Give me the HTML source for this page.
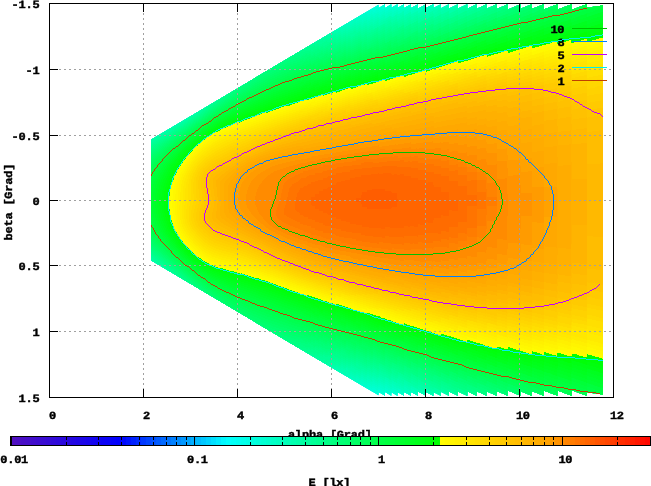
<!DOCTYPE html>
<html><head><meta charset="utf-8"><title>plot</title>
<style>html,body{margin:0;padding:0;background:#fff}svg{display:block}text{text-rendering:geometricPrecision;font-family:"Liberation Mono",monospace;font-weight:bold;font-size:12.0px;fill:#000;stroke:#000;stroke-width:0.45px}</style></head><body>
<svg width="651" height="486" viewBox="0 0 651 486">
<rect width="651" height="486" fill="#fff"/>
<defs><clipPath id="hc"><polygon points="151.3,139.6 378.5,4.7 378.5,8.1 385.0,4.3 385.0,3.5 385.0,7.9 391.3,4.3 391.3,3.5 391.3,7.8 397.5,4.3 397.5,3.5 397.5,7.9 404.0,4.3 404.0,3.5 404.0,8.1 411.0,4.3 411.0,3.5 411.0,8.0 418.0,4.3 418.0,3.5 418.0,8.5 426.0,4.3 426.0,3.5 426.0,8.0 433.3,4.3 433.3,3.5 433.3,8.1 441.0,4.3 441.0,3.5 441.0,8.2 449.0,4.3 449.0,3.5 449.0,8.6 458.0,4.3 458.0,3.5 458.0,8.6 467.2,4.3 467.2,3.5 467.2,8.7 476.8,4.3 476.8,3.5 476.8,8.7 486.6,4.3 486.6,3.5 486.6,8.8 496.8,4.3 496.8,3.5 496.8,9.0 507.7,4.3 507.7,3.5 507.7,9.7 520.6,4.3 520.6,3.5 520.6,8.8 531.8,4.3 531.8,3.5 531.8,9.1 543.8,4.3 543.8,3.5 543.8,9.6 557.6,4.3 557.6,3.5 557.6,9.6 571.7,4.3 571.7,3.5 571.7,9.8 586.9,4.3 586.9,3.5 586.9,7.7 603.0,5.5 603.0,394.5 586.9,392.3 586.9,396.5 586.9,395.7 571.7,390.2 571.7,396.5 571.7,395.7 557.6,390.4 557.6,396.5 557.6,395.7 543.8,390.4 543.8,396.5 543.8,395.7 531.8,390.9 531.8,396.5 531.8,395.7 520.6,391.2 520.6,396.5 520.6,395.7 507.7,390.3 507.7,396.5 507.7,395.7 496.8,391.0 496.8,396.5 496.8,395.7 486.6,391.2 486.6,396.5 486.6,395.7 476.8,391.3 476.8,396.5 476.8,395.7 467.2,391.3 467.2,396.5 467.2,395.7 458.0,391.4 458.0,396.5 458.0,395.7 449.0,391.4 449.0,396.5 449.0,395.7 441.0,391.8 441.0,396.5 441.0,395.7 433.3,391.9 433.3,396.5 433.3,395.7 426.0,392.0 426.0,396.5 426.0,395.7 418.0,391.5 418.0,396.5 418.0,395.7 411.0,392.0 411.0,396.5 411.0,395.7 404.0,391.9 404.0,396.5 404.0,395.7 397.5,392.1 397.5,396.5 397.5,395.7 391.3,392.2 391.3,396.5 391.3,395.7 385.0,392.1 385.0,396.5 385.0,395.7 378.5,391.9 378.5,395.3 151.3,260.4"/></clipPath>
<clipPath id="xl"><rect x="0" y="400" width="651" height="36"/></clipPath></defs>
<g clip-path="url(#hc)" shape-rendering="crispEdges">
<rect x="146" y="-2" width="462" height="404" fill="#00ffeb"/>
<path fill="#00ffe5" d="M607.8 401.8l-214.6 0-1-1-1.4-.1-1-1-1.6-.5-1-1-2-1-.4 4.1-1-1-5-3-.5 .5-.1 1.5-2-1-1-1-1.4-.5-1-1-.5 .4-.1 1.6-5-3-.4 2.1-5-3.5-.6 2-2-1.5-1.4-.5-1-1-.8 .4-.2 1.2-2-1-2.6-2-.4 0-.3 1.2-.7 .4-3.6-2.5-.1 1.1-.9 .5-3.4-2.5-.6 0-.4 3.2-4-3-.9 .4-.1 1.1-4-2.5-.6 1.7-3.4-2.5-.6 1.6-2.4-1.5-1.6-1.5 0 1-1 .5-1-1-2-1-.4 2.8-3.6-2.5-.4 3.4-3-2.5-1.6 1-2.4-2-.6 1.6-3-2.5-.4 0-.6 1.1-.4 0-2.6-2-.4 2.1-3 .1-8.5-2.1-9.5-1.4-7-2.6-7-1.3-7.8-3.7-10.2-3.2-3.6-2.7-12-6.8-2-1.6-3.3-4.7-3.1-3.2-5.9-7.2-3.7-5.9-8.2-10.1-6.5-10-13.3-15.6-17.6-16.4-4.8-3.6-3.6-3.5-5-2.8-4.4-3.6-3.6-2 0-144.3 11.6-4.8 7-4 5.4-2.1 5.6-2.6 9-6.5 5.2-2.8 9.2-9.2 7-6 16.5-18.2 6.1-7.7 10.4-10.9 18-15.8 6-4.3 5.6-2.5 5.4-4 8-2.6 7-3.2 6.6-1.9 4-.7 .4 1.5 3-2.5 .6 1.5 3.4-2.5 .1 1 .5 .4 2.4-2 .6 0 .4 1 .6 0 3-2.5 0 1.1 1 .5 3-2.5 .4 3.1 3.6-2.5 .4 1.7 3.6-2.5 .7 .2 .3 1.3 3.4-2.5 .2 1.2 .8 .4 3.6-2.5 .4 1.5 2-1 2.6-2 .1 1.2 .9 .3 3.4-2.5 .7 .2 .3 1.4 3.6-2.5 .5 .1 0 1 .9 .3 1-1 3.6-2 .1 1.1 .9 .5 1-1 1.4-.5 2-1.5 .1 1.5 .5 .4 5-3.5 .4 1.9 5-3 .6 2 1-1 1.4-.5 1-1 2-1 .6 2.1 2-1.5 1.4-.5 2.6-2 .4 4.2 2-1 1-1 1.6-.5 1-1 1.4-.2 .9-.9 4.6 0 0 1.6 .5 .1 2.7-1.7 3.2 0 .1 .7 1.2-.7 202.4 0 0 403.6z"/>
<path fill="#00ffdf" d="M607.8 401.8l-202.3 0-1.3-.8-.2 .8-2.9 0-2.9-1.9-.8 .3-.3 1.6-.9-.9-2.4-1-2-1.5-.6 .3-1-1-2.4-1-2-1.5-.6 0-.4 3.6-2-1-1-1-1.6-.5-1-1-.9 .5-.1 1.5-1-1-1.4-.5-1-1-2-1-.5 .4-.1 1.6-2-1.5-1.4-.5-1-1-.6 0-.3 1.4-.7 .2-4.4-3-.6 2-4.4-3-.9 .4-.1 1.1-3.6-2-1-1-.4 0-.3 1.3-.7 .4-3.6-2.5-.1 1.1-.9 .5-3.4-2.5-.6 0-.4 3.2-2.6-2-2-1-.4 .4 0 1-4-2.5-.6 1.7-3.4-2.5-.3 1.3-.7 .3-3.6-2.5-.4 1.5-3.6-2.5-.4 3.4-1.6-1.5-2-1-.4 2.8-3.6-2.5-1-.1-2.4-2-.6 2.6-.4 0-3-2.5-.6 1.6-2.4-2-.8 .4-.2 1.2-3 0-6-1.7-11.6-1.9-7-2.6-5.4-.9-4.6-1.6-4.4-2.4-10-3.1-3.6-2.6-14-8.2-3.4-4.6-9-10.2-4-6.2-8-9.5-6.9-10.3-13.1-15-17.6-16.3-5-3.7-3.3-3.4-4.7-2.6-4.4-3.5-4.6-2.7 0-141.8 12.6-5.3 7-4.1 10.4-4.6 9-6.4 5.6-3 9-9 7-5.9 16.6-18.1 5.8-7.3 11-11.2 4-3 13.6-12.1 6.4-4.4 5.6-2.5 5-3.7 8-2.6 7-3.1 6.4-2 3.6-.6 .4 1.9 .6 .1 2.4-2 .6 1.6 2.4-2 2-.7 1.6-1.5 1-.5 0 1 .4 .5 3.6-2.5 .4 2.6 .6 0 2.4-2 1 .4 0 1.1 3.6-2.5 .4 1.7 4-3 .6 2.1 3.4-2.5 .6 1.5 3.4-2.5 .7 .1 .3 1.5 4.6-3 0 1.1 1 .3 3.4-2.5 .7 .2 .3 1.4 3.6-2.5 .5 .1 0 1 .9 .3 1-1 3.6-2 .1 1.1 .9 .5 4.4-3 .1 1.5 .5 .4 4.4-3 .7 .2 0 1 .9 .2 1-1 1.4-.5 2-1.5 .6 2 2-1 1-1 1.4-.5 1-1 .3 1.7 .7 .3 1-1 1.6-.5 1-1 2-1 .4 2.2 2-1 1-1 1.6-.5 1-1 .5 .1 0 1.4 .5 .4 5.3-3.4 .3 0 .3 4 .5 .1 1-1 2.6-1 2-1.5 .4 .4 0 1.6 .6 0 4.5-2.6 1.7 0 0 1 .8 .4 2.3-1.4 3.8 0 .3 .4 .4-.4 7.6 0 0 .6 1.1-.6 180.5 0 0 403.6z"/>
<path fill="#00ffd9" d="M607.8 401.8l-194 0-2-1.1-.6 .1 0 1-1.8 0-4.6-2.7-.7 .1-.3 1.8-2-1.5-2.6-1-1-1-.8 .3-.2 1.6-5-3-.9 .4-.1 1.5-1-1-2.4-1-2-1.5-.9 .4-.1 1.7-1-1-1.6-.5-1-1-2-1-.9 .4 0 1-.5 0-2-1.5-1.6-.5-1-1-.9 .4 0 1-.5 .1-2-1.5-1.6-.5-1-1-.4 2.1-5-3-.6 2-5-3.5-.4 2-2-1.5-1.6-.5-1-1-.4 0-.3 1.3-.7 .3-3.6-2.5-.1 1.2-.9 .4-4-2.5-.4 3.2-3.6-2.5-2-.6-1-1-1.4-.5-1-1-.6 3.2-3.4-2.5-.6 2-4-3-.4 1.6-3.6-2.5-.4 3.4-3.6-2.5-.4 1.7-3.6-2.5-.4 1.4-2.6-2-.4 0-.6 1.1-.4 0-2.6-2-.4 0-.6 1.1-3-2-.4 2.5-1.6 .1-7-1.8-10.4-1.8-7.6-2.7-6.4-1.2-4-1.5-4-2.2-10.6-3.3-3-2.3-14-8-3.8-4.8-9.2-10-3.9-6-8.1-9.3-6.9-10.1-12.5-14.2-17.6-16.4-5.4-4-3-3.1-5-2.8-4.6-3.7-5-2.9 0-139.2 13-5.7 7-4.1 10.6-4.7 9-6.4 5.1-2.8 9.3-9.1 7-5.9 17-18 5.6-6.9 11-10.9 4-3 14-12.2 6-4.1 5.4-2.4 5.6-3.9 8-2.6 6.4-2.9 6.6-2 3-.6 .4 2.1 2.6-2 .4 0 .6 1.1 .4 0 3-2.5 .6 1.4 3-2 .4 1.4 3.6-2.5 .4 1.6 3.6-2.5 .4 1.5 3.6-2.5 .2 1.4 .8 .3 3.4-2.5 .6 1.6 .4 0 2.6-2 .5 0 0 1 .5 .4 3.4-2.5 .7 .1 .3 1.5 1-1 1.6-.5 2-1.5 0 1.1 1 .3 3.4-2.5 .6 .2 .4 1.4 3.6-2.5 .5 .1 0 1 .9 .3 1-1 1.6-.5 2-1.5 .4 2.1 5-3.5 .1 1.5 .5 .4 5-3 .4 1.9 1-1 1.6-.5 2-1.5 .7 .3 0 1 .7 .2 1-1 1.6-.5 2-1.5 .4 0 .3 1.2 .7 .3 2-1 1-1 1.6-.5 1-1 .1 1.8 .9 .4 2-1.5 2.4-1 1-1 .2 1.5 .8 .3 5-3 .2 1.7 .8 .5 1-1 2.6-1 2-1.5 0 1.6 1 .4 4.9-3 1.1 0 .3 3.6 .7 .2 6-3.5 .4 2.5 1-1 3.8-1.8 2.9 0 .3 1 1.5-1 180.1 0 0 403.6z"/>
<path fill="#00ffd3" d="M607.8 401.8l-189.2 0-.4-.4-4 .4-2.4-1.5-1-.1-4-2-2-1.5-.7 .1 0 1.4-.3 .3-6-3.5-.6 2-1.4-.5-1-1-3-1.5-.5 .2-.1 1.6-6-3.5-.3 1.9-.7 .2-1-1-1.4-.5-1-1-2-1-.5 .3-.1 1.6-2-1-1-1-1.4-.5-1-1-.5 .5 0 1.4-.5 .1-1-1-1.6-.5-2-1.5-.4 2.1-2-1.5-1.6-.5-1-1-.8 .4 0 1-.6 .1-2-1.5-1.6-.5-1-1-.4 2-2-1.5-1.6-.5-1-1-.7 .3-.3 1.3-4-2.5-.2 1.2-.8 .4-3.4-2.5-.7 .1-.3 1.5-3.6-2-1-1 0 1.5-.4 .5-4-3-.6 3.1-.4 0-2.6-2-.9 .4-.1 1.1-3.4-2.5-.9 .4-.1 1.2-3.6-2.5-.4 2.9-.6 0-2.4-2-.6 0-.4 1.1-.6 0-2.4-2-1.6 .9-2.4-2-.6 1.6-3.4-2.5-.6 1.6-2.4-2-.6 0-.4 2-1-.1-6.6-1.7-12-2.1-6-2.3-7-1.4-7.9-3.7-9.1-2.7-4.4-3-12.6-6.8-1.8-1.5-3.2-3.9-9.4-10.1-3.7-5.4-8-9-6.6-9.6-13.3-14.7-17.5-16.3-4.9-3.5-3.6-3.6-4.4-2.5-4.6-3.6-6-3.8 0-136.4 13.6-6.1 7.4-4.4 10-4.5 9-6.5 5-2.7 9.9-9.4 6.6-5.4 16.8-17.6 5.9-7 10.8-10.6 4.6-3.3 13.4-11.6 6-4.1 5.6-2.4 5.4-3.8 8-2.6 6.6-2.9 6.4-1.9 2.6-.6 .4 1.6 3-2 .6 1.6 3.4-2.5 .6 1.4 2.4-2 1.6 .9 2.4-2 .6 0 .4 1.1 .6 0 2.4-2 .8 .3 .2 1.2 3.6-2.5 .4 1.6 4-2.5 .6 1.6 3.4-2.5 .1 1.5 .5 .5 4-3 0 1.5 .4 .5 1-1 3.6-2 0 1.1 1 .4 3.4-2.5 .6 .1 .4 1.4 4-2.5 .1 1.1 .9 .3 1-1 1.6-.5 2-1.5 .4 2.1 1-1 1.6-.5 2-1.5 .6 0 0 1 .8 .4 1-1 1.6-.5 2-1.5 .4 1.9 2-1.5 1.6-.5 1-1 .7 .3 .3 1.6 1-1 1.4-.5 1-1 2-1 .6 2.1 2-1 1-1 1.4-.5 1-1 .8 .3 .2 1.8 6-3.5 .6 1.9 5-3 .7 .2 .3 1.9 6-3.5 .1 1.6 .9 .4 2-1.5 4-2 .3 4.1 .7 .2 1-1 5-2.5 .3 .3 0 1.6 .7 .1 6-3 1-1 .4 2.6 6.3-3.3 1 0 0 1.6 .7 .2 3.3-1.8 3.5 0 .2 .8 1.3-.8 165.3 0 0 403.6z"/>
<path fill="#00ffcd" d="M607.8 401.8l-180.5 0-1.1-.6 0 .6-3.2 0-3.8-1.8-1-1-.3 .2-.1 2.1-3-1.5-1-1-2-1-1.6-.1-2-1.5-4-2 0 1.6-1 .3-5-3-.6 .1-.4 1.8-2-1.5-3.4-1.5-.4 .2-.2 1.6-1-1-2.4-1-2-1.5-.9 .5-.1 1.7-1-1-2.6-1-2-1.5-.8 .2-.2 1.6-1-1-1.4-.5-1-1-2-1-.4 .5-.2 1.6-5-3-.4 2-1-1-2.6-1-1-1-.8 .4 0 1-.6 0-1-1-1.6-.5-2-1.5-.4 2.1-2-1.5-1.6-.5-1-1-.8 .3-.2 1.3-4-2.5-.4 2.1-1-1-3.6-2-.1 1.1-.9 .4-3.4-2.5-.7 .1-.3 1.4-3.6-2.5-.6 .1-.4 1.5-3.4-2.5-.1 1-.9 .5-3.6-2.5-.4 3.1-3.6-2.5-.2 1.4-.8 .5-2.4-2-.6 0-.4 1-.6 0-2.4-2-1.6 1-2.4-2-.6 1.5-3.4-2.5-.6 2.6-2-1-1-1-.4 1.9-6.6-1.7-12.4-2.3-6-2.3-6.6-1.3-8-3.6-9.4-2.9-4-2.8-12.6-6.6-2-1.6-3.2-3.9-9.3-9.4-3.9-5.7-8-8.8-6.9-9.5-12.8-14-17.9-16.5-5-3.6-3.3-3.5-4.5-2.4-4.2-3.6-7-4.5 0-133.6 14-6.5 3.6-1.7 4-2.8 10-4.5 9-6.5 5-2.7 9.6-9.2 6.7-5.4 17.1-17.6 6-6.9 10.6-10 4.4-3.3 12.6-10.7 7-4.7 5.4-2.4 5.6-3.8 8-2.6 7.4-3.2 7.6-2.1 .4 1.1 .6 0 2.4-2 .6 1.6 3.4-2.5 .1 1.1 .5 .3 3-2 .4 1.4 3.6-2.5 .4 1.5 3.6-2.5 .1 1.2 .9 .4 2.4-2 .6 0 .4 1.5 3.6-2.5 .5 .2 .4 2.4 .5 .1 1-1 3-1.1 3.6-2.5 0 1.1 1 .4 3.4-2.5 .6 .1 0 1 .4 .4 2-1 2.6-2 0 1.6 .4 .4 4-2.5 .1 1.1 .9 .3 1-1 1.6-.5 2-1.5 .1 1.7 .3 .4 2-1.5 1.6-.5 1-1 .6 0 0 1 .8 .4 1-1 2.6-1 1-1 .4 1.9 5-3 .6 1.9 2-1 1-1 1.4-.5 1-1 .4 1.9 .6 .2 2-1.5 2.6-1 1-1 .2 1.7 .8 .3 2-1.5 2.4-1 1-1 .3 1.8 .7 .1 5-3 .3 1.9 .7 .3 3-1.5 1-1 1.6-.5 .4 2 6.6-3.5 .4 4.2 6.6-3.5 .4 .5 0 1.4 .6 .1 6-3 1-1 .4 2.6 6.6-3.5 .8 .4 0 1.4 .6 .2 6.6-3.5 .3 .3 .1 2.2 6.2-3.2 1.7 0 0 1.6 .7 .1 3.1-1.7 154.9 0 0 403.6z"/>
<path fill="#00ffc7" d="M607.8 401.8l-180.1 0-1.5-1-.4 .3-1-1-6-3-.8 .1-.2 1.7-6.6-3.5-.4 .4 0 1.4-.6 .1-2-1.5-4-2-.4 .4-1-1-3.6-1.5-1-1-.6 .1 0 1.4-.4 .3-5.4-3-.6 1.9-6-3.5-.3 1.9-.7 .2-1-1-2.4-1-2-1.5-.4 .3 0 1.4-.6 .1-1-1-4-2-.6 2.1-1-1-2.4-1-1-1-.9 .4-.1 1.1-1.6-.5-1-1-2-1-.9 .4 0 1-.5 0-1-1-1.6-.5-2-1.5-.4 2.1-1-1-1.6-.5-2-1.5-.8 .3-.2 1.2-4-2.5-.4 2.1-1-1-1.6-.5-2-1.5-.2 1.2-.8 .3-3.4-2.5-.8 .2-.2 1.3-4-2.5-.6 1.6-2-1-1-1-.6 .2-.4 1.3-3.4-2.5-.7 .2-.3 1.4-3.6-2.5-.4 3.4-3.6-2.5-.4 1.4-3.6-2.5-.4 1.5-3-2-.6 1.5-3.4-2.5-.6 1.7-2.4-2-.6 0-.4 2.1-5.6-1.6-12.4-2.3-6-2.3-6.6-1.3-8-3.6-9.4-2.9-4-2.6-13-6.9-1.6-1.1-3.4-4-9.6-9.4-4-5.5-7.9-8.5-7-9.6-8.5-8.7-4.1-4.7-17.9-16.5-4.9-3.5-3.1-3.3-4.6-2.5-4-3.4-8-5.5 0-130.7 14.6-6.8 4-2.1 3.4-2.5 10.2-4.8 8.8-6.3 4.9-2.7 10.1-9.4 6.3-5 17.3-17.3 6-6.8 10.6-9.9 4.4-3.1 13-10.9 7-4.5 5.4-2.4 5-3.5 8-2.6 7.6-3.2 7-1.9 .4 1 2.6-2 .5 .1 .5 2.5 2.4-2 2-.6 2.6-2 0 1.1 1 .3 1-1 2-1 .4 1.5 3.6-2.5 .4 1.5 3.6-2.5 0 1.1 1 .5 3.4-2.5 .6 3.1 2-1 1-1 3-1.1 2-1.5 .4 3.1 2-1 1-1 3-1.1 3.6-2.5 0 1.6 .4 .4 4-2.5 .1 1.1 .9 .3 2-1.5 1.6-.5 1-1 .1 1.7 .3 .3 2-1.5 1.6-.5 1-1 .6 .1 0 1 .8 .4 2-1 1-1 1.6-.5 .2 1.1 .8 .3 1-1 2.4-1 1-1 .4 1.7 .6 .2 1-1 2.6-1 1-1 .8 .4 .2 1.6 2-1.5 2.4-1 1-1 .8 .3 .2 1.8 6-3.5 .4 .3 0 1.4 .6 .2 1-1 4-2 .4 1.8 .6 .3 1-1 3.6-1.5 1-1 .4 2.5 6-3.5 .7 .2 .3 2 6.6-3.5 0 1.5 1 .5 6-3 1-1 .4 4.6 6.6-3.5 1.4-.1 6.6-3.5 0 2 .4 .5 6.5-3.5 1.1 0 .4 4 .6 .1 8-4.1 150 0 0 403.6z"/>
<path fill="#00ffc1" d="M607.8 401.8l-165.5 0-1.1-.6 0 .6-3.7 0-3.3-1.8-.8 .2 0 1.6-.8 0-6.4-3.4-.4 .3-1-1-6-3-.7 .1 0 1.4-.3 .3-6.6-3.5-.3 .2 0 1.6-.7 .1-6-3.5-.4 .3-3-1.5-1-1-2-1-.1 1.6-.5 .3-3.4-1.5-2-1.5-.3 1.7-.7 .2-5-3-.8 .2-.2 1.8-2-1.5-4-2-.6 1.9-5-3-.8 .4-.2 1.1-1.4-.5-1-1-2-1-.9 .4 0 1-.7 .1-1-1-2.4-1-1-1-.5 .3-.1 1.6-5-3-.4 2.1-1-1-1.6-.5-2-1.5-.8 .3-.2 1.2-4-2.5-.4 2.1-1-1-1.6-.5-2-1.5-.3 1.2-.7 .2-4-2.5-.2 1.3-.8 .3-3.4-2.5-.6 1.5-3.4-2-.6 1.5-4-2.5-.4 1.7-3.6-2.5-.4 3.2-3.6-2.5-.4 .4 0 1-.6 0-1-1-2-1-.4 1.5-2.6-2-.4 0-.6 1.1-.4 0-1-1-2-1-.6 1.1-.4 0-2.6-2-.4 1.9-4.6-1.4-13-2.5-5.9-2.3-6.5-1.4-8-3.5-9-2.7-4.6-2.9-13-6.8-14.4-14.1-3.8-5-7.8-8.1-7.4-9.8-8.6-8.6-4-4.6-17.5-15.9-4.9-3.7-3.3-3.3-4.4-2.6-4.1-3.4-5.2-3.4-3.6-2.9 0-127.7 18-8.9 4.8-3.1 10.2-5 8.6-6.2 5.1-2.8 9.7-9 6.3-5 17.4-17 5.9-6.7 10.9-9.9 4.3-3 13.4-10.9 7-4.4 5-2.1 5.4-3.6 7.6-2.4 7.4-3.1 6.6-1.9 .4 1.4 .6 .1 2.4-2 .4 1.5 .6 .1 2.6-2 1.4 .9 2.6-2 .4 .4 1-.5 2.6-2 0 1.1 .4 .4 3.6-2 0 1 .4 .5 3.6-2.5 0 1 .4 .5 4-2.5 .6 3.2 3.4-2.5 .5 .3 .1 1.6 3.4-2.5 1 .5 0 1 2-1.5 1.6-.5 1-1 .4 .4 0 1.6 2-1.5 1.6-.5 1-1 .4 .4 0 1.6 1-1 5-2.1 3.6-2.5 0 1.6 .4 .3 5-3 .6 2 1-1 2.4-1 1-1 .8 .1 .2 1.3 2.6-1 2-1.5 .8 .2 0 1 .6 .2 5-3 .6 2 4-2 2-1.5 .3 1.9 .7 .1 5-3 .9 .3 .1 1.6 5-3 .8 .4 .2 1.7 6-3.5 .3 1.8 .7 .2 5-2.5 1-1 .4 2.7 4-2 2-1.5 .7 .1 0 1.6 .9 .2 7-3.5 .4 2.2 6.6-3.5 .6 0 0 1.6 .8 .3 6.6-3.5 .4 2.5 7-3.5 .7 .2 0 1.4 .9 .4 7.4-4 .7 .2 0 2 .3 .1 5.7-2.7 3.2 0 .1 1.1 2.1-1.1 138.5 0 0 403.6z"/>
<path fill="#00ffbb" d="M607.8 401.8l-165.1 0-1.5-1-.4 .3-6.6-3.5-.6 .2 0 1.4-.8 .3-14-7.3-.6 0 0 1.6-1 .3-2-1.5-4-2-.4 2.3-1-1-5-2.5-1 .4 0 1.5-6-3.5-.6 .3-3-1.5-2-1.5-.6 .1 0 1.6-.4 .2-6-3.5-.2 1.7-.8 .3-5-3-.8 .3 0 1-.6 .1-5-3-.6 2-5-3-.4 2-5-3-.5 .3-.1 1.6-5-3-.4 .4 0 1.7-1-1-1.6-.5-2-1.5-.9 .3-.1 1.1-3-1.5-1-1-.4 2.1-1-1-1.6-.5-2-1.5-.3 .3-.1 1.6-1-1-1.6-.5-2-1.5-.3 1.4-.7 .2-3.4-2.5-.6 2-3.4-2.5-.4 1.4-.6 .1-3.6-2.5-.2 1.4-.8 .3-1-1-2-1-.4 2.7-.6 0-1-1-3-1.2-2.4-2-.7 .2-.3 1.4-2.6-2-.4 0-.1 .6-.9 .4-1-1-2-1-.6 2.6-3-2-.4 1.1-4-1.3-12.6-2.4-6-2.2-6.4-1.4-8-3.6-9.6-2.9-4-2.6-13-6.6-15-14.1-3.9-5-7.5-7.8-7.6-9.5-8.3-8.3-4.1-4.6-17.6-15.8-4.8-3.6-3.2-3.2-4.4-2.7-4-3.4-9.6-6.8 0-124.7 19-9.8 4.6-3.1 10-4.9 8.7-6.4 4.7-2.6 10-9.1 6-4.7 17.9-17 5.7-6.2 11-9.9 4.4-3.1 13-10.4 7-4.3 5.1-2.1 5.5-3.6 7.7-2.4 7.3-3.1 6-1.7 .4 1.4 3-2 .6 1.6 3.4-2.5 .6 1.5 3-2 .4 1.3 3.6-2.5 .4 .4 0 1 .6 .1 2.4-2 1 .5 0 1 3.6-2.5 .4 .5 0 1 .6 0 3.4-2.5 .6 2.1 3.4-2.5 .5 .3 0 1 .5 .1 2-1.5 1.6-.5 .4 1.5 2-1.5 1.6-.5 1-1 .4 .4 0 1.6 1-1 1.6-.5 2-1.5 .4 .4 0 1.6 1-1 5-2.1 3.6-2.5 0 1.6 .4 .3 5-3 .6 2 5-3 .4 1.9 5-3 .4 .2 .2 1.6 5-3 .4 0 .4 1.4 .6 .2 5-3 .9 .4 .1 1.5 6-3.5 .5 .4 .1 1.6 1.4-.5 1-1 3-1.5 .5 .4 0 1.6 .5 0 4-2 1-1 1 .4 0 1.6 .6 0 6-3.5 .4 2.7 6-3.5 .9 .3 0 1.4 .7 .2 7-3.5 .2 1.9 .8 .2 6-3.5 .7 .3 .3 2.2 6.4-3.5 .9 .3 0 1.4 .7 .2 6.4-3.5 .8 .3 .2 2.3 8.6-4.5 .4 .2 0 2 .6 .1 8-4 .4 .4 2.5-1.5 138.1 0 0 403.6z"/>
<path fill="#00ffb5" d="M607.8 401.8l-155 0-3-1.6-.7 0 0 1.6-1.5 0-6.4-3.4-.4 .3-6.6-3.5-.5 0 0 1.6-.5 .2-7-3.5-.3 .3 0 1.4-.7 .1-6.4-3.5-1.6-.1-3-1.5-1-1-2-1-.1 2-.3 .3-6-3.5-.9 .2 0 1.6-.7 .1-1-1-4-2-1.4-.2-5-3-.1 1.5-.9 .4-2-1-1-1-2.6-1-.4 1.9-6-3.5-.6 1.9-4-2-1-1-.8 .3-.2 1.8-5-3-.4 1.9-5-3-.5 .3-.1 1.6-2-1.5-1.4-.5-1-1-.6 0-.4 .4 0 1-.6 .1-4-2.5-.9 .4-.1 1.1-3-1.5-1-1-.3 .4-.1 1.7-2-1.5-1.6-.5-1-1-.4 .3 0 1.6-1-1-1.6-.5-2-1.5-.4 .4 0 1.1-1.6-.5-2-1.5-.9 .5-.1 1-3.4-2.5-.5 .5-.1 1.5-3.4-2.5-.9 .4-.1 1.3-3.6-2.5-.2 1.2-.8 .4-2.4-2-.8 .2-.2 1.2-3.6-2.5-.4 1.5-3-2-.6 1.5-3.4-2.5-.6 1.6-3-2-.4 1.7-16-3.5-6-2.2-6-1.3-8-3.5-9.6-2.9-4-2.6-13.4-6.8-14.6-13.3-6.9-8-4.8-4.4-7.7-9.6-8-7.7-4.2-4.7-17.8-16-4.6-3.3-3.2-3.3-4.2-2.5-4.1-3.5-10.5-7.4 0-121.8 3.4-2.2 16.6-8.6 4-2.8 10-5 8.6-6.2 5.1-3 9.9-8.8 6-4.7 18-16.9 5.7-6 6.7-5.6 4-3.9 4.6-3 13-10.2 7-4.3 5.4-2.3 5-3.3 8-2.6 7-2.9 5.6-1.5 .4 .9 .6 0 2.4-2 .6 1.5 3.4-2.5 .6 1.5 .4 0 2.6-2 .2 1.2 .8 .1 2.4-2 .9 .3 .1 1.2 3.6-2.5 .4 1.5 3.6-2 .4 .4 0 1 4-2.5 .6 1.7 3.4-2 .4 1.2 .6 .2 3.6-2.5 .3 .3 .1 1.7 1-1 1.6-.5 2-1.5 .4 .3 0 1.6 1-1 1.6-.5 2-1.5 .4 .4 0 1.6 1-1 5-2.1 1-1 2-1 .6 .1 0 1 1 .3 1-1 1.4-.5 2-1.5 .6 2 5-3 .4 1.9 5-3 .4 .2 0 1.6 .6 0 1-1 4-2 .5 .4 .1 1.6 6-3.5 .4 .5 0 1.4 .6 .1 2-1 1-1 2.4-1 .5 .5 .1 1.5 5-3 1.4-.1 4-2 1-1 .6 0 .4 4.1 6.6-3.5 .4 .4 0 1.6 6-3 1 .4 0 1.6 .6 0 6.4-3.5 .9 .5 0 1.4 .7 .2 6.4-3.5 .5 .3 .1 2.1 7-3.5 .4 .4 0 2.1 7.6-4 .4 .5 0 2 .6 0 7.4-4 1.6-.2 1.4-1 1 0 5.6-3 .1 2.2 .9 .2 7.7-3.8 1.7 0 0 2.1 3.6-2 127-.1 0 403.6z"/>
<path fill="#00ffaf" d="M607.8 401.8l-154.6 0-11.4-5.8-.9 .2-.1 2.2-6.6-3.5-1.4-.3-3-1.5-1-1-2-1-.8 .1 0 1.6-.8 .1-13.4-6.7-.6 0 0 1.6-.4 .3-6.6-3.5-.2 1.6-.8 .2-11-5.7-.5 .1 0 1.4-.5 .4-6-3.5-.4 2-2.6-1-1-1-2-1-.7 .1-.3 1.7-5-3-.8 .3-.2 1.3-.4 0-4-2.5-.9 .2 0 1-.7 .2-3-1.5-1-1-.9 .3 0 1-.5 .1-3-1.5-1-1-1 .4 0 1.1-.6 0-4-2.5-.9 .4-.1 1.1-3-1.5-1-1-.4 .4 0 1.6-2-1.5-1.6-.5-1-1-.4 .4-4-2.5-.6 .1 0 1-.4 .4-4-2.5-.1 1.1-.5 .4-3.4-2-.1 1-.9 .5-3.6-2.5-.4 3.2-2-1-1-1-.9 .4-.1 1.1-3.6-2.5-.4 .4 0 1-.6 0-1-1-2-1-.4 .4 0 1.1-1-1-2-1-.5 .5-.1 1-3.4-2.5-.6 1.7-2.4-2-.6 0-.4 .8-15.6-3.4-5.4-2.1-6.6-1.5-8-3.4-9-2.8-4.4-2.7-13-6.5-15-13.1-6.7-7.5-4.9-4.4-8-9.6-8-7.5-4-4.5-17.5-15.6-4.7-3.4-3.5-3.6-4.1-2.4-4.2-3.6-11-7.8 0-118.8 4.2-2.8 16.4-8.7 4.4-3.1 9.6-4.8 8.7-6.4 4.7-2.7 10-8.9 5.9-4.4 18-16.6 6.1-6.2 6.6-5.2 4-3.8 4.4-3 13.6-10.4 7-4.1 5-2.1 5.4-3.4 7.6-2.3 7.4-3.1 4.6-1.2 .4 .8 2.6-2 .4 0 .6 1 .4 0 1-1 2-1 .1 1 .5 .5 1-1 2-1 0 1.1 .4 .2 3.6-2.5 .2 1.3 .8 .2 1-1 2-1 .4 1.4 3-2 .9 .4 .1 1.1 3.6-2.5 .7 .4 .3 1.2 2-1 1-1 .8 .2 .2 1.2 4-2.5 .4 1.5 1.6-.5 1-1 2-1 .4 .3 0 1 .6 .1 4-2.5 .4 .4 0 1.6 1-1 6-2.6 2-1.5 .6 .1 0 1 1 .3 1-1 3-1.5 .6 .2 0 1 .8 .3 1-1 3-1.5 .8 .2 .2 1.2 1.6-.5 1-1 2-1 .9 .3 0 1 .5 0 5-3 .5 .4 0 1.6 .5 0 5-3 1.6-.1 2-1 1-1 2-1 .5 .1 0 1.4 .5 .5 5-3 .5 .1 0 1.4 .5 .4 5.4-3 .7 .2 0 1.4 .3 .5 6.6-3.5 0 1.6 1 .4 5.4-3 .6 0 0 1.6 1 .4 6.4-3.5 .6 .1 .4 4 .6 0 6.4-3.5 .6 .4 6.4-3.5 .6 0 0 2 .4 .4 7.6-4 .1 2.2 .9 .4 7.4-4 .7 0 0 2 .3 .3 8-4 .9 .3 .1 2 8-4 1 0 .6-.5 .4 .3 4.4-2.4 5 0 .2 .6 1-.6 120 0 0 403.6z"/>
<path fill="#00ffa9" d="M607.8 401.8l-143.9 0-5.7-2.7-.2 2.1-.8 .2-15.4-7.8-.7 .2 0 1.4-.9 .3-13.4-6.8-.6 .1 0 1.4-1 .3-7-3.5-.3 .2 0 1.6-.7 0-5.4-3-1.6-.1-2-1-1-1-3-1.5-.1 2-.3 .3-6-3.5-.5 .2 0 1.6-.5 0-4.6-2.5-1.4-.1-2-1-1-1-2-1-.6 0 0 1.6-.4 .3-4-2-2-1.5-.3 1.6-.7 .3-5-3-.3 1.7-.7 .3-1-1-3-1.5-.9 .2 0 1-.7 .2-4-2.5-.9 .3 0 1-.5 .1-4-2.5-.6 0-.4 .4 0 1-.6 .1-2-1.5-6-2.6-1-1 0 1.6-.4 .4-4-2.5-.6 .1 0 1-.4 .3-4.6-2.5-.4 1.5-3-1.5-1-1-.2 1.6-.4 .4-3.4-2.5-.2 1.1-.8 .4-3-2-.7 .2-.3 2.4-.6 .1-2-1.5-3-1.1-2-1.5 0 1-.4 .4-3.6-2-.4 1.5-2.6-2-.4 0-.6 1.5-3.4-2.5-.5 2.7-.5 0-2.6-2-.4 .4-15-3.3-5-1.8-6.6-1.6-8-3.4-9.2-2.9-4.2-2.5-13.6-6.6-15-12.8-6.4-7.1-5-4.4-8-9.3-8-7.4-4-4.4-17.6-15.4-4.4-3.4-3.6-3.5-4-2.4-12.3-9.8-3.7-2.2 0-115.8 5-3.5 16.6-8.9 4-2.9 9.8-5.1 8.6-6.4 4.6-2.5 10-8.8 6-4.6 18-16.1 7-6.9 5.4-4.2 4.6-4.1 4.4-2.9 13-9.8 7-4 5-2.1 5.6-3.4 7.4-2.3 7.2-2.9 4.4-1.2 .4 1.2 .6 0 2.4-2 .5 .4 0 1 .5 .1 2.6-2 .9 .5 .1 1 1-1 3-1.2 1-1 2-1 .4 1.4 2-1.5 1.6-.5 .4 1.5 3.6-2.5 .2 1.2 .8 .2 3-2 .7 .4 .3 1.2 3.4-2.5 .6 2 1-1 3-1.5 .4 1.4 4.6-2.5 .3 1.3 .7 .2 4-2.5 .4 .3 0 1.6 1-1 6-2.6 2-1.5 .6 .1 0 1 1 .3 4-2.5 .6 .2 0 1 .8 .3 4-2.5 .8 .2 0 1 .8 .1 3-1.5 1-1 .9 .4 .1 1.5 5-3 .9 .5 .1 1.5 2-1.5 4-2 .4 .4 6-3.5 .1 1.5 .5 .5 5-2.5 .5 0 0 1.6 .5 .3 6-3.5 .4 2.5 6-3.5 .7 .2 0 1.4 .9 .4 6-3 .1 1.6 .9 .4 6.4-3.5 .7 .1 0 1.6 .9 .3 6.4-3.5 .2 2.2 .4 .2 6.4-3.5 .8 .3 .2 2.2 6.6-3.5 1 0 .2 1.7 .8 .3 8-4 .4 .3 0 2 .6 0 8-4 .4 .4 .6-.5 1 0 6.4-3.5 1.7-.4 0 2 .9 .1 8-4 1 .2 1.3-.9 119.7 0 0 403.6z"/>
<path fill="#00ffa3" d="M607.8 401.8l-138.2 0-10.8-5.1-.7 .1 0 2-.3 .2-16.6-8.3 0 2.1-.4 .3-7-3.5-.4 .2-.2 2-14.4-7.2-.8 .2 0 1.4-.8 .2-12.4-6.2-.6 0 0 1.6-.4 .3-5.6-3-.8 .1-.2 1.6-5.4-3-.5 .4 0 1.6-.5 0-2-1-1-1-2-1-1.6-.2-5.4-3-.6 1.9-5.4-3-.6 2-5-3-.3 .3-.1 1.5-4.6-2.5-.9 .4 0 1-.5 .1-2-1.5-2-1-1.6-.1-1-1-3-1.5-.5 0 0 1-.5 .5-4-2 0 1.1-.4 .4-3-1.5-1-1-.6 .1 0 1-1 .2-1-1-3-1.5-.4 1.6-3.6-2-.7 .1-.3 1.3-3-2-.7 .3-.3 1.2-4-2.5-.4 1.7-2-1-1-1-.7 0 0 1-.3 .4-3-2-.8 .2-.2 1.2-3.6-2.5-.4 1.4-2-1-1-1-.4 1.3-.6 .3-2.6-2-.4 0-.6 1.5-2.4-2-.6 0-.4 .7-14-3-5.6-2-6-1.4-8-3.4-9.4-3-4-2.4-13.6-6.5-15-12.3-7-7.2-4.4-3.9-8.6-9.5-15.8-14.9-13.6-11.9-4.6-3.4-3.1-3.1-4-2.6-12.3-9.9-4.6-2.9 0-112.7 6.5-4.5 15.5-8.5 4.1-2.9 9.9-5.3 8.4-6.3 4.6-2.6 10-8.7 6-4.5 26.6-23.7 4.1-2.9 4.9-4.4 4-2.4 13-9.6 7.2-4.2 5.2-2.1 5-3 7.6-2.4 7.2-2.9 3.8-1 .4 1.1 2.6-2 .8 .3 .2 1.2 3.4-2.5 .6 1.5 2-1 1-1 .4 .4 0 1 .6 0 1-1 4-1.7 2-1.5 .4 1.5 3.6-2 .4 1.4 4-2.5 .3 1.2 .7 .4 3-2 .6 1.4 2.4-1 1-1 .8 .2 .2 1.2 3-1.5 1-1 .9 .3 0 1 .7 .2 1-1 3-1.5 .4 .3 0 1 .6 .1 3.4-2 1-.1 3-1.5 1-1 .6 .1 0 1 1 .3 4-2.5 .6 .2 0 1 .8 .3 4.6-2.5 .4 1.8 5-3 .5 .4 .1 1.5 5.4-3 .5 .5 .1 1.5 5.4-3 1.6-.2 2-1 1-1 2-1 .6 .1 0 1.6 .4 .3 5.4-3 .2 1.7 .8 .2 5.6-3 .2 1.8 .8 .2 5.4-3 .8 .2 0 1.6 .8 .2 5.4-3 .8 .2 .2 1.8 7-3.5 .8 .3 0 1.4 .8 .3 6.4-3.5 .6 2.4 7-3.5 .3 .3 .1 2.1 7-3.5 .9 .4 .1 2.2 8-4 1.6-.3 1.4-1 1 0 5.6-3 .1 2.1 .3 .3 1 0 8-4 1 .3 0 2 .6 0 4.4-2.5 1 0 2.6-1.5 3-.8 4.4-2.5 1.3-.3 2.7 0 0 1.6 1.6-1 2-.6 107 0 0 403.6z"/>
<path fill="#00ff9d" d="M607.8 401.8l-126.5 0-4.1-2.1 0 2.1-1.7 0-7.7-3.8-1 .2 0 2.1-5.6-3-1 0-1.4-1-1.6-.2-7.4-4-.9 .1-.1 2.1-7.6-4-1 .4-6.4-3.5-.2 2-.4 .2-6.4-3.5-1.6-.2-7-3.5-.1 1.6-.3 .2-6-3-1 .2 0 1.6-.6 0-12.4-6.2-.3 1.6-.7 .2-5-2.5-.5 .3-.1 1.6-2-1-1-1-3-1.5-.4 .3-5.6-3-.6 .2 0 1-.8 .2-5-2.5-.3 1.3-.7 .2-4.6-2.5-.3 .3-.1 1.5-5-3-.5 .5-.1 1.5-10-5.1-.5 0 0 1-.5 .5-3.4-2-.7 .1-.3 1.3-3-1.5-1-1-.7 .2 0 1-.9 .2-4-2.5-.2 1.3-.8 .2-2-1-1-1-.8 .2-.2 1.2-3.4-2-.6 1.5-3-1.5-1-1-.4 1.6-1.6-.5-2-1.5-.3 1.2-.7 .2-1-1-2-1-.4 .4 0 1-2-1-1-1-1.6-.1-2-1.5-.5 0-.5 2.6-3.4-2.5-.5 .5 0 1-.5 0-2.6-2-.4 .5-13.6-3-5-1.9-6.4-1.6-8-3.3-9-2.9-4-2.3-14-6.6-15-12-7-6.9-4.3-3.6-8.3-9-8-7-3.7-4-17.7-15.4-4.6-3.5-3.6-3.5-3.8-2.4-12-9.8-5.6-3.9 0-109.5 7.3-5 15.7-8.9 4-2.9 9.6-5.2 8.4-6.3 4.6-2.5 10-8.6 6-4.5 26.4-23.1 4.6-3.2 4.4-3.9 4-2.5 13.1-9.4 17.9-9.3 7-2.2 7.6-3 3-.7 .4 .6 3-2 .6 1.4 2-1 1-1 1.4 1 2.6-1.5 .4 1.4 2-1.5 4-1.7 1-1 .6 .1 0 1 .4 .3 3-2 .7 .1 0 1 .3 .4 1-1 3-1.5 .6 1.5 3.4-2 .6 1.5 3.4-2 .8 .1 .2 1.3 4-2.5 .9 .2 0 1 .7 .2 1-1 3-1.5 .4 .3 0 1 .6 .1 3.4-2 1-.1 3-1.5 1-1 .6 .1 0 1 1 .3 4.4-2.5 .6 1.9 5-3 .4 1.9 4.6-2.5 .9 .3 0 1 .5 .1 11-5.6 .6 .1 0 1.4 .4 .4 6-3.5 .6 2 5-2.5 .7 .2 .3 1.6 6-3 .3 1.8 .7 .3 5.4-3 .9 .3 .1 1.6 6.6-3.5 .4 2.5 7-3.5 .9 .3 0 1.6 .7 .1 6.4-3.5 .5 .4 0 2 .5 0 6.6-3.5 .4 .4 .6-.5 1 0 5.4-3 .6 0 0 2 .4 .5 8-4 .6 .1 0 2 .4 .2 8-4 .9 .2 0 2 .7 .1 3.4-2 1 0 4.6-2.5 1 .3 8-4 .8 .1 0 2 .6 .1 7-3.5 1 0 1.6-1 .4 .3 3.9-1.9 106.7 0 0 403.6z"/>
<path fill="#00ff97" d="M607.8 401.8l-119.9 0-1.1-.7-.4 .7-4.7 0-4.5-2.5-.4 .3-.6-.5-1 0-8-4-.2 2.1-.8 .2-4.4-2.5-1 0-2.6-1.5-.4 .3-8-4-.7 .1 0 1.4-1.3 .2-6.6-3.5-.4 .3 0 2-.6 .1-6.4-3.5-.6 .2-6.4-3.5-1.6-.3-2.4-1.5-1 0-3.6-2 0 2.1-.4 .3-6.6-3.5-.3 .2 0 1.4-.7 .2-12.4-6.2-.2 2-.4 .3-4-2-1-1-.8 .3 0 1.4-.6 .2-1-1-4-2-1.6-.2-5.4-3-.2 1.6-.4 .3-1.4-.5-1-1-3-1.5-.6 1.9-1.4-.5-1-1-2-1-1 .3 0 1.5-2-1.5-3-1.5-.6 .4-5-3 0 1.5-.4 .5-4.6-2.5-.5 0 0 1-.5 .4-3.4-2-.7 .2-.3 1.2-4.6-2.5-.2 1.3-.8 .1-4-2.5-.4 2-1-1-3-1.5-.5 .3 0 1-.5 .1-3-2-.5 .5 0 1-.5 0-2-1.5-1.6-.5-.4 1.6-2-1.5-5.6-2.7 0 1-.4 .4-2-1-1-1-.7 .2-.3 1.3-1-1-2-1-.6 1.5-3-2-1.4 .9-2-1.5-.6 0-.4 .8-13-3-5-1.8-6-1.5-8-3.3-9-2.8-4.6-2.5-13.4-6.3-15.5-11.8-6.8-6.6-4.3-3.4-8.4-8.8-8-7-3.6-3.8-17.9-15.4-4.5-3.5-3.1-3.1-3.9-2.5-18.6-14.8 0-106.1 8.6-5.9 15-8.7 4-2.9 9.4-5.3 8.6-6.3 4.4-2.6 28.6-23.3 14-12.2 4.4-3 4.6-3.9 17.4-11.9 17.6-8.9 14.4-5.2 3.6-.5 2-1.5 1.4 .9 3-2 .6 1.5 2-1 1-1 .1 1.1 .9 .3 1-1 2-1 .4 .3 0 1 3.6-2 2-.6 2-1.5 0 1.1 1 .4 3-2 .5 0 0 1 .5 .4 2-1.5 1.4-.5 .6 1.5 3-1.5 1-1 .4 1.9 4-2.5 .9 .2 .1 1.2 4.6-2.5 .4 .3 0 1 .6 .1 3.4-2 .5 .5 0 1 .5 0 4.6-2.5 .4 .3 1-1 4-2 .6 1.9 5-3 .2 1.7 .8 .2 2-1 1-1 2.4-.7 4.6-2.5 .5 0 0 1 .9 .5 5.6-3 0 1.5 1 .3 4-2 1-1 .6 .3 0 1.4 .8 .3 1-1 4-2 .4 .3 .2 2 6-3 .4 2.1 6.6-3.5 .4 .4 0 2 6.6-3.5 .4 .5 0 2 7-3.5 1.6-.1 6.4-3.5 .1 2.1 .9 .4 6.6-3.5 .1 2.1 .9 .3 7-3.5 .1 2.2 .9 .3 8-4 .3 .1 0 2 .7 .1 7-3.5 2-.1 3.4-2 1 0 4.6-2.5 .1 2.6 .3 .1 2.6-1.5 1 0 3.4-2 1 0 3.6-1.8 1 0 7-3.5 .1 2.7 .3 .2 5-2.5 1 0 3.6-2 1 .2 .4-.5 99.6 0 0 403.6z"/>
<path fill="#00ff91" d="M607.8 401.8l-113.5 0-1.1-.1-6-3-.6 .1 0 2-.8 .1-5.6-3-1 0-1.4-1-1.6-.2-1.4-1-1 0-5.6-3-1 .1 0 2-.4 .2-5.6-3-1 0-2-1-.4 .2 0 2.1-5.6-3-1 0-1.4-1-1.6-.3-7-3.5-.3 .3-.1 2.1-4.6-2.5-1 0-1.4-1-.6 .2-6.4-3.5-.9 .1 0 1.6-.7 0-7-3.5-.4 .4-6.6-3.5-.4 2.2-12.6-6.2-.5 0 0 1.6-.5 .2-5.4-3-.3 1.8-.7 .1-11.6-5.7-.5 0 0 1.6-.5 .3-5.4-3-.6 1.9-4.4-2.5-1 .3 0 1-.6 0-4.4-2.5-.6 .4-1-1-4-2 0 1.5-.4 .4-4-2-1-1-.6 2-3.4-2-.8 .2 0 1-.8 .1-1-1-3-1.5-.3 .4 0 1-.7 0-3-1.5-1-1-.4 .5 0 1.5-4-2.5-.6 .4-1-.5-2-1.5-.5 0-.5 1.5-3-1.5-1-1 0 1-1 .5-2-1-1-1 0 1.1-1 .2-2-1-1-1-.4 1.5-1.6-.5-2-1.5-.4 1.4-2.6-1.5-.4 0-.6 1-.4 0-3-2-.5 .4-.1 1-2-1-1-1-.4 .5-12-2.7-5.1-1.8-5.9-1.6-8-3.2-9.6-3.1-4-2.2-14-6.5-15-11-7-6.5-4.4-3.5-8.4-8.4-8.2-7-4-4-21.5-18-3.5-3.5-4-2.6-11.8-9.9-4.3-3-2.9-2.8 0-102.5 9.6-6.7 15-9 3.4-2.6 9.6-5.4 8.4-6.4 4.6-2.5 31.7-25.7 11.3-9.5 4-2.6 5-4.1 17-11.3 17.4-8.8 15-5.3 1.6-.3 .4 1.1 2-1 1-1 .6 .3 1-.5 2-1.5 1.4 1 2.6-1.5 0 1 .4 .4 3-2 .8 .2 .2 1.1 1-1 2-1 1 .3 0 1.1 1-1 6-2.6 1-1 .1 1.1 .9 .4 3-1.5 .6 1.5 4-2.5 .1 1.5 .3 .3 1-1 3-1.5 .8 .2 .2 1.2 3-1.5 1-1 1 .3 0 1 .6 .1 3.4-2 .5 .5 .1 1.5 1-1 4-2 .4 .3 5-3 .6 1.9 4.4-2.5 .9 .2 0 1 .7 .2 4.4-2.5 .6 .3 3-1.5 2-1.5 .5 0 0 1.6 .5 .3 5.4-3 .7 .1 0 1.6 .3 .2 5.6-3 .7 .2 .3 1.8 5.4-3 .5 .2 0 1.6 .5 0 5.6-3 .4 .4 0 2.1 6.6-3.5 .4 .4 6.6-3.5 0 2.1 .4 .4 7-3.5 .6 .1 0 1.4 1 .4 5.4-3 1.2 .2 0 1.4 .8 .3 6-3 .8 .3 0 1.4 .8 .2 6-3 1.3 .4 0 1.4 .7 .2 6-3 1 0 4.4-2.2 1 0 3.6-2 1.1 0 0 2 .3 .3 3.6-2 1 0 5-2.5 .4 .2 0 2 1 .1 3.6-2 1 0 3.4-2 1 .2 2.6-1.5 1 0 6-3 .4 .2 0 2.6 5-2.5 1 0 2.6-1.5 1 0 .4-.5 .6 .2 2.4-1.5 1 0 2.6-1.5 1.2-.3 5.6 0 .2 .7 1.1-.7 85.9 0 0 403.6z"/>
<path fill="#00ff8b" d="M607.8 401.8l-106.9 0-1.1-.7-1 0-1.6-1-.3 .1 0 1.6-2.2 0-5.9-3-1 0-4.6-2.2-1 0-4.4-2.5-.9 .1 0 2-.7 .2-8-4-2-.3-4.4-2.5-1 0-2.6-1.5-.2 2.1-.8 .2-8-4-.4 .2-2.6-1.5-1 0-3.4-2-.7 .1-.3 2.3-6.6-3.5-2-.3-5.4-3-.7 .1 0 1.4-.9 .2-7-3.5-.4 .3-6.6-3.5 0 2.1-.4 .2-6.6-3.5-.4 .3 0 2-11.6-5.7-.7 .1-.3 1.8-12.4-6.3-.1 1.5-.5 .4-5-2.5-.6 .1-.4 1.8-1-1-4-2-.4 .2 0 1.6-.6 0-2-1-1-1-2.4-.6-4.6-2.5 0 1.5-.4 .4-4-2-1-1-.6 1.9-3.4-2-.9 .3 0 1-.7 .1-1-1-3-1.5-.4 .4 0 1.5-1-1-3-1.5-1.6-.1-1-1-2-1-.5 .1 0 1-.5 .3-3.4-2-.2 1.1-.8 .4-3-2-.7 .2-.3 1.3-2-1-1-1-.8 .1-.2 1.2-2-1-1-1-1 .4 0 1-2-1-1-1-1.6-.1-2-1.5-.5 0 0 1-.5 .5-3.4-2.5-.1 1-.9 .3-2-1.5-.8 .2-.2 .7-11.6-2.8-11-3.3-8-3.3-9-2.8-18.4-8.8-14-9.9-8-7-4-3-9-8.7-8-6.5-3.6-3.7-21.9-18.3-3.5-3.5-3.6-2.3-12-10.1-4-2.9-4-4 0-98.7 10.4-7.5 14.6-9 3.6-2.7 9.4-5.5 8.6-6.4 4.4-2.6 10.2-8.4 4.9-3.4 17-13.6 9.5-8 6-3.9 4.4-3.7 17-11 7.4-3.8 4.9-2 5.7-3.1 14-4.9 1.6-.4 1 .6 2.4-1.5 .6 1.4 3.4-2.5 .5 .4 0 1 .5 0 2-1.5 1.6-.1 1-1 2-1 0 1 1 .3 1-1 2-1 .3 1.3 .7 .1 1-1 2-1 .4 .3 0 1 .6 .1 2-1.5 2.4-.6 3-2 .1 1 .5 .5 4-2 0 1.1 1 .2 3-1.5 1-1 .4 2 3-1.5 1-1 1 .2 0 1 .6 .1 3.4-2 .5 .5 .1 1.5 1-1 4-2 .4 .3 4-2 1-1 .6 1.9 1.4-.5 1-1 2-1 .9 .2 .1 1.7 4-2 1-1 .6 .3 5.4-3 .1 1.6 .9 .3 5.6-3 .1 1.7 .9 .2 5.4-3 .3 1.8 .7 .1 11.6-5.7 0 2 .4 .5 6.6-3.5 0 2 .4 .4 6.6-3.5 .4 2.5 7-3.5 .7 .1 0 1.6 .9 .2 6-3 .8 .2 0 1.6 .6 .1 1.6-1 1 0 4-2 .4 .3 0 2.1 3.6-2 1 0 2.4-1.5 3-.6 6-3 .6 0 0 2 .4 .3 2.6-1.5 1 0 5-2.5 .3 .3 0 2 .7 0 6-3 1 0 1.4-1 2-.2 3.6-2 1 0 3.4-2 .4 .2 .2 2.5 4-2 1 0 3.4-2 1 0 .6-.5 .4 .3 5-2.5 1 0 2.6-1.5 1.7-.3 .3 2.6 5-2.5 1 0 1.4-1 1 0 4-2 .6 .3 1.4-1 85.6 0 0 403.6z"/>
<path fill="#00ff85" d="M607.8 401.8l-99.7 0-.3-.4-1 .3-3.6-2-1 0-5-2.5-.1 2.6-.3 .1-7-3.5-1 0-1.6-1-3-.7-3.4-2-1 0-2.6-1.5-.1 2.6-.3 .2-9-4.5-1 .3 0 2-.6 0-4.4-2.5-1 0-2.6-1.5-.4 .2-2.6-1.5-1 0-4.4-2.5-2-.3-6-3-.6 .1 0 1.4-.4 .4-2-1-1 0-3.6-2-.9 .2 0 1.4-1.1 .1-5.4-3-1.6-.3-1.4-1-1 0-4.6-2.5-.4 .3 0 2-6.6-3.5-.4 .3-.6-.5-1 0-4.4-2.5-.9 .2-.1 1.5-6-3-.6 .3-5.4-3-.2 1.6-.8 .3-5.6-3-.4 .2-6-3-.1 1.5-.5 .4-5.4-3-.6 1.9-5-2.5-.4 .2 0 1.6-4.6-2.5-1.4-.1-4.6-2.5 0 1.5-.4 .4-5-3-.6 1.9-3.4-2-1 .3 0 1-.6 0-2-1.5-2-1-.4 .4-4.6-2.5 0 1-.4 .4-4-2-.3 1.2-.7 .2-3-2-.6 2-1-1-3-1.5-.3 1.3-.7 .1-3-2-.4 .3-1-.5-2-1.5-.6 0 0 1-.4 .4-2-1.5-1.6-.5-.4 1.4-3-2-.3 1.2-.7 .3-1-1-2-1-.5 .3-.1 1-2-1-1-1-.4 .6-11-2.7-10.6-3.2-8-3.2-9-2.9-18.4-8.6-14.6-9.8-12-9.6-20.4-18.4-11.5-9.2-13.6-12-3.9-2.8-15.6-12.9-5-5 0-94.7 11.6-8.9 14.4-9.1 3.5-2.6 9.3-5.6 8.2-6.2 4.7-2.8 41.9-32.9 5.4-3.5 5-3.9 17-10.7 7-3.6 5-2 6-3.1 14-4.8 .6-.1 .4 .6 1-1 2-1 .6 1.3 3.4-2 .6 1.4 3-2 .4 .3 0 1 .6 .1 2-1.5 1-.5 .4 .3 3-2 .8 .2 .2 1.2 2-1.5 1.6-.5 .4 1.4 3-1.5 1-1 .6 .3 3.4-2 .1 1 .5 .5 2.4-1 1-1 .6 .1 0 1 1 .3 4-2.5 .4 1.9 4-2.5 .9 .2 0 1 .7 .1 3.4-2 .5 .5 .1 1.5 2-1.5 3-1.5 .4 .3 4.6-2.5 .6 .1 0 1 .8 .3 4.6-2.5 .3 .2 .1 1.6 10.6-5.1 .5 .1 0 1.4 .5 .4 5.4-3 .8 .2 .2 1.6 5.6-3 .8 .4 .2 1.6 5.4-3 .6 .3 6-3 0 1.5 1 .4 6-3 .1 1.6 .9 .3 6-3 .4 2.5 7-3.5 .9 .3 0 1.4 .7 .2 2.4-1.5 1 0 3-1.5 .5 .4 0 1.4 1.1 .1 4.4-2.5 1 0 .6-.5 .4 .3 7-3.5 .7 .1 0 2 .3 .4 2.6-1.5 1 0 5-2.5 .3 .2 0 2 .7 0 2.4-1.5 1 0 2.6-1.5 1 0 3.4-1.6 1 0 6-3 .7 0 0 2 .9 .2 2.4-1.5 1 0 5-2.5 2-.3 2.6-1.5 1 0 5-2.5 .4 2.9 5-2.5 1 0 2.6-1.5 1 0 .4-.5 .6 .2 1.4-1 1 0 2.6-1.5 1 0 1.4-1 1 0 4-2 .1 2.6 .9 .2 2.6-1.5 1 0 2.4-1.5 1 0 1.3-.8 2.6 0 .1 2.1 1.6-1 1 0 1.4-1 1.1-.1 70.5 0 0 403.6z"/>
<path fill="#00ff80" d="M607.8 401.8l-86 0-1-.6-.2 .6-5.6 0-1.2-.3-2.6-1.5-1 0-2.4-1.5-.5 .3 0 2.4-.5 .1-3.6-2-1 0-2.4-1.5-1 0-1.6-1-.4 .3-1.6-1-1 0-7-3.5-.8 .2 0 2-.6 0-5-2.5-1 0-2.6-1.5-.4 .3-.6-.5-1 0-8-4-.2 2.2-1.2 .1-3.6-2-1 0-2.4-1.5-3-.8-6-3-.9 .2 0 1.4-1.1 .1-4.6-2.5-3-.6-6-3-.7 0 0 1.6-.7 .1-6-3-1.6-.3-1.4-1-1 0-4.6-2.5-.4 2.3-3.6-2-1 0-1.4-1-1.6-.3-5.4-3-.8 .1 0 1.6-.8 .1-5.4-3-1 .3-4.6-2.5-.6 .1 0 1.4-.4 .3-5.4-3-1 .3 0 1.5-6-3-.6 .4-5.4-3-.2 1.5-.4 .3-4.4-2.5-1 .2 0 1.6-4.6-2.5-1.4-.1-4.6-2.5 0 1.5-.4 .3-5-3-.6 1.9-8.4-4.2-.6 0 0 1-.4 .4-4.6-2.5-.1 1.1-.9 .3-3.4-2-.4 1.3-.6 .1-3-1.5-.6 1.5-3-1.5-1-1-.4 .3-3.6-2 0 1.1-1 .3-1-1-2-1-.2 1.1-.8 .2-3-2-.3 1.4-.7 .1-2.4-1.5-.5 .4-.1 1-2-1.5-2.4-.7-2-1.5-.8 .1-.2 .8-10-2.6-11-3.3-7.6-3-9-2.9-19-8.7-14-9.1-12-9.2-9.3-8.4-22.7-18.7-14-12.3-3.6-2.6-15.3-13-6.1-6.1 0-90.4 2.6-2.6 10.1-7.9 13.9-8.9 3.4-2.7 9.6-5.7 8-6.1 5-3 9.8-8 22.2-16.5 9.5-7.5 5.6-3.6 4.9-3.7 17-10.4 7.4-3.8 4.6-1.8 5.4-2.8 14-4.8 .6-.1 .4 1 .6 0 2-1.5 2.4-.7 2-1.5 .6 1.4 2.4-1.5 .9 .2 .1 1.2 2-1.5 2.6-.7 3-2 0 1 1 .3 2-1 1-1 .4 1.9 1-1 3-1.5 .5 .3 0 1 .5 .1 3-1.5 .5 .4 .1 1.1 9-4.7 .4 1.9 1-1 3-1.5 .9 .2 0 1 .7 .2 3.4-2 .5 .4 .1 1.5 2-1 1-1 2-1 .4 .3 4.6-2.5 .6 .1 0 1 .8 .3 4.6-2.5 .3 .2 0 1.6 .7 0 10.4-5.1 .2 1.5 .4 .3 6-3 .3 1.7 .7 .2 5.4-3 .5 .4 0 1.4 .5 .1 4.6-2.5 1 .3 5.4-3 .7 .1 0 1.6 .9 .2 5.4-3 .8 .2 0 1.6 .8 .1 6-3 .4 2.5 4.6-2.5 1 0 1.4-1 1.6-.2 6-3 .5 .1 0 1.4 1.5 .4 6-3 .1 2.2 .3 .2 7.6-3.5 .3 2.3 .7 .1 7-3.5 2-.2 2.4-1.5 1 0 4-2 .6 .1 0 2 .4 .2 5-2.5 1 0 2.6-1.5 1.4 .2 0 2.1 4-2 1 0 2.6-1.5 1 0 2.4-1.3 1 0 2.6-1.5 1 0 4-2 .4 .2 0 2.6 5-2.5 3.6-1 1.4-1 .6 .2 3-1.5 1 0 2.4-1.5 1 0 5-2.5 .4 .2 0 2.6 .6 0 3-1.5 1 0 2.6-1.5 1 0 3-1.5 .4 .4 1.6-1 1 0 2.9-1.5 70.1 0 0 403.6z"/>
<path fill="#00ff7a" d="M607.8 401.8l-85.6 0-1.4-1-.6 .3-.4-.5-1 0-2.6-1.5-3.4-1-5-2.5-.3 2.6-1.7-.3-2.6-1.5-1 0-5-2.5-.4 .3-.6-.5-1 0-3.4-2-1 0-4-2-.2 2.5-.4 .2-8-4-2-.2-1.4-1-1 0-6-3-.6 0 0 2-.4 .3-5-2.5-1 0-2.6-1.5-.4 .2-.6-.5-1 0-7-3.5 0 2.1-1 .1-7-3.5-.4 .3-.6-.5-1 0-4.4-2.5-1.1 .1 0 1.4-.9 .2-6-3-1.6-.2-1.4-1-1 0-4.6-2.5-.1 2.1-.3 .2-6-3-1.6-.3-1.4-1-1 0-3.6-2-.1 2.1-.3 .1-5.6-3-1.4-.2-1.6-1-1 0-2.4-1.5-.1 1.6-.5 .2-6-3-.4 .2 0 1.6-.6 0-5-2.5-1.4-.1-4.6-2.5-.6 .1 0 1.4-.4 .3-4.4-2.5-1 .2 0 1-.6 .1-4.4-2.5-.6 .4-4.4-2.5-.7 .1 0 1-.9 .2-4.4-2.5-.6 1.9-8.4-4.3-.7 .1 0 1-.9 .4-1-1-3-1.5-.4 1.8-3-1.5-1-1-.5 .4-.1 1.5-2-1-1-1-.9 .5 0 1-.5 0-1-1-2-1-1.6-.2-2-1-1-1-.4 1.8-1-1-2-1-1 .4 0 1-3-2-2.6-.6-1-1-.5 0 0 1-.5 .4-2-1-1-1-.8 .2-.2 1-3-2-.4 .7-9.6-2.5-10.4-3.2-8-3.2-8.6-2.7-19-8.5-14.4-9-12-8.9-32-26.4-14-12.3-3.6-2.6-15.1-13-6.9-7.2 0-86.1 3.6-3.7 9.9-8 17.1-11.7 9.4-5.9 8.5-6.4 4.2-2.4 10.3-8.3 32-23.7 5.6-3.3 4.2-3.3 17.2-10.3 7.6-3.6 10.4-4.8 13.6-4.6 .4 1.1 2-1.5 1-.5 .6 .2 3-2 .5 0 0 1 .5 .4 1-1 2-1 .4 1.4 1.6-.5 2-1.5 .4 .2 0 1 .6 .1 2-1 1-1 .4 .3 3.6-2 .4 1.4 2.6-1 1-1 .8 .2 0 1 .6 .1 1-1 2-1 .5 .5 .1 1.5 1-1 3-1.5 .4 .3 4.6-2.5 .4 1.4 4-2 .9 .2 0 1 .7 .2 3.4-2 .5 .4 .1 1.5 10-5.2 .7 .1 .3 1.8 4.4-2.5 1 .3 0 1 .6 0 10.4-5.2 .2 1.6 .8 .3 3.6-2 2-.5 .4 1.9 5.6-3 .9 .3 .1 1.6 2.4-1.5 1 0 1.6-1 1.4-.3 5.6-3 .4 2.5 6-3 1 .3 0 1.4 .6 .1 6-3 .4 .5 0 1.4 1 .1 3.6-2 1 0 1.4-1 1.6-.2 1.4-1 1 0 3.6-2 .6 .1 0 2 .4 .3 7-3.5 .3 .2 0 2 .7 .1 7-3.5 1 .4 2.4-1.5 1 0 3.6-2 1 .1 0 2 .4 .2 2.6-1.5 1 0 5-2.5 .3 .2 0 2 .7 .1 4-2 3.4-1 1.6-1 .4 .3 .6-.5 1 0 2.4-1.5 1 0 4-2 .5 .2 .1 2.5 6-3 1 0 3-1.5 .4 .3 1.6-1 1 0 2.4-1.5 1 0 4-2 .3 .2 0 2.4 .7 .1 5-2.5 3.6-1 2.4-1.5 3.6-.6 1.4-1 1 0 2.6-1.5 1 0 3-1.5 .1 2.5 .9 .3 10.4-4.5 1 .2 0 2.6 .6 0 1.4-1 1 0 1.6-1 1 0 3-1.5 55-.1 0 403.6z"/>
<path fill="#00ff74" d="M607.8 401.8l-70.4 0-1.2-.2-1.4-1-1 0-1.6-1-.2 2.2-2.4 0-4.8-2.4-1 0-2.6-1.5-1 .3-1.4-1-1 0-2.6-1.5-1 0-2.4-1.5-1 0-3-1.5-.1 2.5-.5 .3-4-2-1 0-2.4-1.5-1 0-1.6-1-.3 .2-.1 2.6-5-2.5-1 0-2.6-1.5-1 0-.4-.5-.6 .3-5-2.5-1 0-2.4-1.5-.9 .2 0 2-.7 0-6-3-1 0-1.4-1-3-.7-2.6-1.5-1 0-2.4-1.5-.9 .1-.1 2.1-5-2.5-1 0-2.6-1.5-.4 .3-.6-.5-1 0-6-3-.3 .1 0 2-1.7-.4-4.4-2.5-2-.3-3.6-2-1 0-4.4-2.3-1 0-3.6-2-1 .1 0 1.4-.4 .3-6-3-1 .3 0 1.4-.6 .1-6-3-.4 .2-2.6-1.5-1 0-2.4-1.5-.5 .3 0 1.4-.5 .1-5-2.5-.6 .3-5.4-3-.9 .1 0 1.6-.7 0-5.4-3-.6 .4-5.4-3-.1 1.6-.5 .2-5-2.5-.4 .3 0 1.4-.6 .1-9.4-4.7-.7 .2 0 1-.9 .1-4.4-2.5-.5 .4-.1 1.5-8.4-4.2-.8 .1-.2 1.3-4-2-1 .3 0 1-3.6-2-1.4-.1-2.6-1.5-.5 0 0 1-.5 .4-3-1.5-1-1-.4 1.8-2-1.5-2.6-.7-2.4-1.5-.6 0 0 1-.4 .4-3-2-.8 .2-.2 1.2-2-1-1-1-.5 .2 0 1-.5 .1-6-3.2-.8 .1-.2 .8-8.6-2.3-11-3.4-16-5.7-19.4-8.5-15-9.1-11.6-8.1-17-13.5-39.3-33.2-8.1-7.2-7.6-8.2 0-81.7 4.7-4.9 10.3-8.4 16.3-11.6 9.3-5.8 8.4-6.4 4.6-2.7 10-7.9 33-23.8 4.4-2.5 4.6-3.4 17.4-10.2 18-8.2 12.6-4.2 .4 .5 2.6-1.5 1.4 .8 2.6-1.5 1.4-.2 2-1.5 .6 .1 0 1 .4 .3 3-2 .8 .1 .2 1.2 3.6-2 .4 .3 1-1 2-1 .6 .1 0 1 .4 .2 3.6-2 .7 .2 .3 1.2 3.4-2 .4 1.4 .6 .1 3.6-2 .4 .3 3-1.5 1-1 .6 .1 0 1 1 .2 3.4-2 .8 .2 0 1 .8 .2 3.4-2 .5 .4 .1 1.5 10.4-5.2 .6 1.9 4.4-2.5 1 .3 0 1.5 10.6-5.2 .6 .1 .4 1.8 6-3 .4 .2 0 1.6 .6 0 5.4-3 .6 .4 5-2.5 .6 .1 0 1.4 .4 .3 6-3 .3 1.7 1.1 .2 5.6-3 1 .3 6-3 0 1.5 .4 .5 1 0 6-3 .6 .1 0 1.4 1 .3 1.4-1 1 0 4-2 .6 2.4 6-3 2-.2 2.4-1.5 1 0 3.6-2 0 2 .4 .4 1 0 7-3.5 .8 .1 0 2 .8 .2 6-3 4.4-1.2 2.6-1.5 1 0 4-2 .1 2.5 .3 .2 6-3 1 0 1.6-1 1 .2 2.4-1.5 1 0 2.6-1.5 1 0 3-1.5 .4 2.8 1.6-1 3.4-1 5-2.5 1 .3 5-2.5 3.6-1 2.4-1.5 1.2 .1 0 2.4 .4 .3 2.4-1.5 1 0 1.6-1 1 0 4-2 1 0 .4 .2 0 2.6 1.6-1 1 0 1.4-1 1 0 1.6-1 3.4-1 1.6-1 1 .3 1.4-1 1 0 1.6-1 1 0 3.8-1.9 4.1 0 0 1.6 .5 0 1.6-1 2-.6 46 0 0 403.6z"/>
<path fill="#00ff6e" d="M607.8 401.8l-62.2 0-.4-.4-3.4-.7-1.6-1-1 0-2.4-1.5-1 0-3-1.5-.6 .1 0 2.4-.4 .3-10.6-4.5-.8 .2-.2 2.7-5-2.5-1 0-2.4-1.5-1 0-3-1.5-.6 .3-1.4-1-3.6-1-2.4-1.5-1 0-1.6-1-.1 2.6-.3 .1-4-2-1 0-2.6-1.5-1 0-1.4-1-.6 .3-.4-.5-1 0-2.6-1.5-1 0-4-2-.1 2.1-1.3 .1-2.6-1.5-1 0-5-2.5-.4 .3-1.6-1-1 0-6-3 0 2-1.4 .2-3.6-2-1 0-2.4-1.5-1 .3-7-3.5-.7 .1 0 2-.3 .1-2.6-1.5-1 0-3.4-2-1 .2-6-3-.8 .2 0 1.4-.8 .1-1.4-1-1 0-3.6-2-2-.2-6-3-.4 2.2-5.6-3-2-.2-4.4-2.5-1.4 .2-.2 1.6-3.4-2-3-.8-4.6-2.5-1.2 .1-.2 1.6-5.6-3-1.4-.1-1.6-1-1 0-2.4-1.5-.1 1.6-.9 .2-4.6-2.5-.4 .3 0 1.5-5-2.5-.6 .3-4.4-2.5-.8 .2 0 1-.8 .1-8.4-4.2-.6 .1 0 1-1 .2-4-2-.3 1.2-.7 .2-8.4-4.2-.1 1-.5 .4-3-1.5-.7 .1-.3 1.3-7.4-3.8-.6 .1 0 1-.4 .3-3.6-2-.2 1.1-.8 .2-1-1-2-1-.4 .4 0 1-.6 0-2.4-1.5-.6 .3-1-1-2-1-.7 .2-.3 1.1-1-1-2-1-.4 .6-8.6-2.3-26.3-9-19.7-8.4-14-8.1-11.7-7.9-17.7-13.6-14.8-12-24.2-20.8-7.9-7.2-8.7-9.4 0-77.3 6-6.4 10.5-8.9 15.5-11.2 9-5.8 8.5-6.4 4.2-2.6 10.4-8 32.9-23.2 4.6-2.4 5-3.5 17.4-9.9 17-7.7 13.6-4.3 2.4-1.5 .1 1.1 .5 .2 3.4-2 .6 1.3 2.4-1.5 2.6-.6 2-1.5 .1 1.1 .3 .2 3-1.5 1 .3 0 1 3.6-2 .4 .3 1-1 3-1.5 .6 1.4 3-1.5 .8 .3 0 1 .6 .1 2-1 1-1 1.6-.2 3.4-2 .6 .1 0 1 1 .3 3.4-2 .8 .1 0 1 .8 .2 3.4-2 .5 .4 .1 1.5 10.4-5.2 .6 1.8 5-2.5 .4 .4 0 1.5 4.6-2.5 1 .3 5.4-3 .6 1.8 6-3 .4 .3 0 1.6 1 0 4.6-2.5 3-.7 3.4-2 .6 1.8 1 0 4.4-2.5 1 .3 0 1.6 .6 0 6-3 .4 .3 1.6-1 1 0 3.4-2 .7 .1 0 1.6 .3 .3 1 0 6-3 .8 .1 0 1.6 .8 .1 5-2.5 1 0 .4-.5 .6 .3 2.4-1.5 1 0 2.6-1.5 1 0 0 1.6 1 .2 7-3 .4 2.4 5-2.5 1 0 2.6-1.5 1 .3 2.4-1.5 1 0 4-2 .6 0 0 2 .4 .3 3-1.5 1 0 2.6-1.5 1 0 1.4-1 1 .3 0 2 .6 0 4-2 1 0 1.4-1 3.6-.8 2.4-1.5 1 0 1.6-1 1 0 3-1.5 .4 .2 0 2.6 1.6-1 1 0 1.4-1 3.6-1 1.4-1 2-.3 1.6-1 1 0 1.4-1 1 0 4-2 1 0 1.6-1 .9 .3 .1 2.5 3-1.5 1 0 1.4-1 1 0 1.6-1 1 0 1.4-1 1 .3 1.6-1 1 0 1.4-1 3.6-1 4-2 .4 3.3 1.6-1 1 0 4-2 2.4-.5 4-2 1 .2 3.9-1.9 45.7 0 0 403.6z"/>
<path fill="#00ff68" d="M607.8 401.8l-45.9 0-1.1-.7-1 0-1.6-1-.6 .1 0 1.6-4.1 0-3.7-1.8-1 0-1.6-1-1 0-1.4-1-.9 .2 0 2.6-.7 0-3-1.5-1 0-2.4-1.5-1 0-1.6-1-3.4-.6-4-2-3.6-1-2.4-1.5-.2 2.5-.4 .3-1 0-2.4-1.5-3.6-1-5-2.5-.9 .3-.1 2.5-1.4-1-3.6-1-5-2.5-.4 .3-3-1.5-1 0-6-3-.4 .2-.2 2.5-4-2-1 0-2.4-1.5-1 0-.6-.5-.4 .3-1.6-1-1 0-1.4-1-1 0-4-2-.9 .2-.1 2.1-5-2.5-1 0-2.6-1.5-1 .2-2.4-1.5-1 0-3.6-2-1.4 .2 0 2-3.6-2-1 0-2.4-1.5-2-.3-2.6-1.5-1 0-2.4-1.5-2-.3-5-2.5-.6 0 0 1.6-1 .1-6-3-2-.2-2.4-1.5-1 0-2.6-1.5-.1 2.1-.3 .1-6-3-3-.8-3.6-2-.7 .1 0 1.6-.7 .1-4.6-2.5-1 .2-6-3-.2 1.6-.8 .2-5.4-3-1 .3-4.6-2.5-.5 0 0 1.6-.5 .2-5-2.5-.4 .3 0 1.5-4.6-2.5-3-.7-2.4-1.5-.9 .2 0 1-.7 .1-8.4-4.2-.7 .1 0 1-.9 .2-4-2-.4 .2 0 1-.6 .1-8.4-4.2-.6 1.9-3.4-2-.4 .2 0 1-.6 .1-7.6-3.7-.2 1.2-.8 .1-7-3.7 0 1-.4 .4-3-1.5-.4 1.1-.6 .1-1-1-2-1-.6 .3-2.4-1.5-.7 .1-.3 .8-7.6-2.1-26.4-9-19.6-8.2-14-7.6-5.4-3.6-7-4.5-17.2-12.8-15.1-12-23.7-20.4-8-7.6-9.6-10.6 0-72.8 7-7.6 10.6-9.1 15-11.1 9.3-6.2 8.1-6.3 4.6-2.7 10-7.7 32.4-22.3 5.6-3 4.4-3.1 17.1-9.5 17.9-7.8 11.6-3.8 .3 .6 .7 .2 1-1 2.4-.8 2-1 1-1 .6 1.3 3-1.5 .4 .4 0 1 .6 0 2-1 1-1 .4 .3 3.6-2 .2 1.1 .8 .2 7.4-3.7 .1 1.1 .5 .2 3-1.5 .7 .3 .3 1.1 3.4-2 1 .3 0 1 .6 .1 8.4-4.2 .8 .1 0 1 .8 .2 3.4-2 .5 .4 .1 1.5 10.4-5.2 .6 1.8 5-2.5 .4 .4 0 1.4 .6 .1 4.4-2.5 .6 .3 5-2.5 .7 .2 .3 1.6 5.4-3 2-.2 4.6-2.5 .5 .1 0 1.4 .9 .4 5-2.5 .3 1.7 .7 .1 3.6-2 3-.7 6-3 0 2 .4 .4 6-3 .8 .2 .2 1.7 2-.5 5-2.5 1 .3 0 1.4 .6 .1 4-2 1 0 1.4-1 .6 .3 .4-.5 1 0 5-2.5 .8 .2 .2 2.1 2.6-1.5 1 0 4-2 .4 .4 0 2 .6 0 5-2.5 1 0 1.4-1 2-.2 7.6-3.5 .3 .2 0 2 1.1 0 1.6-1 3.4-1 2.6-1.5 3.4-.7 5-2.5 1 0 .6-.5 .9 .2 0 2 .5 0 3-1.5 1 0 2.6-1.5 1 0 1.4-1 1 .3 1.6-1 1 0 4-2 1 0 1.4-1 1.4 .1 0 2 .6 .1 3-1.5 1 0 1.6-1 1 0 1.4-1 1 0 1.6-1 3.4-.7 1.6-1 3.4-1 1.6-1 1 0 1.4-1 .8 .1 0 2.6 .8 .1 1.4-1 1 0 3-1.5 1 0 1.6-1 1 0 1.4-1 1 .3 1.6-1 1 0 4-2 2.4-.5 4-2 .1 3 .5 .2 3-1.5 2.4-.5 1.6-1 1 0 1.4-1 1 0 1.6-1 1.1-.2 36.9 0 0 403.6z"/>
<path fill="#00ff62" d="M607.8 401.8l-38-.1-1.6-1-1 0-1.4-1-1 0-1.6-1-2.4-.5-3-1.5-.1 3.1-.5 .3-4-2-2.4-.5-1.6-1-3.4-1-1.6-1-.4 3.4-1.6-1-3.4-1-4-2-1 0-1.6-1-.4 .2 0 2.6-1 0-1.6-1-1 0-1.4-1-3.6-1-2.4-1.5-1 .3-1.6-1-1 0-1.4-1-1 0-4-2-1 0-1.6-1-.7 .2-.3 2.6-5-2.5-3.4-1-1.6-1-.4 .3-3-1.5-1 0-1.6-1-1 0-2.4-1.5-1.2 0 0 2-.8 .2-5-2.5-1 0-2.6-1.5-1 .3-1.4-1-1 0-2.6-1.5-1 0-3-1.5-.1 2.1-.9 .2-4-2-1 0-2.4-1.5-1 .2-2.6-1.5-1 0-2.4-1.5-1 0-1.6-1-.1 2.1-.9 .1-1.4-1-1 0-2.6-1.5-4.4-1.3-5-2.5-.4 .2-.2 2-5-2.5-1 0-2.4-1.3-1 0-5-2.5-1 .3 0 1.4-.6 .1-2.4-1.5-1 0-2.6-1.5-.4 .2-.6-.5-1 0-3.4-2-1 0-.6-.5-.4 .2-6-3-.1 1.5-1.5 .3-4.4-2.5-1 .2-4.6-2.5-1.1 .1 0 1.4-.3 .2-4.6-2.5-1 0-.4-.5-.6 .3-4.4-2.5-1.1 0 0 1-.9 .3-4.6-2-.4 .3 0 1-1 0-8.6-4.3-1.3 .3 0 1-.7 0-4.4-2.5-.6 .3-4-2-.2 1.2-1.2 .1-8.6-4.2 0 1.5-.4 .3-3.6-2-.8 .3-.2 1.1-7.4-3.7-.7 0 0 1-.9 .2-2-1.5-1-.5-.4 .3-3.6-2 0 1.1-1 .2-3-1.5-.4 1.4-6.6-3.3-1.4 .8-2.6-1.5-.4 .5-2-.5-18-5.6-13.6-4.8-19.4-8.1-14-7.3-12-7.4-17-12.1-11.4-8.8-14.2-11.8-14.2-12.8-7.3-7-10.5-12.2 0-67.6 8.1-9.2 10-9 14.9-11.3 9.6-6.5 8-6.2 4.4-2.7 10.6-7.9 32.4-21.7 5-2.6 4.6-3 17.4-9.4 17.6-7.5 11-3.6 1 .2 2.4-1.5 .5 .3 0 1 .5 0 1-1 2-1 .6 .2 2.4-1.5 .9 .3 .1 1.1 7-3.7 .7 0 0 1 .3 .2 3.6-2 .4 .4 0 1 .6 0 7.4-3.7 .6 1.9 3.4-2 1 .2 0 1.1 4.6-2.5 1 .3 3.4-2 .8 .1 0 1 .8 .2 3.4-2 .5 .4 .1 1.5 8.4-4.2 2-.5 .3 1.2 .7 .1 3.6-2 2-.2 4.4-2.5 .1 1.6 .5 .3 5-2.5 .8 .2 .2 1.6 6-3 .4 .3 .6-.5 1 0 4.4-2.5 .1 2.1 .5 .2 4.4-2.5 1.4 .3 .2 1.5 6-3 .4 .4 .6-.5 1 0 5-2.5 .1 2.1 .3 .2 6-3 .9 .2 0 1.6 .7 .1 5-2.5 4.4-1.3 2.6-1.5 1 0 1.4-1 .2 2.2 .4 .2 3-1.5 1 0 2.4-1.5 1 .2 0 2.1 4-2 1 0 2.6-1.5 1 .3 1.4-1 1 0 5-2.5 .8 .2 0 2 .8 .1 2.4-1.5 1 0 4-2 2-.2 1.6-1 3.4-1 2.6-1.5 1.1 .1 0 2 .9 .1 2.4-1.5 1 0 4-2 3.6-.8 7.4-3.5 .8 .1 .2 2.7 1.6-1 1 0 1.4-1 3.6-1 1.4-1 3.6-.7 1.4-1 1 0 1.6-1 1 0 1.4-1 1 0 3-1.5 .2 2.5 .4 .2 2-.5 1.4-1 1 0 1.6-1 1 0 1.4-1 1 0 1.6-1 .4 .3 0 2.6 1 0 3-1.5 1 0 1.6-1 2.4-.5 1.6-1 3.4-.7 1.6-1 2.4-.5 1.6-1 1 0 1.4-1 2.6-.5 .4-.5 .5 .2 .1 3 4-2 2.4-.5 1.6-1 2.4-.5 3-1.5 1 .1 1.6-1 1 0 1.4-1 1 0 2-1 28.6-.2 0 403.6z"/>
<path fill="#00ff5c" d="M607.8 401.8l-18.2 0-1.4-.9-1 0-.3 .9-6.8 0-1.3-.9-2.6-.5-1.4-1-1 0-1.6-1-.8 .4-.2 3-3-1.5-1 0-1.4-1-1 0-1.6-1-2.4-.5-3-1.5-.6 .4-2-1-1 0-1.4-1-1 0-1.6-1-2.4-.5-3-1.5-.6 .1 0 2.4-.4 .4-2-1-1 0-1.6-1-1 0-1.4-1-2.6-.5-1.4-1-.8 .1 0 2.6-.8 .1-1.4-1-3.6-1-1.4-1-1 0-1.6-1-3.4-.7-1.6-1-1 0-1.4-1-1 0-1.6-1-1 0-3-1.5-.5 .1 0 2-1.5 .2-1.4-1-1 0-1.6-1-3.4-1-1.6-1-.3 .2-.1 2.6-3-1.5-1 0-1.6-1-1 0-2.4-1.5-2-.2-3-1.5-1 0-4-2-.9 .1 0 2-.7 .1-7.4-3.5-1 0-.6-.5-.4 .3-1.6-1-1 0-5-2.5-1.4 .1 0 2.1-6-3-1 0-1.6-1-.4 .2-.6-.5-1 0-6-3-1 .2-2.4-1.5-1 0-2.6-1.5-.5 0 0 2-.5 .2-5-2.5-1 0-2.4-1.3-1 0-3.6-2-2-.5-.3 1.7-.7 0-6-3-1 .3-2.4-1.5-1 0-2.6-1.5-.4 .1 0 2.1-3.6-2-1 0-1.4-1-.6 .2-1.4-1-1 0-2.6-1.5-2-.3-3.4-2-1 0-.6-.5 0 1.6-1 .2-3.4-2-3-.8-5-2.5-.1 1.5-.9 .2-4.6-2.5-1 .3-4.4-2.5-.1 1.5-.5 .3-5-2.5-.4 .2 0 1.6-.6 0-4.4-2.5-.6 .2-4-2-.3 .3-.1 1.5-9.6-4.7-.4 1.8-3.6-2-.9 .4 0 1-.5 0-7.6-3.8-.4 .2 0 1-.6 .1-6.4-3.2-.9 .1-.1 1.2-6.6-3.2-.6 0-.4 1.2-6.4-3.2-.7 0-.3 .7-6.6-1.9-26-8.8-19-7.7-14.4-7.1-12.6-7.4-16.4-11.3-16-12.3-16.6-14.2-13.6-13-9.5-11-2.9-3.9 0-61.8 2.4-3.3 6.9-8 9.7-9 14.7-11.4 32.3-23.3 32.6-21.2 9.4-5.4 18-9.3 17-7.2 11-3.3 2.6-1.5 1.4 .8 6.6-3.2 .4 1.3 3-1.5 1 .2 0 1.1 3.6-2 .4 .2 1-.5 2-1.5 .9 .3 0 1 .7 0 7.4-3.7 .2 1.1 .8 .3 3.6-2 .3 .3 .1 1.5 8.6-4.2 1.1 .1 .3 1.2 4-2 .5 .4 .1 1.5 4.4-2.5 2-.2 3.6-2 .7 .2 0 1 .7 .1 9.6-4.2 .5 .1 0 1 1.5 .2 4.4-2.5 .4 .3 0 1.4 .6 .1 5-2.5 2-.1 4.6-2.5 .6 0 0 1.6 .4 .2 3-1.5 1 0 1.4-1 .5 .3 0 1.4 1.1 .1 3.4-2 1 0 .6-.5 .4 .3 6-3 .8 .1 0 1.6 .8 .1 4-2 2-.5 .4 .4 0 1.4 .6 .1 5-2.5 1 0 2.4-1.3 1 0 1.6-1 1 0 2.4-1.5 .4 .2 0 2 .6 .2 5-2.5 1 0 .6-.5 .4 .2 4-2 1 0 2.6-1.5 .1 2.1 1.3 .2 2.6-1.5 1 0 4-2 1 .3 2.4-1.5 1 0 4-2 .6 .1 0 2 1 .2 1.4-1 1 0 1.6-1 1 0 4-2 1 .2 2.4-1.5 1 0 4-2 1.1 .1 0 2 .9 .2 1.6-1 1 0 4-2 1 0 1.4-1 1 .2 1.6-1 1 0 4-2 1 0 1.4-1 1.1 0 0 2 1.5 .3 1.4-1 1 0 1.6-1 1 0 1.4-1 1 0 4-2 .5 .3 0 2.4 1.1 .1 1.4-1 2.6-.5 1.4-1 1 0 3-1.5 3.6-.7 1.4-1 1 0 1.6-1 2.4-.5 1.6-1 1.2 .1 .2 2.7 .6-.5 2.4-.5 1.6-1 1 0 1.4-1 2.6-.5 1.4-1 1 0 .6-.5 1 .2 4-2 2.4-.5 3-1.5 1 0 1.6-1 1 0 .4-.5 1 .1 1.6-1 1 0 1.4-1 2.6-.5 1.4-1 6.6 0 0 .6 1.4 0 1.1-.6 18.5 0 0 403.6z"/>
<path fill="#00ff56" d="M607.8 401.8l-9.6-.3-3-1.5-2.4-.5-1.6-1-2.4-.5-.6-.5-1.2 .3 0 2.4-1.2 .3-1.6-1-2.4-.5-1.6-1-4-1-1.4-1-1 0-2-1-.6 3.5-3-1.5-2.4-.5-3-1.5-1 0-1.6-1-1 0-1.4-1-.4 .2-.2 3.1-.4-.5-2.6-.5-1.4-1-1 0-1.6-1-2.4-.5-1.6-1-3.4-.6-1.6-1-2.4-.5-1.6-1-1 0-3-1.5-1 0 0 2.6-.4 .2-1.6-1-1 0-1.4-1-1 0-1.6-1-1 0-1.4-1-2-.5-.4 .3-.2 2.6-3-1.5-1 0-1.4-1-1 0-1.6-1-1 0-1.4-1-3.6-.7-1.4-1-1 0-1.6-1-1 0-4-2-.1 2.6-.9 .1-7.4-3.5-3.6-.7-1.4-1-3.6-1-2.4-1.5-.7 0 0 2-1.3 .2-2.6-1.5-1 0-4-2-2-.2-4-2-1 0-2.4-1.5-.7 0 0 2-.9 .2-5-2.5-1 0-1.4-1-1 .2-2.6-1.5-1 0-4-2-.3 .2 0 2-.7 0-6-3-1 .2-2.4-1.5-1 0-1.6-1-1 0-2.4-1.3-1 0-5-2.5-.7 .1 0 1.4-.9 .2-4-2-1 0-2.4-1.3-1 0-3.6-2-1.3 .1-.1 1.6-5-2.5-2-.2-5-2.5-2-.4-3.6-2-1 0 0 1.6-.4 .2-2.6-1.5-1 0-2.4-1.5-.6 .2-1.4-1-1 0-2.6-1.5-.5 .1 0 1.4-.5 .2-5-2.5-.4 .3-1.6-1-1 0-2.4-1.5-.1 1.5-1.9-.2-3.6-2-.4 .2-.6-.5-1 0-3.4-2-.1 1.5-.5 .3-4-2-.4 .2-4.6-2.5 0 1.6-.4 .2-4-2-1 .2 0 1.1-4-2-.6 .3-3.4-2-.3 1.2-1.3 .1-6.4-3.3-.8 .2-.2 1.1-7.6-3.7-.1 1-.9 .2-6.4-3.2-.2 1-.8 .2-2.6-1.5-.4 .5-6-1.8-25.6-8.7-19-7.5-15-7-12.4-7-16.6-10.8-15.5-11.8-16.8-14.6-7.1-6.7-7.2-7.3-9.4-11.4-3-4.7 0-55.2 3.4-5.1 6.6-8.1 9.8-9.5 14.8-11.8 31.4-22.7 33-20.9 10-5.6 17.6-8.8 17-7 10-3.2 1 .6 6.4-3.2 .5 .2 0 1 .5 0 6.6-3.2 .2 1.2 .8 .1 6.4-3.3 .8 .2 .2 1.1 7.6-3.7 .5 0 0 1 .9 .3 3.6-2 .4 1.9 9.6-4.7 .1 1.5 .3 .3 4-2 .5 .3 .1 1.5 4.4-2.5 1 .3 4.6-2.5 .7 .2 .3 1.6 4.4-2.5 1 .3 4.6-2.5 .5 .1 0 1.4 .5 .3 1.4-1 1 0 3-1.5 .5 .2 .1 1.6 6-3 .4 .3 .6-.5 1 0 3.4-2 1.3 .2 .3 1.6 2.4-1.5 1 0 1.6-1 2-.2 5-2.5 0 1.6 .4 .2 1 0 5-2.5 1 .3 0 1.4 .6 .1 5-2.5 2-.1 1.4-1 1 0 4-2 .7 .1 0 1.4 1.3 .2 6-3 1 .3 1.6-1 1 0 4-2 0 2.1 1 .2 1.4-1 1 0 2.6-1.5 2-.5 .4 .2 0 2.1 1.6-1 3.4-1 1.6-1 3.4-.7 1.6-1 3.4-1 2.6-1.5 .3 .1 .1 2.6 1.6-1 1 0 4-2 1 0 1.4-1 1 .3 1.6-1 1 0 4-2 1 0 1.4-1 .5 .1 .1 2.6 3-1.5 2.4-.5 4-2 1 .3 1.6-1 1 0 1.4-1 1 0 1.6-1 1 0 2-1 .8 .1 0 2 1.2 .1 3-1.5 1 0 1.4-1 1 0 1.6-1 5-1.2 1.4-1 2.6-.5 1.4-1 1 0 3-1.5 .8 .2 0 2.4 .8 .2 1.4-1 2.6-.5 4-2 6.4-1.7 1.6-1 1 0 1.4-1 2.6-.5 3-1.5 .6 0 0 2.6 1.4 .1 1.4-1 2.6-.5 1.4-1 2.6-.5 1.4-1 6.6-1.8 1.4-1 4-1 1.6-1 2.4-.5 1.6-1 2.4-.4 1.5-1 18.1 0 0 403.6z"/>
<path fill="#00ff50" d="M607.8 401.2l-4-.8-.3-.6-2.3-1.1-4-1-1.4-1-5.6-1.5-3-1.5 0 3.1-1 .3-.4-.5-4-1-1.6-1-2.4-.5-1.6-1-1 0-3.4-1.5-.2 3.2-.4 .3-.4-.5-2.6-.5-1.4-1-2.6-.5-1.4-1-2.6-.5-1.4-1-1.3 .1-.3 2.8-2-.5-1.4-1-2.6-.5-1.4-1-1 0-1.6-1-2.4-.5-.6-.5-.3 .2 0 2.6-1.1 0-1.6-1-2.4-.5-1.6-1-1 0-3-1.5-3.4-.6-1.6-1-1 0-1.4-1-2.6-.5-1.4-1-1.2 .1 0 2.4-.4 .3-1.4-1-1 0-1.6-1-3.4-1-4-2-1.5 .3 0 2-1.1 0-1.4-1-1 0-1.6-1-1 0-4-2-1 .3-1.4-1-3.6-1-4-2-.8 .1 0 2-1.2 .1-1.4-1-3.6-1-2.4-1.5-1 .3-1.6-1-1 0-1.4-1-3.6-1-1.4-1-1 .1 0 2-.6 .1-1.4-1-3.6-1-2.4-1.5-1 .2-1.6-1-3.4-1-2.6-1.5-3.4-.8-5-2.5-.6 0 0 2-.4 .2-4-2-1 0-1.6-1-1 .2-2.4-1.5-1 0-2.6-1.5-1.3 .2 0 1.4-.7 .1-4-2-1 0-1.4-1-2-.3-2.6-1.5-1 0-1.4-1-2-.3-5-2.5-.7 .1 0 1.4-.9 .2-1.4-1-1 0-2.6-1.5-1 .2-5-2.5-.9 .2-.1 1.5-5-2.5-2-.3-5-2.5-2-.3-3.4-2-1.1 .1 0 1-1.5 .1-3.4-2-1 .3-5-2.5-.1 1.5-.5 .2-5-2.5-.4 .3-1.6-1-1 0-2.4-1.5-.2 1.5-.4 .2-4-2-.4 .3-3.6-2-1.1 .1 0 1-.9 .1-7.4-3.7-1.1 0 0 1-.5 .3-2.4-1.5-2-.3-3.6-2-.1 1.1-.9 .2-3-1.5-.4 .2-3.6-2 0 1.1-1 .2-6.4-3.3-.1 1.1-.9 .1-2.6-1.5-2-.2-1.4-1-.7 0-.3 .6-5-1.5-25.6-8.7-19.4-7.5-15-6.7-12.6-6.7-16-10-16-11.9-10-8.6-13.5-12.4-6.7-7-8.8-11-3-4.6-2-4.3 0-46.8 1.2-2.3 3.6-6 6.4-8 9.5-9.6 14.5-12 24.8-18.1 7.6-5.2 33-20.2 26.4-13.4 17-6.9 9.6-3 .4 .6 6.6-3.3 .6 .1 0 1 .4 .1 6.4-3.2 .7 .1 0 1 .3 .2 7.6-3.8 0 1 1 .3 2.4-1.5 1 0 .5 .2 .1 1.1 3.4-2 .6 .3 4-2 .2 1.2 .8 .1 4-2 .4 .3 4.6-2.5 .1 1.5 .3 .3 4-2 .5 .3 .1 1.5 3.4-2 1 0 .6-.5 .4 .3 3.6-2 1.7-.3 .3 1.6 2.4-1.5 1 0 1.6-1 .4 .3 5-2.5 .1 1.5 .5 .3 3-1.5 1 0 1.4-1 .5 .2 0 1.6 .5 0 2.6-1.5 1 0 1.4-1 2-.2 5-2.5 .4 1.6 .6 .2 5-2.5 1 .3 5-2.5 .7 .1 0 1.4 .9 .2 5-2.5 2-.2 1.4-1 1 0 2.6-1.5 1 0 0 1.6 .4 .3 7-3 .9 .1 0 1.6 1.1 0 5-2.5 3.6-.7 5-2.5 .3 .1 0 2 .7 .1 .4-.5 1 0 1.6-1 1 0 3-1.5 .4 .3 1.6-1 1 0 1.4-1 1 0 3-1.5 .7 .1 0 2 .3 .2 3-1.5 1 0 1.6-1 1 0 1.4-1 1 .3 4-2 3.6-1 1.4-1 .7 0 0 2 1.3 .2 1.6-1 1 0 1.4-1 1 0 3-1.5 .6 .2 .4-.5 1 0 1.6-1 2.4-.5 4-2 .8 .1 .2 2.7 4-2 2.6-.5 3-1.5 3.4-.7 1.6-1 1 0 1.4-1 1 0 1.6-1 1 0 2-1 .6 0 0 2.6 .4 .1 3-1.5 1 0 1.4-1 2.6-.5 3-1.5 1 .3 1.4-1 2.6-.5 1.4-1 1 0 1.6-1 2.4-.5 .6-.5 0 2.6 .4 .2 2.6-.5 1.4-1 2.6-.5 1.4-1 2.6-.5 1.4-1 1.5 .3 0 2.4 .5 .1 .6-.5 2.4-.5 1.6-1 2.4-.5 1.6-1 1 0 3.4-1.5 .6 .1 3.4-1.5 1 0 1.6-1 2.4-.5 1.6-1 1 0 4.4-1.9 4-1 1.6-1 2.4-.5 3-1.5 9.6-.3 0 403z"/>
<path fill="#00ff4a" d="M603.2 399.3l-2-1-4-1-1.4-1-5.6-1.5-3-1.5-1 .4-.4-.5-1 0-1.6-1-5.4-1.5-1.6-1-1 0-3.4-1.5-.1 3-.5 .5-.4-.5-4-1-1.6-1-2.4-.5-1.6-1-2.4-.5-.6-.5-.5 .1 0 2.4-1.5 .4-1.4-1-2.6-.5-1.4-1-2.6-.5-3-1.5-1.2 .1-.2 2.8-.6-.5-2.4-.5-1.6-1-1 0-1.4-1-2.6-.5-2-1-.4 .3 0 2.4-.6 .1-3-1.5-1 0-1.4-1-2.6-.5-1.4-1-2-.2-.6-.5-2.4-.5-1.6-1-1 0-1.4-1-1 0-3-1.5-1.3 .2 0 2-.7 .1-.6-.5-2.4-.5-1.6-1-1 0-1.4-1-1 0-1.6-1-1 .3-4-2-2.4-.5-3-1.5-.2 2.6-.4 .2-1.4-1-1 0-1.6-1-1 0-4-2-1 .2-1.4-1-1 0-1.6-1-1 0-4-2-.1 2.6-.3 .1-2.6-1.5-1 0-4-2-3.4-.8-1.6-1-3.4-1-1.6-1-.2 .2 0 2-.8 0-4-2-1 0-1.4-1-1 .2-1.6-1-1 0-2.4-1.5-3.6-.8-5-2.5-1.1 0 0 1.6-.9 .1-4-2-1 0-1.4-1-2-.3-1.6-1-1 0-2.4-1.5-1 .1-1.6-1-1 0-4-2 0 1.6-1.4 .1-2.6-1.5-1 0-2.4-1.3-1 0-4-2-.4 .1 0 1.6-.6 0-4-2-1 0-.6-.5-.4 .2-1.6-1-1 0-3.4-2-1 .2-5-2.5-.1 1.6-.9 .1-4-2-3-.7-2.6-1.5-.6 .1 0 1.4-.4 .2-2.4-1.5-1 0-1.6-1-.4 .2-5-2.5-.6 1.7-1.4-1-1 0-1.6-1-.4 .3-4-2-.9 .2 0 1-.7 0-3.4-2-2-.2-2.6-1.5-.8 .1 0 1-.6 .2-2.6-1.5-1.4-.4-1.6-1-1 0-.4-.5-1 .2 0 1.1-3.6-2-1 .2-2.4-1.5-1 .2 0 1.1-3.6-2-.4 .2-3-1.5-.6 .2-3.4-2-.1 1-.9 .2-2.6-1.5-.4 .3-4.6-1.3-24.4-8.4-20-7.5-21-9.3-9-4.7-14-8.5-16-11.7-10.1-8.6-13.2-12.4-6.6-7-8.5-11-3-5-3.2-7.8 0-37.2 3-6.6 3.2-5.4 6.2-8 9.2-9.6 14-12 17.9-13.4 14.1-9.8 33-19.6 22-10.9 14-6 11-4.1 7-1.8 2.4-1.5 .4 1.1 .6 .1 6.6-3.3 .4 .2 0 1 .6 .1 6.4-3.2 1 .1 0 1.1 1.6-1 3-.7 3.4-2 .4 .2 0 1 1.2 0 6.4-3.2 .7 .2 0 1 .9 .1 3.4-2 1 .3 4.6-2.5 0 1.5 .4 .3 4-2 .5 .3 .1 1.5 2.4-1.5 1 0 1.6-1 .4 .3 5-2.5 .6 1.8 5-2.5 1 .3 3.4-2 1 0 .2 1 1.4 .3 3.4-2 2-.3 5-2.5 .6 .1 0 1.4 .4 .4 4-2 2-.5 .4 .1 .2 1.6 4-2 1 0 .4-.5 .6 .3 1.4-1 1 0 2.6-1.5 1.2 .1 .2 1.7 4-2 1 0 1.6-1 1 .2 5-2.5 1.1 .2 0 1.4 .9 .3 5-2.5 3.4-.8 1.6-1 1 0 2.4-1.5 1.1 .1 0 1.4 1.5 .3 2.4-1.5 1 0 1.6-1 3.4-.8 1.6-1 1 0 3-1.5 0 2.1 .4 .2 8.6-3.5 .4 .3 0 2 1 0 1.6-1 1 0 4-2 3.4-.8 1.6-1 1 0 1.4-1 1 0 2-1 2-.3 1.6-1 1 0 1.4-1 1 0 3-1.5 .1 2.6 .5 .1 3-1.5 1 0 1.4-1 2.6-.5 1.4-1 1 .3 1.6-1 1 0 1.4-1 2.6-.5 3-1.5 .5 0 0 2.6 .5 .2 1.4-1 2.6-.5 4-2 2.4-.5 1.6-1 1 .2 .4-.5 1 0 1.6-1 1 0 1.4-1 2.6-.5 3-1.5 0 2.5 .4 .3 1 0 1.6-1 4-1 1.4-1 1 0 2-1 .9 .3 0 2.4 .7 .1 3-1.5 2.4-.5 1.6-1 4-1 1.4-1 1 .3 2-1 1 0 1.6-1 2.4-.5 1.6-1 1 0 3.4-1.5 .5 .2 .1 3 3.4-1.5 1 0 1.6-1 5.4-1.5 1.6-1 2.4-.4 3-1.5 1 0 .6-.5 4-1 1.4-1 4-1 2.4-1.2 .2-.6 4-1.2 0 400-4-.8-.6 1.7z"/>
<path fill="#00ff44" d="M607.8 395.8l-4-.8-.6 .9-1.4-1-7-2-1.6-1-2.4-.5-3.6-1.5-.3 .3 0 3-.7 .2-3-1.5-5.4-1.5-1.6-1-1 0-3.4-1.5-.5 .3-.1 3.1-2-1-2.4-.5-1.6-1-2.4-.5-1.6-1-2.4-.5-.6-.5-1 .4-1.4-1-4-1-1.6-1-2.4-.5-3-1.5-.6 .1 0 2.4-.4 .4-3.6-1-3-1.5-2.4-.5-1.6-1-1.2 .2-.2 2.7-11-4.5-.5 .2 0 2.6-.5 0-2-1-1 0-1.6-1-1 0-1.4-1-1 0-1.6-1-3.4-.7-3-1.5-2.6-.5-4-2-.3 .1 0 2.6-.7 0-1.4-1-1 0-1.6-1-2.4-.5-3-1.5-.6 .3-.4-.5-1 0-1.6-1-3.4-1-1.6-1-1.3 .2 0 2-.7 0-1.4-1-1 0-1.6-1-3.4-1-1.6-1-1 .2-1.4-1-3.6-1-1.4-1-2-.3-3-1.5-1 0-1.6-1-1 0-1.4-1-.6 0 0 2-.4 .3-3-1.5-1 0-1.6-1-1 0-1.4-.9-1 0-1.6-1-1 0-2.4-1.5-1.4 .2 0 1.4-1.2 .1-2.4-1.5-1 0-1.6-1-3.4-.8-2.6-1.5-1 0-1.4-1-1 .2-1.6-1-1 0-4-2-.4 2.1-5-2.5-2-.3-4-2-1 0-2.6-1.3-1 0-2.4-1.5-1.2 0 0 1.6-.4 .1-1.4-1-1 0-1.6-1-4.4-1.3-4-2-.5 .2 0 1.4-.5 .1-2.6-1.5-1 0-1.4-1-2-.3-2.6-1.5-2-.3-4-2-.6 .1 0 1-1.4 .1-2.4-1.5-1 0-.6-.5-.4 .2-5-2.5-.4 .2-.2 1.5-4-2-.4 .2-1.6-1-1 0-1.4-1-1 .3 0 1-.6 0-2.4-1.5-1 0-.6-.5-.4 .2-3.6-2-1 .2-3.4-2-.1 1.6-.5 .1-3.4-2-1 .3-3.6-2-.1 1-.9 .2-3-1.5-.4 .2-3.6-2-.3 .1 0 1-.7 .1-.4-.5-3-.8-2.6-1.5-1.4-.3-2.6-1.5-.4 1-28-9.3-20-7.4-21.6-9-9-4.4-14-8.2-11.6-8.2-5.8-4.6-10.6-9-11.1-10.8-5.9-6.6-8-10.4-3.4-6-2.4-6-2.2-6.9 0-24.9 2.2-6.8 2.4-5.4 3.2-5.6 5.7-7.4 9.4-10 13.7-12 17.7-13.6 13.9-9.4 32.8-19.1 22.6-10.8 13.4-5.5 16.6-5.7 2.4-1.5 1 0 .1 .6 .9 .1 2.6-1.5 1 .2 2.4-1.5 .8 .1 .2 1.2 7.6-3.8 .4 1.8 7.6-3.8 .7 .2 0 1 .7 .1 2.6-1.5 2-.3 2.4-1.5 .7 .2 0 1 .9 .1 3.4-2 2-.2 3.6-2 0 1.5 .4 .3 4-2 .5 .3 .1 1.5 5-2.5 .4 .3 1.6-1 1 0 2.4-1.5 .4 .2 0 1.4 .6 .1 2.6-1.5 3-.7 4-2 .7 .1 .3 1.7 5-2.5 1 .3 6-3 .1 1.5 .9 .3 3-1.5 1 0 1.4-1 .6 .2 .4-.5 1 0 4-2 .1 1.5 .9 .3 3-1.5 1 0 1.6-1 .4 .2 0 2.1 5-2.5 3.6-.8 5-2.5 .3 .3 0 2 .7 0 2.4-1.5 1 0 3-1.5 2-.2 1.6-1 1 0 3-1.5 .8 .1 0 1.6 1.2 0 1.4-1 1 0 3-1.5 2-.2 1.6-1 3.4-1 1.6-1 .3 .1 0 2 1.1 .1 1.6-1 1 0 4-2 2.4-.2 1.6-1 1 0 4-2 1.3 .1 .1 2.1 3-1.5 1 0 3-1.5 1 0 1.6-1 1 .2 1.4-1 2.6-.5 4-2 .9 .2 .1 2.6 4-2 2.4-.5 3-1.5 1 .2 1.6-1 1 0 1.4-1 2.6-.5 3-1.5 .9 .2 .1 2.6 3-1.5 2.4-.5 1.6-1 2.4-.5 1.6-1 1 0 .4-.5 1 .2 1.6-1 2.4-.5 3-1.5 1 0 1.6-1 1.3 .2 .1 2.6 2-1 2.6-.5 1.4-1 2.6-.5 1.4-1 4-.7 1.6-1 1 0 3-1.5 4-1 1.4-1 .3 3.2 .7 .1 1.6-1 4-1 1.4-1 1 0 .6-.5 4-1 .4-.5 .6 .2 3.4-1.5 1 0 1.6-1 5.4-1.5 3-1.5 2.6-.4 1.4-1 5.6-1.5 1.4-1 4-1 1.6-1 .5 .1 .5 1.3 4-1.2 0 394.9z"/>
<path fill="#00ff3e" d="M607.8 393.2l-5-1.1-.6-.5-1 0-.4-.5-7-2-1.6-1-1 0-3.4-1.5-.8 .2-.2 3.2-.6-.5-7-2-1.4-1-2.6-.5-3.4-1.5-.6 3.4-.4-.5-5.6-1.5-1.4-1-4-1-1.6-1-.8 .3-.2 3.2-1.4-1-4-1-1.6-1-2.4-.5-3-1.5-1 .4 0 2.4-.6 .1-.4-.5-2.6-.5-1.4-1-4-1-1.6-1-2.4-.2-1.6-1-2.4-.5-1.6-1-2.4-.5-1.6-1-.7 .1 0 2.6-.7 .1-1.6-1-1 0-3-1.5-1 0-1.4-1-2.6-.5-1.4-1-1 .3-3-1.5-2.6-.5-4-2 0 2.6-1 .2-1.4-1-2.6-.5-1.4-1-1 0-3-1.5-1 .2-4-2-2.6-.5-1.4-1-.6 .1 0 2-1 .2-.4-.5-2.6-.5-1.4-1-1 0-1.6-1-3.4-.8-1.6-1-1 0-4-2-1.1 0 0 2-.3 .2-3-1.5-1 0-1.6-1-1 0-1.4-1-1 .2-1.6-1-1 0-4-2-3.4-.9-4-2-1.1 0 0 1.6-.9 .1-3-1.5-1 0-1.6-1-3.4-.8-1.6-1-1 0-2.4-1.5-1 .1 0 2.1-5-2.5-1 0-1.6-.9-1 0-2.4-1.5-1 0-1.6-1-1 .2-1.4-1-1 0-2.6-1.5-.9 .1 0 1.6-.5 0-4-2-3.6-.9-2.4-1.5-1 0-.6-.5-.4 .2-1.6-1-1 0-3-1.5-.8 .2-.2 1.5-5-2.5-1 .2-5-2.5-.4 .2-.6-.5-1 0-2.4-1.5-1.2 .1 0 1-.8 .1-4-2-1 .2-2.6-1.5-1 0-1.4-1-.5 .2-.1 1.5-4-2-.4 .2-.6-.5-1 0-2.4-1.5-2-.3-3.6-2-.1 1.6-.3 .1-7.6-3.3-.8 .2-.2 1-.4-.5-1 0-2.6-1.5-.4 .2-.6-.5-1 0-6-2.8 0 1.1-1 .1-2.4-1.5-2-.3-1.6-1-.8 .1-.2 1.1-3.4-2-2-.3-1.6-1-.4 .3-2.6-.7-14-4.7-30.4-10.9-16-6.1-12.6-5.5-17.4-9.7-11-7.6-11-9-9-8.3-10-10.3-5.9-7.3-4.6-6.4-3-5.6-3.6-10-1.1-5-1-8 .1-5.4 .9-6.6 2.3-8 2.6-6 2.8-5 5.5-7.4 10.1-11 12.3-11.2 18.1-13.8 13.9-9.5 33-18.5 22-10.2 14-5.6 15.6-5.3 .3 .5 .7 .2 2.4-1.5 .6 .1 3.4-2 .6 .2 .4-.5 1 0 1.6-1 0 1.1 1 .1 6.4-3.2 .7 .1 0 1 .9 .1 2.4-1.5 3-.7 1.6-1 .7 .1 .3 1.1 3-1.5 1.4-.2 2.6-1.5 1.1 .1 0 1 .3 .2 4-2 3-.8 2.6-1.5 0 1.5 .4 .3 4-2 .6 .2 1.4-1 1 0 2.6-1.5 0 1.6 .4 .2 4-2 1.5 .2 0 1 .5 .1 4-2 2-.2 4-2 .3 1.7 .7 .1 2.6-1.5 1 0 1.4-1 .6 .2 .4-.5 1 0 4-2 .7 .1 .3 1.7 4-2 3.6-.7 4-2 .6 0 0 1.6 .8 .1 2.6-1.5 1 0 1.4-1 1 .3 1.6-1 1 0 4-2 .1 2.1 .3 .1 1.6-1 1 0 4-2 1 .3 2.4-1.5 1 0 3-1.5 .6 0 0 1.6 1.4 .1 1.6-1 1 0 3-1.5 2-.2 1.4-1 1 0 3-1.5 .7 .1 0 2 .3 .1 1.6-1 2.4-.5 3-1.5 2-.3 1.6-1 1 0 4-2 1.2 .2 .2 2.1 3-1.5 1 0 1.6-1 5-1.3 3-1.5 1 0 4-2 .4 2.7 3-1.5 2.6-.5 1.4-1 1 0 .6-.5 1 .3 1.4-1 1 0 1.6-1 2.4-.5 3-1.5 .9 .1 .1 2.6 1.6-1 2.4-.5 1.6-1 2.4-.5 1.6-1 1 .3 .4-.5 1 0 1.6-1 2.4-.5 1.6-1 2.4-.5 3-1.5 .4 .1 0 2.6 1.2 0 1.4-1 2.6-.5 1.4-1 9.6-2.7 1.4-1 2.6-.5 3-1.5 .4 3.3 3-1.5 4-1 1.6-1 4-1 .4-.5 1 .3 1.6-1 4-1 1.4-1 1 0 .6-.5 1 0 3.4-1.5 .2 3 .4 .2 3.4-1.5 2.6-.5 1.4-1 1 0 .6-.5 1 0 .4-.5 5-1.3 .6-.5 5.4-1.5 1.6-1 7-2 1.4-1 .6 .5 4-1.1 0 389.7z"/>
<path fill="#00ff38" d="M607.8 390.3l-4-.7-1-1.4-1 0-.6-.5-1 0-2-1-1 0-.4-.5-1 0-2-1-5.6-1.5-.4-.5-.6 0 0 3-.4 .4-.6-.5-5.4-1.5-1.6-1-2.4-.5-.6-.5-2.4-.5-2-1-.2 3.1-.4 .4-2-1-5.4-1.5-.6-.5-1 0-1.4-1-1 0-2-1-.6 3.4-3.4-1.5-1 0-1.6-1-4-1-3-1.5-.3 .2-.1 3.2-3-1.5-2.6-.5-1.4-1-9.6-2.7-1.4-1-2.6-.5-1.4-1-1.1 0 0 2.6-.5 .2-3-1.5-2.4-.5-1.6-1-1 0-3-1.5-1 0-.4-.5-.4 .2 0 2.6-.6 .1-3-1.5-1 0-3-1.5-1 0-1.6-1-1 .2-3-1.5-2.4-.5-4-2-.3 2.7-.7 .1-4-2-2.6-.5-1.4-1-1 .2-1.6-1-1 0-1.4-1-2.6-.5-3-1.5-.3 .2 0 2-1.1 0-4-2-1 0-1.6-1-2.4-.3-1.6-1-1 0-4-2-3.4-.8-1.6-1-2.4-.5-1.6-1-.1 2-.9 .1-3-1.5-1 0-1.4-1-3.6-.8-1.4-1-1 0-1.6-1-3.4-.8-1.6-1-1 0-3-1.5-.4 2.1-1.6-1-3.4-1-1.6-1-1 .2-5-2.5-3.4-.8-4-2-.4 .1-.2 2-5-2.5-1 .2-4-2-1 0-2.4-1.3-1 0-1.6-1-1 0-1.4-1-.4 0 0 1.6-.6 0-6.6-2.8-1 0-2.4-1.5-1 .2-1.6-1-1 0-2.4-1.5-.3 1.6-.7 0-1.6-1-1 0-2.4-1.3-1 0-2.6-1.5-2-.3-4-2 0 1.5-.4 .2-4-2-1 .2-4-2-.9 .2 0 1-.7 0-2.4-1.5-2-.3-2.6-1.5-1 .2-3.4-2-.7 .1 0 1-.9 .1-1.4-1-2-.3-2.6-1.5-2-.4-2.4-1.5-.6 0 0 1-1 .2-2.4-1.5-.6 .2-1.4-1-3-.9-2.6-1.5 0 1.1-.4 0-16.6-5.4-45.4-16.3-14-5.8-16.6-8.8-11-7.4-10.9-8.9-8.5-8-10-10.4-6.3-8-3.6-5.6-3.1-6-3.2-9.4-1.1-5-.9-8 .1-5 .8-6 2.1-7.6 2.7-6.4 2.8-5 4.9-7 10.2-11.6 15.5-14 14.4-11 13.7-9 29-15.9 20.4-9.5 19.6-7.8 13-4.6 2-.5 .4 .6 6.6-3.3 .7 0 .3 1.2 1.4-1 2-.4 3.6-2 .4 .2 0 1 .6 .1 3-1.5 .4 .2 3.6-2 1 .2 3.4-2 .1 1.6 .5 .2 3.4-2 1 .2 3.6-2 0 1.6 .4 .2 2.6-1.5 3-.8 4-2 0 1.5 .4 .3 4-2 .6 .2 1.4-1 1 0 2.6-1.5 0 1.6 .4 .2 4.6-2 .9 .2 0 1 1.1 .1 2.4-1.5 1 0 .6-.5 .4 .3 5-2.5 .4 .1 0 1.6 .6 0 3-1.5 1 0 2.6-1.2 1 0 1.4-1 1 0 1.6-1 .2 1.7 .8 .1 3-1.5 1 0 1.4-1 1 .2 5-2.5 .6 2.3 4-2 3.4-.8 5-2.5 .8 .1 0 1.6 1.2 0 1.6-1 1 0 3-1.5 .4 .3 .6-.5 1 0 1.4-1 1 0 3-1.5 .9 .2 0 1.4 1.1 .1 3-1.5 1 0 1.6-1 1 .3 1.4-1 3.6-1 1.4-1 1 .1 0 2 .6 .1 1.4-1 1 0 4-2 1 .2 .6-.5 1 0 4-2 5-1.3 1.4-1 1 0 1.6-1 1 0 2-1 0 2.1 1.4 .2 1.6-1 2.4-.5 1.6-1 1 0 2-1 .4 .2 .6-.5 1 0 1.4-1 2.6-.5 3-1.5 .6 0 0 2 1.4 .2 1.4-1 4-1 1.6-1 1 0 .4-.5 1 .2 1.6-1 2.4-.5 3-1.5 1 0 1.6-1 .7 .1 .3 2.7 .4-.5 2.6-.5 1.4-1 4-1 3-1.5 2.6-.2 1.4-1 2.6-.5 1.4-1 1 0 3.6-1.5 .1 2.6 1.3 .1 1.6-1 4-1 1.4-1 1 0 2-1 1 .3 .6-.5 1 0 1.4-1 4-1 1.6-1 1 0 3.4-1.5 .1 3 .5 .3 .4-.5 2.6-.5 1.4-1 7-2 1.6-1 .9 .3 .1 3 3.4-1.5 4-1 1.6-1 1 0 .4-.5 1 0 3.6-1.5 1 .1 .4-.5 4-1 1.6-1 1 0 .4-.5 7-2 1.4-.6 .2-.5 4-1.1 0 384.1z"/>
<path fill="#00ff32" d="M603.2 388.3l-2-1-1 0-3.4-1.5-1 0-2-1-5.6-1.5-.4-.5-1 .4-1.6-1-2.4-.5-.6-.5-7-2-2-1-1 0-.4-.5-.1 3.1-.9 .4-3-1.5-2.6-.5-.4-.5-5.6-1.5-.4-.5-1.1 .1 0 2.4-.9 .4-2-1-1 0-1.6-1-1 0-3.4-1.5-2.6-.5-.4-.5-.7 .1 0 2.6-.9 .2-.4-.5-2.6-.5-1.4-1-1 0-2-1-1 0-1.6-1-1 0-.3 .2-.1 2.6-2-1-2.6-.5-1.4-1-2.6-.5-1.4-1-4-.6-1.6-1-4-1-1.4-1-2.6-.5-.4-.5-.2 2.6-.8 .2-1.6-1-1 0-3-1.5-2.4-.5-1.6-1-1 .2-.4-.5-1 0-1.6-1-4-1-1.4-1-1.1 .1 0 2-.9 .2-3-1.5-2.6-.5-1.4-1-1 0-.6-.5-.4 .2-.6-.5-2.4-.5-1.6-1-2.4-.5-1.6-1-1.1 0 0 2-.3 .2-.6-.5-2.4-.5-1.6-1-1 0-1.4-1-5-1.3-1.6-1-1 0-3-1.5-.3 .2 0 2-.7 0-3-1.5-2.4-.5-1.6-1-1 .1-1.4-1-3.6-1-1.4-1-1 .2-4-2-5-1.4-1.6-1-1 0-3-1.5 0 2-.4 .2-3-1.5-1 0-1.6-1-1 0-1.4-.8-1 0-1.6-1-1 0-1.4-1-1 .1-1.6-1-1 0-3-1.5-.6 .1 0 1.4-.8 .1-4-2-1 0-2.6-1.3-1 0-1.4-1-3.6-.8-1.4-1-1 0-1.6-1-.8 0-.2 1.6-3-1.5-1 0-1.4-1-1 .2-2.6-1.5-3.4-.8-4-2-.4 0 0 1.6-.6 0-2.6-1.5-3.4-.8-2.6-1.5-2-.3-4-2-.4 1.7-3-1.5-2-.4-1.6-1-1 0-1.4-1-2-.3-2.6-1.5-.6 .1 0 1-.8 .1-3-1.5-2-.3-2.6-1.5-1 .1-2.4-1.5-.6 0 0 1-1 .2-2.4-1.5-1 .2-3.6-2-.4 .1 0 1.6-2.6-1.5-2-.9-1 0-3.4-1.9-4-.7-14.6-4.9-45-15.8-15-5.9-13.4-6.7-6.6-4-6.8-4.7-9.9-8-6.1-5.6-11.8-12.4-6.6-8.6-3.2-5-3.1-6-2.8-8.4-1.3-5.6-.9-8.4 .1-5 .8-6 2.1-7.6 2.7-6.4 2.2-4 5-7.6 10-11.4 6-6 9.1-8 14.3-11 13.8-9 28.4-15.1 20.6-9.2 19.4-7.6 12-4.1 3-.7 3-1.5 .4 .2 0 1 .6 0 2.6-1.5 1.4-.3 1.6-1 2-.3 2.4-1.5 .7 0 .3 1.2 7.6-3.3 .3 .1 0 1 .7 .1 5-2.3 1 0 1.4-1 .5 .2 0 1 1.1 .1 2.4-1.5 1 .2 3.6-2 1.4 .2 0 1 .6 .1 2.4-1.5 1 0 .6-.5 .4 .2 4-2 .5 .3 .1 1.5 4-2 2-.3 1.4-1 1 0 1.6-1 .9 .2 .1 1.6 2.4-1.5 1 0 1.6-1 1 .3 4-2 .8 .2 .2 1.5 1.4-1 1 0 3-1.5 .6 .3 1.4-1 1 0 3-1.5 .9 .2 .1 1.5 3-1.5 1 0 1.6-1 2-.2 1.4-1 1 0 1.6-1 .8 .2 0 1.4 .6 .1 3-1.5 1 0 1.6-1 1 .2 1.4-1 1 0 3-1.5 1 .3 0 1.4 .6 .1 .4-.5 2.6-.5 1.4-1 3.6-.8 4-2 5-1.3 4-2 .5 0 0 2 .5 .2 3-1.5 1 0 1.4-1 1 0 .6-.5 1 .2 1.4-1 3.6-1 1.4-1 .8 .2 0 2 .8 0 3-1.5 1 0 1.4-1 6.6-1.7 4-2 1.3 .2 0 2 .7 0 1.4-1 2.6-.5 1.4-1 6.6-1.8 1.4-1 2.6-.5 1.4-1 2.6-.3 1.4-1 4-1 3-1.5 .6 0 0 2 1.4 .3 .6-.5 2.4-.5 1.6-1 1 0 3.4-1.5 .6 .2 2-1 1 0 1.4-1 4-1 3-1.5 1.1 .1 0 2.4 .5 .3 1.4-1 1 0 .6-.5 2.4-.5 1.6-1 4-1 .4 .3 0 2.5 .6-.5 4-1 1.4-1 1 0 3.6-1.5 2-.3 2-1 5.4-1.5 1.6-1 2.4-.5 .6-.5 .8 .3 0 2.4 1.2 .1 3.4-1.5 5.6-1.5 3-1.5 1 .3 3.4-1.5 4-1 1.6-1 4-1 2-1 .4 .2 0 3 .6 0 .4-.5 5.6-1.5 .4-.5 2.6-.5 .4-.5 1 0 3.6-1.5 1 0 1-1.9 4-1 0 378.6-4-.7-.6 1.5z"/>
<path fill="#00ff2c" d="M607.8 384.6l-4-.7-.6 .5-1 0-.4-.5-2.6-.5-.4-.5-1 0-.6-.5-1 0-.4-.5-1 0-3.6-1.5-2.4-.5-.6-.5-1.3 .4-.1 3-1.6-1-1 0-.4-.5-2.6-.5-.4-.5-1 0-3.6-1.5-2.4-.5-.6-.5-1 0-.4-.5-.5 .5 0 3-.5 0-3-1.5-5.6-1.5-3.4-1.5-2.6-.1-1.4-1-1 0-3.6-1.5-5.4-1.5-.6-.5 0 2.5-.4 .4-5.6-1.5-1.4-1-1 0-3.6-1.5-.1 2.6-1.3 .3-.6-.5-2.4-.5-1.6-1-4-1-1.4-1-.5 .3 0 2.4-1.1 .1-3-1.5-4-1-1.4-1-1 0-2-1-.6 .3-2-1-2.4-.5-1.6-1-1 0-2-1-1.2 .2 0 2-.8 .1-3-1.5-4-1-1.4-1-2.6-.3-1.4-1-2.6-.5-3-1.5-1.3 .1-.1 2.1-.6-.5-2.4-.5-1.6-1-2.4-.5-1.6-1-2.4-.3-4-2-6.6-1.8-1.4-1-1 0-3-1.5-.7 0 0 2-.9 .2-1.4-1-3.6-1-1.4-1-1 .1-.6-.5-1 0-1.4-1-1 0-3-1.5-1 .2-1.6-1-3.4-1-1.6-1-.2 2.1-.8 0-3-1.5-1 0-1.4-1-1 0-1.6-.8-1 0-1.4-1-5-1.4-1.6-1-1 0-3-1.5-.4 .2 0 2-1.6-1-1 0-1.4-1-3.6-.9-4-2-1 .1-4-2-3.4-.8-4-2-1.3 0-.3 1.6-5-2.5-1 .2-4-2-3.4-.9-2.6-1.5-.9 .1-.1 1.6-6.4-2.9-1 0-1.6-1-3.4-.8-2.6-1.5-.3 .2 0 1.4-.7 .1-2.4-1.5-3.6-.8-2.4-1.5-1 .1-4-2-.5 .2-.1 1.5-2.4-1.5-2-.4-1.6-1-1 0-2.4-1.3-1 0-1.6-1-.4 .1 0 1-1 .1-2.6-1.5-1 .1-2.4-1.5-1 .2-7-3.4-.3 1-1.3 .1-1.4-1-67.6-23.1-8-3-8.4-3.8-8-4-11-7.1-6-4.5-9.2-8-13.8-14.9-6-8.1-2.7-4.6-2.8-6-2.7-8.4-1-5-.8-8.6 .1-5 .7-5 1.8-7 2.6-6.4 2.4-4.6 4.9-7.4 9.6-11.6 14.2-13.4 14.1-11.1 13.6-8.7 22-11.4 21.4-9.9 19-7.5 20-6.9 .8-.1 .2 1.1 2.6-1.5 3-.9 1.4-1 .6 .2 2.4-1.5 .9 .2 0 1 .7 0 2.4-1.5 2-.3 2.6-1.5 2-.3 1.4-1 .7 0 0 1 .9 .2 3.4-2 1 .2 2.6-1.5 .8 .1 0 1 .6 .1 3-1.5 3-.7 2.6-1.5 .3 .2 .1 1.5 3-1.5 1 0 .6-.5 .4 .2 1.6-1 1 0 1.4-1 .5 .3 .1 1.5 4-2 3.4-.8 2.6-1.5 .9 .2 .1 1.6 4-2 3.4-.8 2.6-1.5 .9 .3 0 1.4 .5 .1 5-2.5 1 .3 1.6-1 1 0 3-1.5 .3 .2 0 1.4 .7 .1 3-1.5 1 0 1.4-1 1 .2 1.6-1 1 0 1.4-1 1.5 .2 0 1.6 .5 0 4-2 3.6-.8 4-2 5-1.3 3-1.5 0 2 .4 .2 3-1.5 1 0 1.6-1 1 0 .4-.5 1 .2 1.6-1 3.4-1 1.6-1 .7 .2 .3 2 .4-.5 2.6-.5 1.4-1 5-1.3 1.6-1 2.4-.5 1.6-1 1 .2 .4-.5 1 0 1.6-1 1 0 3-1.5 1 0 0 2 .4 .2 3-1.5 2.6-.5 3-1.5 1 .2 1.4-1 2.6-.5 1.4-1 1 0 2-1 .8 .2 0 2 .8 0 .4-.5 2.6-.5 1.4-1 1 0 2-1 6.6-1.7 1.4-1 1 0 2-1 .9 .1 0 2 1.1 .1 .6-.5 2.4-.5 1.6-1 2.4-.5 2-1 1 .3 1.6-1 4-1 1.4-1 2.6-.5 2-1 .8 .2 .2 2.5 .4-.5 7-2 3-1.5 1 .3 .6-.5 4-1 1.4-1 1 0 3.6-1.5 1.2 .2 .2 2.6 .6-.5 4-1 .4-.5 4-1 .6-.5 1 0 1.4-1 2.6-.2 3.4-1.5 5.6-1.5 3-1.5 .6 0 0 3 .4 .3 3.4-1.5 1 0 .6-.5 5.4-1.5 .6-.5 2.4-.5 1.6-1 1 .1 .4-.5 2.6-.5 3.4-1.5 1 0 .6-.5 7-2 .4-.5 .6 1 4-1.1 0 373.1z"/>
<path fill="#00ff26" d="M607.8 381.7l-5-.7-.6-.5-1 0-2-1-1 0-2-1-7-2-.4-.5-1.8 .2 0 2.6-1.2 .1-.6-.5-2.4-.5-.6-.5-4-1-.4-.5-2.6-.5-3.4-1.5-.4 .3-.2 3.2-3.4-1-.6-.5-1 0-.4-.5-1 0-.6-.5-1 0-.4-.5-1 0-3-1.5-1.5 .3 0 2.6-1.1 0-1.4-1-2.6-.5-.4-.5-7-2-.6-.5-1 .4-1.4-1-1 0-.6-.5-2.4-.5-2-1-2.6-.5-.4-.5-.6 .1 0 2.4-.4 .4-2-.5-1.6-1-2.4-.5-.6-.5-4-1-.4-.5-.3 2.6-.7 .2-3.6-1.5-1 0-1.4-1-4-1-1.6-1-1 .3-.4-.5-4-1-1.6-1-2.4-.5-.6-.5-1 .1 0 2-1 .2-2-1-1 0-1.4-1-1 0-3.6-1.5-5-1.3-1.4-1-2.6-.5-.4-.5-.6 0 0 2-1 .2-.4-.5-2.6-.5-1.4-1-2.6-.5-1.4-1-1 .2-3-1.5-2.6-.5-3-1.5-.3 .2 0 2-1.1 0-3-1.5-1 0-1.6-1-1 0-.4-.5-1 .2-1.6-1-2.4-.5-1.6-1-5-1.4-1.4-1-1 0-2-1-.5 .1 0 2-.5 .1-1.6-1-3.4-1-1.6-1-2.4-.4-1.6-1-1 0-3-1.5-1 .2-1.4-1-1 0-3-1.5-1 .1-4-2-1 0-1.6-1-.4 2.1-3-1.5-1 0-1.6-1-2.4-.4-4-2-1 .2-1.6-1-1 0-1.4-1-1 0-3-1.4-1 0-3-1.5-.3 1.5-.7 .1-3-1.5-3.6-.8-1.4-1-1 0-1.6-1-1 .1-1.4-1-1 0-1.6-1-.9 .1-.1 1.6-1.4-1-1 0-1.6-1-1 0-1.4-.9-1 0-1.6-1-3.4-.8-2.6-1.5-1 .1-4-2 0 1.5-.4 .2-3-1.5-3.6-.9-2.4-1.5-1 .2-1.6-1-1 0-.4-.5-.3 1-1.3 .1-2.4-1.5-1 .2-1.6-1-1 0-2.4-1.4-1 0-1.6-1-.4 .2 0 1-1 0-2.6-1.5-1 .1-6-2.9-1 .1-3-1.5-.4 .6-2.6-.8-44-15.2-25.4-8.4-13-5.5-9.6-5-7-4.6-5.4-4.2-9-7.8-12.5-13.4-8.2-11.6-3.4-7-2.4-7-1.6-7-.7-8 0-5 .6-5.4 1.9-7.6 2.3-6 7.1-12 9.4-11.4 13.8-13.6 14-11 13.5-8.4 17.6-9 17-7.8 21.6-8.7 24.4-8.5 1.6-.5 .4 .6 .6-.5 1 0 3.4-1.8 3-.9 2.6-1.5 0 1.6 .4 .1 3.6-2 1 .2 2.4-1.5 1 .2 0 1 .6 0 2.4-1.5 1 .2 2.6-1.5 1 0 .4-.5 .6 .2 3-1.5 .6 0 0 1 .8 .2 2.6-1.5 2-.3 4-2 .4 1.7 4-2 1 .3 1.6-1 1 0 1.4-1 .5 .2 .1 1.5 .4-.5 1 0 1.6-1 4.4-1.3 3-1.5 .5 .2 0 1.6 .5 0 2.6-1.5 3.4-.8 4-2 .5 .3 0 1.4 .5 .1 3-1.5 1 0 .6-.5 2-.3 1.4-1 1 0 1.6-1 1.4 .2 0 1.6 3-1.5 1 0 1.6-1 1 .2 1.4-1 1 0 3-1.5 1 .2 1.6-1 1 0 3-1.5 0 2.1 .4 .1 1.6-1 1 0 4-2 1 .2 .4-.5 1 0 4-2 .8 .2 .2 2.1 1.6-1 2.4-.5 3-1.5 1 .1 4-2 6.6-1.8 3-1.5 1 .1 0 1.4 1.4 .2 1.6-1 2.4-.5 1.6-1 2.4-.3 3-1.5 2.6-.5 1.4-1 .9 .2 0 2 .7 0 .4-.5 2.6-.5 1.4-1 1 0 2-1 5-1.3 1.6-1 1 0 2-1 5-1.3 1.4-1 1 0 2-1 1.2 0 0 2 .8 .2 .6-.5 2.4-.5 1.6-1 1 0 3.4-1.5 5-1.3 1.6-1 1 0 3.4-1.5 .3 2.7 .7 .1 .6-.5 2.4-.5 1.6-1 1 0 .4-.5 5.6-1.5 .4-.5 .6 .3 .4-.5 7-2 3-1.5 .7 .1 0 2.4 .9 .2 .4-.5 1 0 .6-.5 7-2 1.4-1 1 .3 .6-.5 1 0 .4-.5 1 0 .6-.5 5.4-1.5 .6-.5 1 0 1.4-1 1.1 0 0 2.6 1.5 .2 3-1.5 1 0 .4-.5 1 0 .6-.5 1 0 .4-.5 1 0 .6-.5 3.4-1 .5 .3 .1 3 .4-.5 4-1 .6-.5 1 0 .4-.5 4-1 3.6-1.5 2.4-.3 .6-.5 1 0 .4-.5 1 0 .6-.5 1 0 .4-.5 4-1 3.6-1.5 1 0 .4-.5 5.6-1.2 0 367.4z"/>
<path fill="#00ff20" d="M607.8 378.8l-4-.7-1-1-2.6-.5-.4-.5-1 0-3.6-1.5-1 0-.4-.5-1.6 0-.4-.5-1 0-3.6-1.5-.1 3.1-1.3 .3-.6-.5-4-1-.4-.5-7-2-2-1-.6 3.5-3.4-1-.6-.5-1 0-.4-.5-1 0-.6-.5-1 0-.4-.5-1 0-.6-.5-1 0-.4-.5-1 0-.6-.5-.8 .3-.2 2.6-1 0-.4-.5-2.6-.5-.4-.5-4-1-3.6-1.5-1.3 .4 0 2.4-.7 .1-1.4-1-1 0-.6-.5-2.4-.5-.6-.5-1 0-3.4-1.5-1 .4-1.6-1-7-2-2-1-.5 .1 0 2.4-.5 .3-.4-.5-7-2-1.6-1-2.4-.5-.6-.5-.8 .2-.2 2.6-2-1-2.4-.5-1.6-1-5-1.2-3.4-1.5-1 0-1.6-1-1 0-2-1-.8 .2 0 2-1.2 0-2-1-1 0-1.4-1-1 0-2-1-5-1.3-1.6-1-5-1.3-2-1-1 0-1.4-1-2.6-.5-.4-.5-.6 0 0 2-1 .2-1.4-1-2.6-.5-3-1.5-2.4-.3-1.6-1-2.4-.5-1.6-1-2.4-.4-1.6-1-2.4-.5-1.6-1-.6 .1 0 2-.4 .1-2-1-1 0-1.4-1-1 0-1.6-1-2.4-.4-1.6-1-2.4-.5-1.6-1-1 .1-1.4-1-2.6-.5-1.4-1-2.6-.4-1.4-1-1 0-2-1-.6 0 0 1.6-1 .1-3-1.5-1 0-1.4-1-2.6-.4-1.4-1-3.6-.9-1.4-1-5-1.4-1.6-1-2.4-.5-.6-.5-.6 .1 0 1.4-.4 .1-3-1.5-1 0-1.4-1-1 .2-1.6-1-1 0-1.4-1-1 .1-3-1.5-3.6-.9-4-2 0 1.5-1 .2-3-1.5-3.4-.9-1.6-1-3.4-.8-1.6-1-1.2 0 0 1-.8 .1-4-2-1 .1-2.4-1.5-3.6-.8-1.4-1-1 .1-3-1.5-.6 .1 0 1-1 .1-5-2.4-3.4-.9-2.6-1.5-.4 .1 0 1.6-2.6-1.5-1 .1-5-2.4-4.4-1.2-44-15.2-26-8.2-13.6-5.4-9-4.7-6.4-4.3-5.6-4.1-8.7-7.7-11.1-12-4.2-5.4-4.5-7-3.3-7-2.2-7-1.5-6.6-.6-8 0-5.4 .5-4.6 1.9-7.4 2.2-6 3.7-7 3.5-5.6 10.1-12.4 12.8-12.5 13-10.3 13.3-8.2 14.1-7.1 21-9.4 21-8.2 24.6-8.3 2-.3 1.4-1 2-.3 3-1.5 .2 1.1 .8 .1 2.6-1.5 1 .1 2.4-1.5 1 .2 2.6-1.5 1.2 .1 .2 1.1 1.6-1 1 0 2.4-1.4 1 0 1.6-1 2-.3 2.4-1.5 .1 1.5 .5 .2 4-2 1 .3 4-2 .4 1.7 1.6-1 1 0 1.4-1 1 .2 4-2 .4 .2 .2 1.5 3-1.5 1 0 .4-.5 2-.3 1.6-1 1 0 1.4-1 .5 .2 0 1.6 .5 0 1.6-1 1 0 1.4-1 1 .2 4-2 1.5 .2 .1 1.6 4-2 1 0 .4-.5 .6 .2 3-1.5 5-1.3 4-2 .5 .1 0 1.4 .9 .3 4.6-2 1 .2 1.4-1 1 0 3-1.5 .8 0 0 1.6 .8 .1 .4-.5 2.6-.5 1.4-1 1 0 .6-.5 1 .2 1.4-1 2.6-.5 1.4-1 1 .1 0 2.1 1.6-1 2.4-.5 3-1.5 1 .1 1.6-1 2.4-.5 3-1.5 1 .2 1.6-1 2.4-.5 1.6-1 1.4 .1 0 2.1 1.6-1 4-1 1.4-1 1 .1 2-1 1 0 1.6-1 2.4-.5 1.6-1 1 .3 .4-.5 2.6-.5 1.4-1 1 0 2-1 .8 0 0 2 .8 .1 .4-.5 2.6-.5 1.4-1 1 0 3.6-1.5 1 .2 1.4-1 4-1 3-1.5 .5 .3 0 2.4 .5 .1 1.6-1 5.4-1.5 1.6-1 2.4-.3 .6-.5 4-1 1.4-1 1 0 2-1 .5 .2 0 2.6 .5 0 .6-.5 1 0 .4-.5 7-2 3-1.5 1 .2 .6-.5 1 0 .4-.5 1 0 .6-.5 1 0 3.4-1.5 1 0 1.6-1 1 .2 .4-.5 1 0 .6-.5 1 0 .4-.5 1 0 3.6-1.5 1 0 1.4-1 .6 .1 0 2.4 1.4 .3 2-1 1 0 .6-.5 1 0 .4-.5 1 0 3.6-1.5 1 0 .4-.5 1 0 .4 .3 0 2.4 .6 .1 .6-.5 4-1 .4-.5 1 0 3.6-1.5 2.4-.5 .6-.5 1 .4 .4-.5 1 0 .6-.5 1 0 .4-.5 1 0 .6-.5 1 0 .4-.5 7-2 .6-.5 1.2 0 0 2.6 1.8 .1 3.4-1.5 1 0 .6-.5 5.4-1.5 .6-.5 2.4-.5 1.3-.6 .3-.7 4-1 0 361.7z"/>
<path fill="#00ff1a" d="M607.8 375.7l-4-.6-.6-1.4-2.4-.5-.6-.5-2.4-.5-2-1-1.6 0-.4-.5-1 0-3.6-1.5-1 0-.4-.5-.6 .1 0 3-1 .3-.4-.5-1 0-3.6-1.5-1.4 0-3.6-1.5-4-1-.4-.5-.2 3.1-.4 .4-3.4-1-.6-.5-1 0-.4-.5-1 0-.6-.5-1 0-.4-.5-3-.5-2-1-.6 3.4-.4-.5-1 0-.6-.5-2.4-.5-.6-.5-5.4-1.5-.6-.5-1 0-.4-.5-.8 .2 0 2.6-1.2 .1-.6-.5-4-1-1.4-1-2.6-.5-2-1-.4 .3 0 3.1-1.6-1-1 0-.4-.5-2.6-.5-.4-.5-1 0-3.6-1.5-1 .3-3-1.5-5.4-1.5-3.6-1.5-.6 .1 0 2.6-.4 .1-.4-.5-2.6-.5-1.4-1-2.6-.5-2-1-2.4-.2-1.6-1-5.4-1.5-1.6-1-.6 .1 0 2.4-.4 .2-3-1.5-4-1-1.4-1-1 .2-2-1-2.6-.5-1.4-1-1 0-2-1-.8 .2 0 2-.8 0-2-1-1 0-1.4-1-1 0-2-1-1 .2-1.6-1-2.4-.5-1.6-1-1 0-2-1-1 .2-1.4-1-4-1-1.6-1-.3 .1 0 2-1.1 0-1.6-1-2.4-.5-1.6-1-1 .1-.4-.5-1 0-1.6-1-2.4-.5-1.6-1-2.4-.3-1.6-1-2.4-.5-1.6-1-1 .1-.4-.5-1 0-1.6-1-1 0-2-1-.4 2.1-3-1.5-5-1.4-1.6-1-2.4-.5-3-1.4-1 0-1.6-1-1 0-3-1.4-1 0-1.4-1-2.6-.4-1.4-1-1 0-3-1.5-.1 1.6-1.5 .1-4-2-1 .1-.4-.5-1 0-1.6-1-5-1.4-1.4-1-3.6-.9-3-1.5-.1 1.5-.9 .1-4-2-1 .2-.4-.5-1 0-1.6-1-3.4-.9-1.6-1-3.4-.9-1.6-1-1 0 0 1-1 .2-3-1.5-1 .1-1.4-1-3.6-.8-3-1.5-.4 .1 0 1-1 0-1.6-1-1 0-2.4-1.4-3.6-.9-1.4-1-1 .1-1.6-1-3.4-.9-1.6-1-.7 .1-.3 1-3-1.5-27.4-9.5-18.6-6.3-26-7.9-14.4-5.4-8-4.1-7-4.6-4.6-3.3-9-7.9-10.4-11.5-4.5-6-4.1-6.6-4.3-11-2-8.4-.4-5-.3-6.6 .3-5.4 2-8.6 2.1-6 6.6-12 10-12.9 12.1-12.1 13.5-10.6 12.8-7.8 11.2-5.5 18.4-8.1 26.6-10.2 13.4-4.7 12-3.6 2.6-1.5 .7 0 0 1 .7 .1 2.6-1.5 1 .2 2.4-1.5 1 .1 2.6-1.5 1.3 .1 .1 1.1 1.6-1 1 0 2.4-1.4 1 0 1.6-1 1 .2 2.4-1.5 1.4 .2 .2 1 3-1.5 1 .2 2.4-1.5 3.6-.8 3-1.5 0 1.5 .4 .2 1.6-1 1 0 1.4-1 1 .2 4-2 .6 1.7 3-1.5 1 0 .4-.5 2-.3 1.6-1 1 0 1.4-1 .5 .2 0 1.6 .5 0 4.6-2 1 .2 4-2 1 .2 1.4-1 1 0 3-1.5 .1 1.5 .9 .3 .6-.5 2.4-.5 1.6-1 5-1.3 1.4-1 1.2 0 0 1.6 .4 .1 3-1.5 6.4-1.8 1.6-1 1.3 .2 0 1.4 .7 .1 1.4-1 1 0 3.6-1.5 .4 .2 .6-.5 2.4-.5 3-1.5 1 .2 1.6-1 2.4-.5 3-1.5 .8 .1 0 2 .2 0 1.6-1 4-1 1.4-1 1 .2 .6-.5 2.4-.5 3-1.5 1 .2 1.6-1 4-1 1.4-1 .8 .1 0 2 .8 0 .4-.5 2.6-.5 1.4-1 1 0 2-1 1 .2 1.6-1 5.4-1.5 1.6-1 1 .2 .4-.5 2.6-.5 1.4-1 1 0 3.6-1.5 .1 2.6 .3 .1 3-1.5 1 0 .6-.5 1 0 3.4-1.5 1 .2 1.6-1 5.4-1.5 1.6-1 1.3 .1 0 2 1.1 .1 2-1 5.6-1.5 1.4-1 1 .3 .6-.5 1 0 .4-.5 7-2 3-1.5 .3 2.6 1.3 .2 .4-.5 1 0 .6-.5 7-2 .4-.5 1 .2 .6-.5 4-1 1.4-1 1 0 3.6-1.5 1.2 .1 0 2.6 .8 .1 .4-.5 2.6-.5 .4-.5 5.6-1.5 3.4-1.5 1 .3 .6-.5 4-1 .4-.5 1 0 3.6-1.5 2.4-.5 .6-.5 .5 0 0 3 .5 .3 .4-.5 5.6-1.5 .4-.5 7-2 .6-.5 1.4 .3 0 3 .6-.5 4-1 .4-.5 1.6 0 .4-.5 1 0 .6-.5 7-2 1-1.9 4-1 0 355.8z"/>
<path fill="#00ff14" d="M603.2 373.3l-2.4-.5-3.6-1.5-1 0-.4-.5-1.6 0-.4-.5-1 0-3.6-1.5-1 0-.4-.5-1.6 .4-.4-.5-1 0-.6-.5-1 0-3.4-1.5-1.6 0-.4-.5-1 0-.6-.5-2.4-.5-2-1-.1 3.1-.5 .3-2-.5-.4-.5-3-.5-.6-.5-7-2-.4-.5-.2 3.2-.4 .3-3.4-1-.6-.5-1 0-.4-.5-1 0-.6-.5-1 0-.4-.5-1 0-.6-.5-1 0-.4-.5-1 0-.6-.5-.1 3.2-.3 .2-.6-.5-1 0-3.4-1.5-5.6-1.5-.4-.5-.8 .2 0 2.6-.8 .1-.4-.5-1 0-.6-.5-7-2-.4-.5-2.6-.2-2-1-4-1-1.4-1-1 0-2-1-1.1 0 0 2.6-.5 .2-1.4-1-1 0-2-1-4-1-.6-.5-1.3 .3 0 2-1.1 0-1.6-1-5.4-1.5-1.6-1-1 .2-.4-.5-5.6-1.5-3-1.5-1 .2-.4-.5-4-1-1.6-1-2.4-.5-.6-.5 0 2.5-.4 .2-1.6-1-5.4-1.5-1.6-1-1 .2-.4-.5-2.6-.5-1.4-1-1 0-2-1-1 .1 0 2-.6 .1-1.4-1-4-1-1.6-1-2.4-.4-1.6-1-1 0-2-1-1 .1-1.4-1-4-1-1.6-1-2.4-.4-1.6-1-1 0-2-1-1.4 .2 0 1.4-.6 .1-3-1.5-1 0-3-1.4-4-1-1.4-1-2.6-.4-1.4-1-1 0-3-1.4-2.6-.5-1.4-1-2.6-.4-1.4-1-1 0-2-1-1 .1 0 1.4-.6 .1-4-2-2.4-.4-1.6-1-2.4-.5-3-1.4-1 0-1.6-1-5-1.4-1.4-1-2.6-.4-3-1.5-.1 1.5-.9 .1-4-2-1 .2-.4-.5-1 0-1.6-1-5-1.4-5.4-2.4-.8 0 0 1-1.2 .1-1.6-1-3.4-.9-1.6-1-1 .2-1.4-1-1 0-1.6-1-1 .1-3-1.5-.4 0 0 1.6-1.6-1-3.4-.9-1.6-1-1 0-1.4-.9-3.6-.9-4-2-1 0-.4-.5-1 .4-44.1-15.2-26.9-7.9-15-5.4-7.6-3.7-7.4-4.9-4-2.9-8.6-7.5-10-11.3-4.4-6.1-3.9-6.3-4-10.6-1.8-8-.4-4.4-.3-8 .3-5 1.9-8.6 1.9-5.4 6.1-11.6 9.7-13 11.7-12 7.2-6.2 6-4.5 13-7.7 9-4.3 13.6-5.9 27.4-10.6 30.6-10.3 .4 .6 2-.5 5-2.4 1 .2 2.6-1.5 1 .1 2.4-1.5 .6 .1 0 1 1 .1 3-1.5 2-.4 1.4-1 1 .2 1.6-1 1 0 1.4-1 .2 1.6 .4 .1 1.4-1 3.6-.8 2.4-1.5 1 .2 0 1 1 0 1.6-1 3.4-.9 1.6-1 3.4-.8 3-1.5 .3 1.6 .7 .2 1.6-1 1 0 1.4-1 1 .2 4-2 1.5 .2 0 1 1.1 0 1.4-1 5-1.3 1.6-1 1 0 .4-.5 1 .2 4-2 1.1 0 0 1.6 .5 .2 3-1.5 1 0 1.4-1 1 .2 6-2.5 .2 1.6 1.4 .1 1.4-1 6.6-1.8 3-1.5 .4 .2 0 2 .6-.5 2.4-.5 1.6-1 1 0 .4-.5 1 .1 1.6-1 1 0 3.4-1.5 5-1.3 1.6-1 1 0 .4-.5 1 .1 1.6-1 4-1 1.4-1 .1 2 .9 .2 .6-.5 5.4-1.5 1.6-.9 4-1 1.4-1 5.6-1.3 1.4-1 1 0 2-1 .7 0 0 2 .9 .2 2-1 1 0 1.4-1 1 0 2-1 1 .2 2-1 1 0 1.6-1 4-1 .4-.5 1 .1 0 2 1 .1 .6-.5 2.4-.5 1.6-1 2.4-.5 .6-.5 1 .2 .4-.5 5.6-1.5 3-1.5 2.4-.3 .6-.5 7-2 1.4-1 .2 2.6 1.4 .2 .4-.5 2.6-.5 1.4-1 1 0 .6-.5 1 0 3.4-1.5 2.6-.3 .4-.5 1 0 .6-.5 7-2 .4-.5 .6 0 0 2.6 1 .2 .4-.5 1 0 .6-.5 1 0 .4-.5 7-2 .6-.5 1 .2 .4-.5 1 0 .6-.5 1 0 .4-.5 1 0 .6-.5 2.4-.5 3.6-1.5 1 0 .4-.5 .1 3.1 .5 .3 .4-.5 1 0 2-1 1.6 0 .4-.5 1 0 .6-.5 1 0 .4-.5 1 0 .6-.5 3.4-1 .6 3.3 .4-.5 1 0 .6-.5 1 0 .4-.5 1 0 3.6-1.5 1.4 0 .6-.5 1 0 3.4-1.5 1 .2 .6-.5 1 0 3.4-1.5 1.6 0 .4-.5 1 0 .6-.5 5.4-1.5 .6-.5 1 0 .4-.5 .6 1.2 4-.9 0 349.7-4-.7-.6 1.4z"/>
<path fill="#00ff0e" d="M603.2 369.9l-.4-.5-1.6 0-3.4-1.5-1.6 0-.4-.5-1 0-3.6-1.5-1.4 0-2-1-1 .3-2-1-1.6 0-3.4-1.5-1 0-.6-.5-1.4 0-2-1-2.6-.5-.4-.5-.1 3-.9 .5-.6-.5-1.4 0-.6-.5-1 0-.4-.5-2.6-.5-2-1-1.4 0-2-1-1.1 .1 0 2.4-.9 .5-.6-.5-1.4 0-2-1-7-2-.6-.5-1 .1 0 2.4-.4 .4-3.6-1-.4-.5-1 0-.6-.5-1 0-.4-.5-3-.5-.6-.5-1.1 .1 0 2.6-.3 .2-.6-.5-1 0-.4-.5-1 0-3.6-1.5-4-1-.4-.5-.5 .2 0 2.6-1.1 0-2-1-4-1-1.4-1-1 0-2-1-2.6-.2-.4-.5-1 0-2-1-4-1-.6-.5-1.2 .2 0 2-1.2 .1-3-1.5-4-1-2-1-1 .2-.6-.5-2.4-.5-1.6-1-2.4-.5-.6-.5-1.3 .2 0 2-.7 0-.4-.5-4-1-1.6-1-2.4-.5-.6-.5-1 .2-2-1-1 0-1.4-1-7-1.8-1.6-1-2.4-.5-.6-.5-1.2 .1-.2 2-3-1.5-1 0-4.6-1.9-1 0-.4-.5-4-1-1.6-.8-4-1-3-1.5-1 .1-.4-.5-2.6-.5-3-1.5-1.2 0 0 1.6-.8 0-2-1-2.4-.5-1.6-1-1 .1-3-1.5-1 0-2-1-1 .1-1.4-1-4-1-3-1.4-1 0-1.6-1-1 .1-.4-.5-2.6-.5-3-1.5-.2 1.6-1.2 0-3-1.5-2.6-.4-1.4-1-2.6-.5-1.4-1-2.6-.4-1.4-1-4-.9-1.6-1-2.4-.4-1.6-1-2.4-.5-.6-.5-.4 1.6-.6-.5-2.4-.5-1.6-1-1 .1-3-1.5-2.4-.3-4-2-2.6-.5-1.4-1-1 .1 0 1-1 .1-3-1.5-1 .1-1.6-1-2.4-.4-1.6-1-3.4-.9-1.6-1-2.4-.4-1.6-1-1.3 0-.1 1.1-3-1.5-1 0-1.6-1-1 0-1.4-.9-5-1.4-1.6-1-.4 .3-43.6-15.1-27.4-7.8-15.6-5.3-6.4-3.2-8.1-5.2-11.5-9.7-10-11.4-4.4-6.3-3.5-6-3-8-1.4-6-1-6-.3-8.6 .2-5.4 .8-4.6 1.6-6.4 2.3-6 5.1-9.6 9.1-12.4 11-11.6 7.1-6.1 6.4-4.9 13-7.5 8.6-3.9 13.4-5.7 27.6-10.3 30-9.9 .4 .5 5-2.3 3.6-.9 1.4-1 .7 0 0 1 .9 .2 1.4-1 1 0 4-1.9 2-.4 1.6-1 1.3 .1 .1 1.1 3-1.5 3.6-.8 1.4-1 1 .1 3-1.5 .9 .2 0 1 1.1 0 1.6-1 3.4-.8 1.6-1 3.4-.8 3-1.5 .2 1.5 .8 .2 1.6-1 1 0 1.4-1 1 .2 .6-.5 1 0 3-1.5 .9 .2 .1 1.5 1.4-1 1 0 2-1 2-.3 1.6-1 6.4-1.8 1.6-1 .5 0 0 1.6 .9 .1 3-1.5 6.6-1.8 1.4-1 1.3 .2 0 1.4 .7 .1 1.6-1 1 0 2-1 5-1.3 1.4-1 1 .2 .6-.5 2.4-.5 3-1.5 .7 .1 0 1.4 1.3 .2 .6-.5 2.4-.5 1.6-1 2.4-.4 3-1.5 5.6-1.3 1.4-1 1 0 2-1 1.3 0 0 1.6 1.3 0 3-1.5 1 0 2-1 1 .1 2-1 1 0 1.4-1 7-1.8 1.6-1 1 0 2-1 .4 .2 0 2 1 0 .6-.5 5.4-1.5 .6-.5 2.4-.4 1.6-1 2.4-.5 3.6-1.5 5.4-1.3 1.6-1 1 0 2-1 .8 .2 .2 2.5 3-1.5 1 0 .4-.5 1 0 3.6-1.5 2.4-.2 .6-.5 1 0 .4-.5 5.6-1.5 .4-.5 1.4 .2 0 2 1.2 0 .4-.5 1 0 .6-.5 1 0 .4-.5 1 0 .6-.5 1 0 .4-.5 1 0 3.6-1.5 1 .3 .4-.5 1 0 3.6-1.5 5.4-1.5 .6-.5 .3 .1 0 2.6 1.1 0 .6-.5 3-.5 .4-.5 1 0 .6-.5 4-1 .4-.5 1 .3 .6-.5 1 0 .4-.5 1 0 .6-.5 1 0 .4-.5 7-2 .6-.5 .7 .1 .3 3.2 .4-.5 1 0 .6-.5 1 0 .4-.5 1 0 3.6-1.5 3-.5 .4-.5 2-.5 .5 .3 .1 3.1 3.4-1.5 2.6-.5 .4-.5 1.6 0 .4-.5 1 0 3.6-1.5 1 0 .4-.5 1.6 .3 .4-.5 5.6-1.5 .4-.5 1.6 0 .4-.5 4-1 2-1 1.6 .2 4-.8 0 343.3-4-.6-.6 1.2z"/>
<path fill="#00ff08" d="M607.8 365.9l-4-.6-.6 .6-1.4 0-.6-.5-1 0-2-1-1.4 0-3.6-1.5-1.4 0-3.6-1.5-1.4 .4 0 3-2-1-1.6 0-.4-.5-1 0-3.6-1.5-1.4 0-.6-.5-2.4-.5-2-1-.5 .4 0 3-.5 .1-.6-.5-1.4 0-.6-.5-2.4-.5-3.6-1.5-1.4 0-2-1-2.6-.1-.4-.5-3-.5-.6-.5-1 0-3.4-1.5-1 0-.6-.5-1.4 0-.6-.5 0 2.6-.4 .4-1.6 0-.4-.5-1 0-.6-.5-7-2-.4-.5-.6 .1 0 2.4-1.4 .4-.6-.5-7-2-2-1-.7 .1 0 2.6-.7 .1-.6-.5-2.4-.5-.6-.5-7-2-.4-.5-2.6-.2-.4-.5-1 0-.6-.5-5.4-1.5-.6-.5-1 .1 0 2-1.4 .2-.6-.5-5.4-1.5-1.6-1-1 0-.4-.5-1 .2-.6-.5-7-2-.4-.5-.6 .1 0 2-1.4 .1-3.6-1.5-2.4-.5-1.6-1-2.4-.3-.6-.5-2.4-.5-3.6-1.5-1.4 .1 0 2.1-.6-.5-2.4-.5-1.6-1-5.4-1.4-3-1.5-7-1.9-1.6-1-5.4-1.3-1.6-1-1 0-2-1-.4 0 0 2-.6 .1-.4-.5-2.6-.5-1.4-1-4-.9-1.6-1-5.4-1.4-1.6-1-2.4-.5-.6-.5-1 0-1.4-.9-2.6-.5-2-1-1 .1-1.4-1-1 0-2-1-1.5 .1-.1 1.5-.4-.5-2.6-.5-1.4-1-4-1-1.6-1-1 0-3-1.4-4-1-1.4-.9-4-1-1.6-.9-2.4-.5-1.6-1-1 .1-.4-.5-2.6-.5-1.4-1-.8 .1-.2 1.5-.6-.5-2.4-.5-1.6-1-1 .1-3-1.5-2.4-.4-1.6-1-2.4-.4-1.6-1-2.4-.5-4.6-1.9-.6 .1 0 1-.4 0-3.4-1-1.6-.9-2.4-.5-1.6-.9-1 0-1.4-1-1 .1-3-1.5-1 .1-3-1.5-2.6-.5-1.4-1-.2 1-1.4 .1-1.4-1-2.6-.4-1.4-1-44-15.2-12.6-3.8-15.4-4-15.6-5.1-6.4-3.1-8.5-5.5-10.1-8.7-9.7-11.3-4.1-6-3.4-6-2.8-8-1.3-6-.8-5.4-.2-9 .2-5 1.6-8.6 3-8.4 4.3-8.6 8.8-12.5 10-10.8 8-7.1 6.4-4.8 9.6-5.5 11-5.2 14-5.7 27.4-10 19.6-6.5 11-3 1.4-1 2-.4 3-1.5 .3 1 .7 .1 3-1.3 1 0 1.6-1 3.4-.9 1.6-1 1 .1 3-1.5 .1 1.5 .3 .2 1.6-1 1 0 1.4-1 1 .1 1.6-1 3.4-.8 1.6-1 1.1 .1 0 1 .9 .1 3-1.5 1 0 4.4-1.9 2-.3 3-1.5 .1 1.5 .9 .2 1.6-1 5-1.3 3-1.5 .9 .2 .1 1.5 3-1.5 1 0 .4-.5 1 .2 4.6-2 1 .2 1.4-1 2.6-.5 1.4-1 .2 1.6 1.4 .1 3-1.5 1 0 .4-.5 1 .2 6-2.5 .4 .2 0 1.4 1.2 .1 .4-.5 2.6-.5 1.4-1 1 .2 .6-.5 1 0 3.4-1.5 5-1.4 1.6-1 1.3 .1 0 1.6 1.1 0 1.6-1 7-1.8 1.4-1 7-1.9 3-1.5 4-.9 1.6-1 1 0 2-1 0 2.1 1.4 0 3-1.5 1 0 2-1 1 .2 .6-.5 5.4-1.5 1.6-1 2.4-.4 .6-.5 5.4-1.5 .6-.5 1.2 .2 .2 2 .6-.5 2.4-.5 .6-.5 1 0 .4-.5 4-1 .6-.5 1 .2 .4-.5 1 0 2-1 4-1 .6-.5 1 .2 .4-.5 1 0 1.6-1 2.4-.5 3.6-1.5 1.1 0 0 2 1.3 .2 .6-.5 1 0 3.4-1.5 2.6-.5 .4-.5 2.6-.2 .4-.5 1 0 .6-.5 1 0 .4-.5 7-2 .6-.5 .5 0 0 2.6 .9 .2 .6-.5 2.4-.5 .6-.5 5.4-1.5 .6-.5 2.4-.3 2-1 1.6 0 .4-.5 4-1 2-1 .6 .1 0 2.4 1.4 .3 .6-.5 5.4-1.5 3.6-1.5 1.4 0 1-.5 .5 .3 0 2.4 1.1 .1 .4-.5 3-.5 .6-.5 4-1 2-1 1.4 0 .6-.5 1 .4 3.4-1.5 2.6-.5 .4-.5 1.6 0 .4-.5 1 0 3.6-1.5 1 0 .4-.5 .6 .1 0 3 1 .2 .4-.5 3-.5 .6-.5 1 0 3.4-1.5 1.6 0 3.4-1.5 1.6 0 .4-.5 4.6-.7 0 336.6z"/>
<path fill="#00ff02" d="M607.8 362.3l-4-.5-.2 .4-.8 .2-.6-.5-1.4 0-2-1-1.6 0-3.4-1.5-1.6 0-2-1-1.4 0-.6-.5-1.3 .3-.1 3.1-.6-.5-1 0-2-1-1.4 0-3.6-1.5-1.4 0-3.6-1.5-1.4 0-.5 .4 0 2.6-1.1 0-.4-.5-1 0-3.6-1.5-1.4 0-.6-.5-2.4-.5-2-1-1 0-.5 .4 0 2.6-1.1 0-.4-.5-3-.5-.6-.5-5.4-1.5-.6-.5-1.4 0-.6-.5-.4 .4 0 2.6-1.6 0-3.4-1.5-5.6-1.5-.4-.5-1 .3-.6-.5-1.4 0-.6-.5-7-2-.4-.5-1.2 .1 0 2.6-.4 .2-.4-.5-1 0-.6-.5-5.4-1.5-.6-.5-3-.5-.4-.5-1.4 .2 0 2-1.2 .1-.4-.5-4-1-3.6-1.5-2.4-.2-.6-.5-7-2-.4-.5-1.4 .1 0 2-.6 .1-.6-.5-1 0-.4-.5-5.6-1.5-.4-.5-1 .2-2-1-7-2-.6-.5-1 .2-.4-.5-1 0-1.6-1-1 0-3.4-1.5-.7 0 0 2-1.3 .2-1.6-1-4-1-2-1-1 .1-2-1-1 0-1.4-1-4-.9-.6-.5-1 0-3.4-1.5-1.5 .2 0 1.4-1.1 .1-3-1.5-7-1.9-1.4-1-7-1.9-1.6-1-7-1.9-1.4-1-4-1-2-1-1 .1-1.6-1-2.4-.5-.6-.5-.6 0 0 1.6-.8 0-.6-.5-1 0-3.4-1.5-1 .1-1.6-1-4-1-1.4-.9-4-1-1.6-.9-4-1-.4-.5-1 0-1.6-1-1 0-2-1-1 .1-1.4-1-2.6-.5-.4-.5-.6 .1 0 1.4-.4 .1-3-1.5-2.6-.4-3-1.5-2.4-.4-3-1.5-2.6-.4-1.4-1-4-.9-1.6-1-.7 .1 0 1-1.3 0-3-1.4-4-1-1.4-1-1 0-3-1.4-2.6-.5-1.4-.9-2.6-.5-1.4-.9-2.6-.5-3-1.5-.6 0 0 1-.8 .1-1.6-1-1-.1-.4-.6-42.6-14.8-12.4-3.8-24.6-6.5-7.4-2.7-5.6-2.6-8.4-5.4-9.6-8.3-9.5-11.3-4-6-3-5.4-2.6-8-1.1-5.6-.9-6 0-8.4 .1-4.6 1.5-8.4 3-9 4.3-8.6 8.2-12 9-10 8.5-7.4 7.1-5.3 13-7 20.4-8.3 27.6-9.8 28-8.9 2.4-1.3 2.4-.4 .2 1 4.4-1.9 1 0 1.6-1 1 .1 1.4-1 3.6-.8 1.4-1 .9 0 0 1 1.1 .1 1.6-1 3.4-.9 1.6-1 1 .2 .4-.5 1 0 1.6-1 1 .1 3-1.5 1 .1 0 1 1 .1 1.4-1 5-1.4 1.6-1 2.4-.3 3-1.5 .1 1.5 .9 .2 1.6-1 6.4-1.8 1.6-1 .9 .2 0 1.4 .5 .1 1.6-1 1 0 2-1 .4 .2 .6-.5 4-1 .4-.5 .6 .1 .4-.5 1 0 3.6-1.5 .7 .2 .3 1.6 .4-.5 4-1 1.6-1 1 .1 .4-.5 1 0 3.6-1.5 5-1.3 1.4-1 .1 2.1 .5 .1 .4-.5 6.6-1.8 .4-.5 1 0 3.6-1.5 2.4-.4 1.6-1 1 0 2-1 1 0 0 1.6 1.4 .1 1.6-1 1 0 3.4-1.5 1 .1 .6-.5 4-1 1.4-1 2.6-.4 .4-.5 1 0 3.6-1.5 2.4-.4 6-2.5 .6 .1 0 2 1 .1 .4-.5 2.6-.5 .4-.5 4-1 .6-.5 1 .1 2-1 2.4-.5 1.6-1 1 0 .4-.5 1 .2 .6-.5 1 0 .4-.5 1 0 .6-.5 1 0 .4-.5 1 0 3.6-1.5 .1 2.5 .3 .2 .6-.5 1 0 .4-.5 1 0 .6-.5 1 0 3.4-1.5 2.6-.3 2-1 5.4-1.5 .6-.5 1.3 .1 0 2 1.1 .1 .6-.5 1 0 .4-.5 5.6-1.5 .4-.5 2.6-.2 2-1 1.4 0 .6-.5 1 0 .4-.5 1 0 .6-.5 1 0 3.4-1.5 .4 .1 0 2.6 1.2 0 .4-.5 1 0 .6-.5 5.4-1.5 .6-.5 1.4 0 .6-.5 1 .3 .4-.5 2.6-.5 .4-.5 2.6-.5 3.4-1.5 1.9 .1 .1 2.7 .6-.5 1.4 0 .6-.5 1 0 .4-.5 4-1 .6-.5 1.4 0 2-1 2.6-.2 2-1 1.4 0 .6-.5 2.4-.5 3.6-1.5 1.4 0 .6-.5 .5 .1 0 3 .5 .3 3.4-1.5 3-.5 .6-.5 2.4-.5 2-1 1.6 0 2-1 .1 3.1 1.3 .3 .6-.5 1 0 2-1 1.4 0 3.6-1.5 1.4 0 3.6-1.5 1.4 0 .6-.5 4-.8 0 329.6z"/>
<path fill="#fffc00" d="M607.8 359.4l-4.6-.4-2-1-1.4 0-2-1-3-.5-.6-.5-1.4 0-2-1-1.6 0-2-1-.4 3.5-3-.5-2-1-1.6 0-3.4-1.5-3-.5-.6-.5-1.4 0-.3 2.7-1.3 .3-2-1-1.4 0-3.6-1.5-1.4 0-.6-.5-2.4-.5-.6-.5-.7 .3-.3 3.2-2-1-3-.5-.4-.5-2.6-.5-2-1-1.4 0-.6-.5-1.2 .2 0 2.6-.8 .1-2-1-4-1-.4-.5-1.6 0-2-1-1 0-.4 .4 0 2.5-.6-.5-1.4 0-2-1-2.6-.5-.4-.5-2.6-.5-.4-.5-4.6-.7-.4-.5-1 0-.6-.5-7-2-.4-.5-.2 2.6-.4 .3-5.4-1.5-3.6-1.5-1.4 .3 0 2-1 0-.6-.5-2.4-.5-.6-.5-4-1-.4-.5-2.6-.3-.4-.5-1 0-.6-.5-2.4-.5-3.6-1.5-1 .2-.4-.5-7-2-.6-.5-1.1 .1 0 2-.9 .1-3-1.5-1 0-3.4-1.5-1 .1-.6-.5-2.4-.5-.6-.5-2.4-.5-2-1-1 .2-3.6-1.5-2.4-.5-.6-.5-1.2 .1 0 1.4-1.2 .1-.6-.5-2.4-.5-2-1-2.6-.4-1.4-1-2.6-.5-2-1-1 .1-.4-.5-4-1-1.6-1-2.4-.4-.6-.5-4-1-.4-.5-1 .1-2-1-1 0-3-1.5-.7 0 0 1.6-1.3 0-.6-.5-4-1-.4-.5-1 .1-1.6-1-1 0-2-1-1 .1-.4-.5-2.6-.5-1.4-1-5.6-1.5-1.4-1-7-1.9-4.6-1.9-1.3 .1-.1 1.5-1.6-1-1 0-2-1-1 .1-1.4-1-5.6-1.4-1.4-1-4-.9-1.6-1-5.4-1.5-4.6-1.9-1.2 .1 0 1-.8 0-3-1.5-1 .1-4.4-1.9-2.6-.5-1.4-1-1 0-2-1-1 .1-1.6-1-4-.9-1.4-1-2.6-.5-1.4-1-.6 1.6-1.4-1-2.6-.5-1.4-1-2.6-.4-1.4-1-2.6-.5-1.4-1-2.6-.5-1.4-.9-1 0-3-1.5-4-1-1.6-1-2.4-.5-1.6-1-2.4-.5-1.6-1-2.4-.4-1.6-1-2.4-.5-1.6-1-2.4-.4-1.6-1-2.4-.5-.6-.5-.9 .1 0 .4-.5 .1-.6-.5-2.4-.5-3-1.4-1 .1-1.6-1-1 0-3-1.4-1 .1-1-.5-.2 .6-.8 0-1.4-.9-5-1.3-1.6-.9-1.1 .1-.3 .5-1.6-.9-5-1.3-1.4-.9-.6 .6-1-.5-1 .1-4-1.9-1 0-1.4-1-1 0-1.6-1-1 0-1.4-1.1-2-.6-.7-1-3.3-1.4-1.6-1.7-3.2-1.5 0-.4-1.8-1-.6-1-.8-.3-.6-1.3-2-.9-.4-1.3-1-.2 0-.6-.6 0-2-2.3-.6-.1 0-.6-1.4-1.7-.7-.3-1.3-2.2-.4 0-.6-1-.4 0-.6-1.6-.4 0-.6-1-.4 0-2.6-4.4-.6-.2-.4-1.6-1.2-1.4-1.2-3-.6 0-2-6.7-.4 0-.6-3.4-.4 0-.2-.5-.8-9.1-.6 0 0-3.3 0-9.6 .6 0 .8-9 .6-1.1 .6-2.7 .5-.2 .5-2.2 .4 0 1-4.6 .6 0 1.4-3.5 .6 0 1-3.7 .4 0 .6-1.3 .4 0 .5-1.7 .5 0 .6-1.2 .4 0 2.3-4.2 .7-.4 .6-1.1 .4 0 .6-1.5 1.4-1 .6-1.5 .4 0 .1-.5 .9-.5 1-1.5 .6 0 1.1-2 .9-.4 .4-1.4 1 0 .6-1.4 1-.3 .5-1.1 .9-.2 .8-1.2 2.3-1.6 0-.4 1.8-1 .7-1.1 1-.3 1.4-1.7 2-.9 .6-1.1 2-.7 .4-.6 2-.6 1.6-1.6 6.7-3 .3-1 1 0 2.4-1.5 1 0 4-2 1 0 2.6-1.5 1 0 1.4-1 1 0 2.6-1.5 0 1.1 .4 0 1.6-1 1 0 5-2.4 1 0 4-2 1 .1 4-1.9 3.4-1 5-2.4 1.3 0 0 .6 .7 0 5.6-2.4 1 0 1.4-.9 1 0 1.6-.9 1 0 1.4-1 1 0 1.6-1 1 .1 1.4-1 1.4 .1 0 .4 .6 .1 .6-.5 2.4-.4 4-1.9 1 0 1.6-.9 1 0 1.4-1 1 0 1.6-1 5-1.4 .4-.5 .1 1.1 .9 .1 .6-.5 5-1.4 1.4-.9 1 0 1.6-1 2.4-.4 1.6-1 1.1 .1 0 1 .3 0 .6-.5 6.4-1.8 1.6-.9 1 0 3-1.5 .3 .1 .1 1.6 .6-.5 2.4-.5 1.6-1 1 .1 .4-.5 1 0 1.6-1 2.4-.3 3-1.5 .5 .2 0 1.4 .5 .1 3-1.5 1 0 .6-.5 1 .1 1.4-1 1 0 2-1 1 .2 1.6-1 1 0 2-1 .3 .2 0 1.4 .7 .1 .4-.5 5-1.3 .6-.5 1 0 3.4-1.5 .6 .2 .4-.5 4-1 1.6-1 0 2 .4 .2 3-1.5 1 0 2-1 1 .2 .6-.5 2.4-.5 1.6-1 1 .1 .4-.5 4-1 .6-.5 1 0 0 1.6 1 .1 3-1.5 1 0 2-1 1 .2 .4-.5 1 0 3.6-1.5 2.4-.4 1.6-1 1 0 3.4-1.5 .9 .1 .1 2 .6-.5 1 0 .4-.5 1 0 3.6-1.5 1 .1 .4-.5 4-1 1.6-1 2.4-.4 .6-.5 5.4-1.5 .6-.5 1 .2 .4-.5 7-2 .6-.5 .2 2 1.2 .1 3.6-1.5 2.4-.5 .6-.5 2.4-.3 .6-.5 1 0 .4-.5 1 0 .6-.5 4-1 .4-.5 1 .2 .6-.5 7-2 .4-.5 1.3 .1 0 2 1.3 .1 .4-.5 1 0 .6-.5 1 0 .4-.5 1 0 3.6-1.5 2.4-.3 .6-.5 7-2 .4-.5 1.3 .2 .3 2.6 .4-.5 1 0 .6-.5 7-2 .4-.5 4.6-.8 .4-.5 1 0 .6-.5 1 0 .4-.5 1 0 3.6-1.5 2.2-.3 0 2.4 1.2 .2 2-1 1.6 0 .4-.5 1 0 .6-.5 1 0 3.4-1.5 1 .3 .6-.5 1.4 0 .6-.5 1 0 .4-.5 1 0 3.6-1.5 1.4 0 2-1 1.2 0 0 2.6 1.4 .2 .4-.5 4-1 .6-.5 1.4 0 .6-.5 5.4-1.5 .3 2.8 1.7 .2 3.6-1.5 1.4 0 3.6-1.5 1.4 0 3.6-1.5 .3 .3 0 3 1.1 0 .6-.5 1.4 0 2-1 1.6 0 .4-.5 2.6-.5 .4-.5 1.6 0 2-1 1.4 0 1.3-.6 .3-.8 4-.8 0 323.8z"/>
<path fill="#fff800" d="M603.2 354.9l-3-.5-2-1-1.4 0-.6-.5-3-.5-.4-.5-1.6 0-.4-.5-3-.5-.6-.5-.3 .4-.1 3.1-1 0-2-1-1.6 0-2-1-1.4 0-2-1-1.6 0-2-1-1.4 0-.4 .3 0 2.6-1.2 .1-2-1-1.4 0-.6-.5-3-.5-.4-.5-2.6-.5-.4-.5-1.6 0-.4-.5-.6 3.5-3.4-1-.6-.5-3-.5-3.4-1.5-1.6 0-.4-.5-.9 .4-.1 2.6-1 0-2-1-1.6 0-.4-.5-4-1-.6-.5-1.4 0-.6-.5-.4 .3 0 2.6-1 0-2-1-1.6 0-2-1-4-1-.4-.5-1.6 .3-.4-.5-2.6-.5-3.4-1.5-1.6 0-3.4-1.5-.2 2.6-.4 .3-1-.5-1.4 0-.6-.5-5.4-1.5-.6-.5-1.4 .3 0 2-1 0-.6-.5-7-2-.4-.5-3-.3-.6-.5-2.4-.5-3.6-1.5-2.4-.3-.6-.5-1 0-2-1-4-1-.4-.5-.7 .1 0 2-1.3 .1-.6-.5-5.4-1.5-.6-.5-2.4-.3-.6-.5-5.4-1.5-.6-.5-2.4-.4-.6-.5-5.4-1.5-.6-.5-.1 2.1-1.3 0-1.6-1-1 0-3.4-1.5-1 .1-.6-.5-1 0-.4-.5-2.6-.5-2-1-1 .1-.4-.5-1 0-.6-.5-4-1-.4-.5-1 .1-3-1.5-1 0-2-1-1 .1-.6-.5-1 0-.4-.5-2.6-.5-2-1-.4 2.1-.6-.5-4-1-.4-.5-2.6-.4-1.4-1-1 0-2-1-1 0-.6-.5-2.4-.5-2-1-2.6-.4-1.4-1-1 0-2-1-1 .1-.6-.5-1 0-3.4-1.5-1 .1-1.6-1-1 0-2-1-1 0-3.4-1.5-1.2 .1 0 1-1.4 0-.4-.5-2.6-.5-.4-.5-1 .1-1.6-1-7-1.9-1.4-1-1 0-3.6-1.5-1 .1-3-1.5-2.4-.4-2-1-1.2 0 0 1-.8 .1-3-1.5-1 .1-.6-.5-2.4-.5-1.6-1-5.4-1.4-1.6-1-1 0-4.4-1.9-5.6-1.5-3-1.4-1.4 0-5-1.6-36.6-13-12.4-3.9-25-6.4-6.6-2.1-6-2.8-7.6-4.7-8.7-7.4-5.7-6.4-4.3-5.6-3.2-5-2.4-5-2.7-9.6-1.3-11.4 .3-9 1.2-8.6 3.1-10.4 4.4-9 5.4-8.6 3.6-4.4 4.9-5.6 5.5-5 10.5-8.1 12.6-6.6 11.4-4.6 23.6-8.6 32.4-10.7 8.6-2.4 1.4 .1 1.6-1 2.4-.4 1.6-1 1 .1 3-1.5 1 .2 3-1.5 .3 0 0 1 1.1 .1 .6-.5 1 0 1.4-.9 2.6-.5 1.4-.9 4-1 3-1.4 1.5 .1 0 1 .5 .1 1.6-1 4-.9 1.4-1 1 0 .6-.5 1 .2 3-1.5 2.4-.4 3-1.5 .1 1.5 .9 .2 3-1.5 5.6-1.4 1.4-1 1 .2 2-1 1 0 1.6-1 .1 1.5 1.3 .2 .6-.5 5-1.3 3.4-1.5 2.6-.4 1.4-1 1 0 2-1 .6 .1 0 1.4 1 .2 .4-.5 1 0 3.6-1.5 1 .2 .4-.5 2.6-.5 1.4-1 2.6-.4 .4-.5 4-1 .6-.5 0 2 .4 .2 .6-.5 1 0 .4-.5 1 0 3.6-1.5 1 .1 .4-.5 2.6-.5 1.4-1 2.6-.3 .4-.5 1 0 .6-.5 4-1 .4-.5 .9 0 .1 2.1 .6-.5 1 0 .4-.5 1 0 3.6-1.5 1 .1 .4-.5 4-1 2-1 1 .1 .6-.5 5.4-1.5 .6-.5 2.4-.4 2-1 4-1 .6-.5 1.4 .1 0 2 .6-.4 1.4 0 .6-.5 1 0 .4-.5 4-1 .6-.5 1 .1 .4-.5 4-1 3.6-1.5 2.4-.3 .6-.5 1 0 .4-.5 1 0 3.6-1.5 1.8 .2 0 2 .6 0 .6-.5 1 0 3.4-1.5 1.6 0 2-1 2.4-.2 .6-.5 5.4-1.5 .6-.5 1.4 0 .6-.5 .8 .2 .2 2.5 3.4-1.5 1.6 0 .4-.5 2.6-.5 3.4-1.5 1.6 .3 .4-.5 1 0 .6-.5 1 0 3.4-1.5 1.6 0 2-1 1.2 .1 .2 2.7 .6-.5 1.4 0 .6-.5 4-1 .4-.5 1.6 0 2-1 4.4-.7 .6-.5 1 0 3.4-1.5 1.6 0 .4-.5 2.6-.5 .4-.5 .1 3 .9 .4 3.6-1.5 1.4 0 3.6-1.5 1.4 0 2-1 1.2 .2 .4 2.8 1.4 0 .6-.5 3-.5 3.4-1.5 1.6 0 2-1 3-.5 .4 3.4 2-1 1.6 0 2-1 1.4 0 2-1 1.6 0 2-1 3-.5 .4-.5 4.6-.6 0 314.2-4-.3-.6 .6z"/>
<path fill="#fff400" d="M603.2 351.4l-1-.5-1.4 0-2-1-1.6 0-2-1-3.4-.5-2-1-1.6 0-.4-.5-.9 .3-.1 3.2-4-1-.6-.5-3.4-.5-2-1-1.6 0-2-1-1.4 0-.4 .4 0 2.4-1.2 .2-.4-.5-1.6 0-2-1-3-.5-.4-.5-1.6 0-2-1-1.4 0-.3 2.9-.7 .2-.6-.5-1.4 0-2-1-1.6 0-3.4-1.5-1.6 0-2-1-.4 3.5-2-1-1.6 0-3.4-1.5-3-.5-.6-.5-1.3 .2 0 2.6-.7 .1-.4-.5-2.6-.5-.4-.5-1.6 0-.4-.5-2.6-.5-2-1-1.4 .3-2-1-2.6-.5-.4-.5-1.6 0-3.4-1.5-1.6 0-.4-.5-.1 2.5-.9 .4-.6-.5-2.4-.5-.6-.5-1.4 0-3.6-1.5-1.3 .2 0 2-1.1 .1-2-1-1.6 0-.4-.5-2.6-.5-2-1-1 .2-.4-.5-1 0-2-1-2.6-.5-.4-.5-1.6 0-.4-.5-1 .1 0 2-1 .1-.6-.5-1 0-2-1-4-1-.4-.5-1 .2-.6-.5-5.4-1.5-.6-.5-3-.4-.4-.5-1 0-.6-.5-2.4-.5-3.6-1.5-.3 .2 0 2-1.1 0-.6-.5-2.4-.5-3.6-1.5-1 .1-2-1-4-1-.4-.5-1 .1-.6-.5-2.4-.5-3.6-1.5-1 .1-.4-.5-5.6-1.5-.4-.5-1 .1-.6-.5-5.4-1.5-.6-.5-.2 2.1-.2 0-.6-.5-1 0-.4-.5-4-1-.6-.5-1 .1-.4-.5-2.6-.5-2-1-1 0-.4-.5-4-1-.6-.5-1 .1-1.4-1-1 0-3.6-1.5-1 .1-3.4-1.5-1 0-.6-.5-1 .1-.4-.5-1 0-3.6-1.5-1 0-.4-.5-2.6-.5-2-1-.2 0 0 1.6-.8 0-3.4-1.5-4-.9-1.6-1-2.4-.5-3.6-1.5-1 .1-3.4-1.5-1 .1-1.6-1-1 0-2-1-1 0-3.4-1.5-2.6-.4-1.4-1-1.2 0 0 1-.8 .1-2-1-5.6-1.4-3-1.5-5.4-1.4-1.6-1-7-1.9-1.4-1-1 0-3.6-1.5-.4 .2-4.6-1.5-37-13.2-12-3.8-25.4-6.5-6-2-5.6-2.4-7.4-4.5-8.6-7.3-5.4-6.1-4.4-5.7-3.1-5-2.4-5-1.6-5.6-1.2-7.4-.5-6 .4-9 1.4-11 1.7-6.6 2.4-6 6.8-12 5.1-6.4 4.1-4.6 5.3-4.7 11-8.3 12.4-6.4 20.6-7.8 46-15.5 8-2.3 .4 .2 3-1.5 2.6-.4 1.4-1 1 .1 3-1.4 2.6-.5 .4-.5 .6 0 0 1 1 .1 3-1.5 1 .1 .4-.5 2.6-.5 1.4-.9 2.6-.5 4.4-1.8 .6 1.6 4.4-1.9 1 0 4.6-1.8 2.4-.5 .6-.5 2.4-.4 3-1.5 .1 1.5 .9 .2 .6-.5 2.4-.5 1.6-1 1 .1 3.4-1.5 2.6-.3 3-1.5 1.1 0 0 1.6 .3 .1 .6-.5 2.4-.5 1.6-1 1 .1 .4-.5 1 0 3.6-1.5 1 .2 .4-.5 2.6-.5 3-1.5 .1 2.1 .3 .1 3.6-1.5 1 0 1.4-1 1 .1 .6-.5 1 0 3.4-1.5 1 .2 .6-.5 4-1 .4-.5 .9 .1 0 1.4 1.1 .1 .6-.5 1 0 3.4-1.5 1 .1 .6-.5 1 0 .4-.5 1 0 3.6-1.5 1 .2 .4-.5 1 0 .6-.5 1 0 3.4-1.5 1 .1 .6-.5 1 0 .4-.5 1 0 3.6-1.5 .7 0 0 2 .7 .1 .6-.5 1 0 .4-.5 4-1 .6-.5 1 .1 .4-.5 2.6-.5 3.4-1.5 1 .1 .6-.5 7-2 .4-.5 3-.3 .6-.5 5.4-1.5 .6-.5 .4 2.6 .6-.5 1 0 .4-.5 7-2 .6-.5 1 .2 .4-.5 1.6 0 .4-.5 1 0 .6-.5 1 0 3.4-1.5 1 .2 .6-.5 1 0 3.4-1.5 1.6 0 2-1 1.1 0 0 2 1.3 .2 .6-.5 1 0 2-1 1.4 0 3.6-1.5 1 .3 3.4-1.5 1.6 0 .4-.5 1 0 .6-.5 4-1 .4-.5 1.1 .1 0 2.4 .9 .3 3.6-1.5 3-.5 .4-.5 3.6-1 .4 .2 0 2.6 1 0 2-1 1.6 0 .4-.5 1 0 2-1 1.6 0 2-1 1 .3 .4-.5 1.6 0 .4-.5 2.6-.5 2-1 1.4 0 3.6-1.5 .6 .2 0 3 .4 .2 .4-.5 1.6 0 3.4-1.5 1.6 0 2-1 1.4 0 2-1 1.3 .2 .3 2.8 1.4 0 2-1 1.6 0 2-1 1.4 0 2-1 1.6 0 .4-.5 2.6-.5 .4 3.5 .6-.5 1.4 0 2-1 1.6 0 .4-.5 1.6 0 2-1 1.4 0 2-1 1.6 0 .4-.5 5.6-.4 0 305.9-4-.3-.6 1.2z"/>
<path fill="#fff000" d="M603.2 347.3l-5.4-1-2-1-5.6-1-2-1-1 0-.4 .5 0 3-2-.5-.6-.5-3.4-.5-2-1-3.6-.5-2-1-1.4 0-.4 .4-.2 2.8-3-.5-.4-.5-1.6 0-2-1-1.4 0-2-1-1.6 0-.4-.5-1.3 .3 0 2.4-1.3 .3-.4-.5-1.6 0-2-1-3-.5-.4-.5-1.6 0-2-1-1.2 .2 0 2.6-1.2 .2-.6-.5-1 0-2-1-1.4 0-2-1-1.6 0-2-1-.4 2.9-1.6 0-3.4-1.5-1.6 0-3.4-1.5-1.5 .4 0 2.4-.5 .1-.6-.5-1 0-3.4-1.5-1.6 0-.4-.5-1 0-2-1-1.6 0-.4-.5-1 .3-.6-.5-2.4-.5-.6-.5-1.4 0-3.6-1.5-1.1 .2 0 2-1.3 .1-.6-.5-1.4 0-.6-.5-5.4-1.5-.6-.5-1.4 .3-.6-.5-1 0-.4-.5-4-1-.6-.5-1.4 0-.6-.5-.4 2.7-.6-.5-1 0-2-1-5.4-1.5-.6-.5-1.4 .2-.6-.5-2.4-.5-3.6-1.5-2.4-.4-2-1-1.6 0-3.4-1.5-.7 0 0 2-.9 .2-3.4-1.5-2.6-.5-.4-.5-1 .1-.6-.5-2.4-.5-3.6-1.5-1.4 .1-.6-.5-1 0-.4-.5-4-1-.6-.5-1 .1-.4-.5-1 0-.6-.5-4-1-.4-.5-.8 .1-.2 2-.6-.5-1 0-.4-.5-4-1-.6-.5-1 .1-.4-.5-4-1-.6-.5-2.4-.5-.6-.5-2.4-.5-2-1-1 .1-.6-.5-1 0-3.4-1.5-1 .1-.6-.5-4-1-.4-.5-1 0-.6-.5-4-1-.4-.5-5.6-1.4-.4-.5-1.4 0-.2 1.6-2-1-2.4-.5-1.6-1-1 0-3.4-1.5-1 .1-3.6-1.5-2.4-.4-3.6-1.5-1 .1-3.4-1.5-4-1-1.6-1-1 .1-.4-.5-2.6-.5-.4-.5-1 .1 0 1.5-3-1.5-2.6-.5-2-1-1 .1-3.4-1.5-2.6-.5-1.4-1-1 0-3.6-1.5-2.4-.4-.6-.5-2.4-.5-1.6-1-1 0-.4-.5-1 0-.6-.5-1 0-.4-.5-1 0-.6-.5-1 0-.4-.5-5-1.4-48-17-27-6.9-5.6-1.9-5.4-2.3-7.2-4.3-8.4-7.1-5.2-5.9-4.1-5.4-2.8-4.6-2.3-5-2.2-9-.6-10.4 1.5-18 1.6-7 2.2-6 6.4-11.6 5-6.4 4.1-4.4 5.1-4.6 10.9-8 11.8-6 11.2-4.4 35-12.4 21-6.8 8-2.2 3-1.4 1 0 2-1 1 .1 3-1.5 .2 1 1.2 .1 .6-.5 2.4-.4 1.6-1 2.4-.4 4.6-1.9 2.4-.5 .6-.5 1 .1 3-1.5 .6 .1 0 1 1.4 0 .4-.5 4-.9 1.6-1 1 0 .4-.5 1 .2 .6-.5 4-1 4.4-1.9 .2 1.5 .8 .2 .6-.5 5.4-1.4 1.6-1 4-.8 3.4-1.5 .8 0 .2 1.6 .6-.5 1 0 3.4-1.5 1 .2 .6-.5 1 0 3.4-1.5 1 .1 .6-.5 1 0 3.4-1.5 .9 .1 0 1.6 .7 0 .4-.5 1 0 3.6-1.5 1 .1 .4-.5 1 0 3.6-1.5 1 .2 .4-.5 4-1 .6-.5 2.4-.4 .6-.5 2.4-.5 2-1 .7 .1 0 2 .3 .1 .6-.5 1 0 .4-.5 4-1 .6-.5 1 .1 .4-.5 1 0 .6-.5 2.4-.5 2-1 1 .1 .6-.5 5.4-1.5 .6-.5 1.4 .1 .6-.5 1 0 2-1 2.4-.5 .6-.5 .3 0 0 2 1.1 .1 .6-.5 5.4-1.5 .6-.5 1 .1 3.4-1.5 1.6 0 2-1 2.4-.4 .6-.5 5.4-1.5 .6-.5 1.4 .2 .6-.5 1 0 .4-.5 7-2 .6-.5 .1 2.6 .3 .1 .6-.5 1.4 0 .6-.5 5.4-1.5 .6-.5 1.4 .2 .6-.5 1 0 .4-.5 1 0 3.6-1.5 1.4 0 .6-.5 1.3 .1 0 2 1.1 .1 .6-.5 1 0 2-1 1.4 0 3.6-1.5 1 .3 .4-.5 1.6 0 3.4-1.5 1.6 0 .4-.5 1 0 3.6-1.5 .7 .2 0 2.4 1.3 .2 3.4-1.5 1.6 0 3.4-1.5 3-.2 .6-.5 3-.5 .4-.5 1 0 2-1 1.6 0 2-1 0 3.1 .4 .2 2-1 1.6 0 .4-.5 1 0 2-1 1.6 0 2-1 1.4 0 .6-.5 .7 .2 .3 2.8 1.4 0 2-1 1.6 0 .4-.5 3-.5 2-1 1.6 0 .4-.5 1.3 .3 .3 2.7 1.4 0 2-1 1.6 0 2-1 1.4 0 .6-.5 1.4 0 .6-.5 4-1 .2 3.3 .8 .3 .4-.5 1.6 0 .4-.5 3-.5 .6-.5 1.4 0 .6-.5 3-.5 .4-.5 3-.5 .6-.5 .8 .2 .2 .6 4-.4 0 297.2-4-.2-.6 1.3z"/>
<path fill="#ffeb00" d="M603.2 343.8l-3-.5-.4-.5-3-.5-.6-.5-1.4 0-.6-.5-1.4 0-.6-.5-1.4 0-.6-.5-1.4 0-.6-.5-1 0-.4 .4 0 3.1-.6-.5-3.4-.5-2-1-5.6-1-2-1-1.4 0-.4 .5-.2 2.7-1.4 0-2-1-3.6-.5-.4-.5-3-.5-.6-.5-1.4 0-.6-.5-.7 .2 0 2.6-1.7 .2-.6-.5-1.4 0-2-1-1.6 0-2-1-1.4 0-2-1-.8 .3-.2 3.2-.6-.5-3-.5-3.4-1.5-1.6 0-2-1-1.2 .3 0 2.4-.8 .3-.4-.5-1.6 0-2-1-3-.5-2-1-1.4 0-.5 .3-.1 2.5-3.4-1.5-1.6 0-.4-.5-1 0-2-1-1.6 0-2-1-1 .4-.4-.5-1.6 0-.4-.5-1 0-2-1-1.6 0-2-1-1 .1 0 2-2 .2-.4-.5-1 0-3.6-1.5-1.4 0-2-1-1 .2-2-1-1.6 0-.4-.5-1 0-3.6-1.5 0 2.6-1 .1-.4-.5-5.6-1.5-.4-.5-1.6 0-.4-.5-1 .2-.6-.5-1 0-3.4-1.5-1.6 0-2-1-.3 .1 0 2-1.1 .1-.6-.5-3-.5-3.4-1.5-1 .2-.6-.5-5.4-1.5-.6-.5-1.4 .1-.6-.5-1 0-.4-.5-2.6-.5-2-1-1 .1-3.4-1.5-1.6 0-2-1-.3 .1 0 2-.7 0-.4-.5-1 0-.6-.5-2.4-.5-2-1-1 .1-.6-.5-4-1-2-1-1 0-.4-.5-1.6 0-3.4-1.5-1 .1-.6-.5-1 0-3.4-1.5-2.6-.4-3.4-1.5-7-2-.6-.5-3-.4-3.4-1.5-.3 1.5-1.3 .1-.4-.5-5.6-1.5-3.4-1.5-1 .1-.6-.5-1 0-3.4-1.5-1 .1-.6-.5-5.4-1.5-3.6-1.5-1 .1-.4-.5-4-1-3.6-1.5-2.4-.4-3.6-1.5-.4 1.6-3.6-1.5-1 0-3.4-1.5-4-.9-.6-.5-1 0-2-1-2.4-.5-1.6-1-2.4-.4-2-1-1 0-.6-.5-4-1-3.4-1.5-1 0-.6-.5-1 0-52-18.8-11.4-3.3-16.6-4-8-3-9.4-5.4-8.3-7.2-8.4-10.6-2.6-4.4-2.2-5-1.6-8-.3-9.6 1.4-18.4 1.4-6.6 2.2-6.4 5.6-10.6 5.1-6.4 3.7-4 5.1-4.6 10.9-7.7 11-5.6 8.4-3.4 31-11.2 34.6-11.1 .4-.6 2.6-.5 1.4-.9 1 0 2-1 .5 0 0 1 1.1 .1 2-1 2.4-.4 1.6-1 1 0 2-1 2.4-.4 3-1.4 5.6-1.4 2-1 .5 .1 0 1 1.5 .1 1.4-1 2.6-.4 3.4-1.5 1 .1 .6-.5 2.4-.5 1.6-1 1 .1 .4-.5 2.6-.5 .4-.5 .2 1.5 .8 .1 3.6-1.5 2.4-.3 3.6-1.5 1 .1 .4-.5 4-1 .6-.5 .4 .1 0 1.6 .6 0 .4-.5 5.6-1.4 3.4-1.5 2.6-.3 .4-.5 1 0 3.6-1.5 1 .1 .4-.5 1 0 3.6-1.5 .5 0 0 1.6 1.5 .1 .4-.5 5.6-1.4 .4-.5 4-1 .6-.5 1 .1 .4-.5 2.6-.5 .4-.5 3-.4 .6-.5 1 0 .4-.5 1 0 3.6-1.5 0 2.1 1 .1 .4-.5 5.6-1.5 .4-.5 1 .1 2-1 1.6 0 3.4-1.5 1 .1 .6-.5 1 0 2-1 2.4-.5 .6-.5 1.4 .1 .6-.5 2.4-.5 3.6-1.5 .3 0 0 2 1.1 .1 .6-.5 3-.5 3.4-1.5 1 .1 2-1 1.6 0 .4-.5 4-1 .6-.5 3-.3 2-1 4-1 .4-.5 1 .1 0 2.6 .6-.5 1 0 3.4-1.5 1.6 0 2-1 1 .2 2-1 1.4 0 .6-.5 1 0 3.4-1.5 3-.3 .6-.5 1 0 2-1 1.4 0 3.6-1.5 .5 .1 0 2.4 .9 .3 .6-.5 3-.5 3.4-1.5 1.6 0 3.4-1.5 .5 .3 0 2.4 1.5 .1 .6-.5 1 0 2-1 1.4 0 2-1 1.6 0 .4-.5 1 .3 2-1 1.6 0 2-1 1.4 0 3.6-1.5 1.1 .1 0 2.6 1.3 .2 2-1 1.6 0 .4-.5 3-.5 .6-.5 3-.5 .4-.5 1.3 .3 0 2.4 1.3 .3 .4-.5 1.6 0 2-1 1.4 0 .6-.5 3-.5 .4-.5 1.6 0 .4-.5 1.3 .2 .3 2.9 1.4 0 2-1 3.6-.5 .4-.5 3-.5 .6-.5 1.4 0 2-1 .7 .1 0 3 .3 .4 1 0 2-1 1.6 0 .4-.5 1.6 0 .4-.5 1.6 0 2-1 3.4-.5 .6-.5 1.7 .2 .3 1 4-.3 0 288.3-4.2 0-.4 2z"/>
<path fill="#ffe700" d="M586.8 339.8l-2-1-1.6 0-.4-.5-1.6 0-.4-.5-1.6 0-.4-.5-1.6 0-.4-.5-1.6 0-2-1-1.4 0-.4 .4-.2 2.7-1.4 0-.6-.5-1.4 0-2-1-5.6-1-2-1-.7 .4-.3 3.2-.4-.5-3.6-.5-2-1-3.4-.5-2-1-1.7 .3-.3 2.8-1-.5-1.6 0-2-1-1.4 0-2-1-1.6 0-2-1-.4 3.4-2-1-1.6 0-2-1-1.4 0-2-1-1.6 0-.4-.5-.4 .2 0 2.6-1.2 .1-.4-.5-1.6 0-3.4-1.5-1.6 0-.4-.5-3-.5-.6-.5-.9 .4-.1 2.5-.4-.5-1.6 0-3.4-1.5-1.6 0-2-1-3-.2-3.4-1.5-1.6 0-3.4-1.5-.4 .1 0 2.6-.6 0-.6-.5-3-.5-.4-.5-4-1-.6-.5-1.4 .2-3.6-1.5-1 0-.4-.5-1.6 0-2-1-1 .2-.4-.5-1.6 0-2-1-2.4-.5-.6-.5-1 .1 0 2-1 .1-3.4-1.5-1.6 0-2-1-2.4-.4-2-1-1.6 0-.4-.5-4-.8-3.6-1.5-1.4 0-.6-.5-.8 .1-.2 2-.4-.5-2.6-.5-.4-.5-1.6 0-2-1-1 .1-.4-.5-1 0-.6-.5-2.4-.5-2-1-3-.4-3.6-1.5-7-2-.4-.5-1.6 .1-.4-.5-2.6-.5-2-1-1 .1-.4-.5-2.6-.5-2-1-1.4 0-.6-.5-2.4-.5-2-1-.8 .1 0 1.4-.8 .1-.4-.5-1.6 0-3.4-1.5-1 .1-.6-.5-1 0-3.4-1.5-4-1-.6-.5-2.4-.4-3.6-1.5-1 0-3.4-1.5-1.6 0-3.4-1.4-1 0-.6-.5-1 .1-3.4-1.5-4-1-.6-.5-1.4 .1 0 1-1 0-3.6-1.5-1 0-3.4-1.5-1 .1-2-1-1 0-3.6-1.5-1 0-3.4-1.5-1 0-.6-.5-1 0-.4-.5-1 0-.6-.5-1 .1-2-1-2.4-.5-.6-.5-5.4-1.5-2-1-1 0-.6-.5-52-19-11.4-3.4-16.6-4-7.4-2.7-9-5.1-8-6.9-8.2-10.2-2.2-4-2.1-5-1.5-8 0-8.4 .9-7.6 .5-11.4 1.1-6 2.2-7 5.7-10.8 7.6-8.8 9.8-8 5.6-3.6 7-3.7 12-5.2 38-13.8 27.6-8.8 1-.9 1 0 .4-.5 1.4 .1 .2 1 3.4-1.5 1 0 1.6-1 2.4-.4 2-1 1 .1 3.6-1.5 1 .1 1.4-1 2.6-.4 3.4-1.5 .5 .1 .1 1.5 .4-.5 1 0 2-1 1 .1 3.6-1.5 1 .1 3.4-1.5 1 .1 1.6-1 2.4-.5 .6-.5 1 .1 3.4-1.5 .2 1.5 .8 .1 3.6-1.5 2.4-.3 3.6-1.5 1 .1 .4-.5 1 0 3.6-1.5 1 .1 3.4-1.5 1.1 .1 0 1.4 .5 .2 .4-.5 1 0 3.6-1.5 1 .1 3.4-1.5 3-.3 3.6-1.5 1 0 .4-.5 1.4 .1 0 1.4 .6 .1 .6-.5 1 0 3.4-1.5 1 .1 .6-.5 1 0 3.4-1.5 1.6 .1 .4-.5 1 0 3.6-1.5 5.4-1.4 .6-.5 3-.4 .4-.5 1 0 .6-.5 1 0 3.4-1.5 .6 .1 0 2 .4 0 .6-.5 1.4 0 .6-.5 1 0 3.4-1.5 3-.3 3.6-1.5 2.4-.4 2-1 1.6 0 2-1 4-.9 .4-.5 1.6 0 3.4-1.5 .8 0 0 2 1.2 .1 .6-.5 4-1 .4-.5 1.6 0 .4-.5 1 .2 2-1 1.6 0 .4-.5 1 0 3.6-1.5 1.4 .1 .6-.5 1 0 3.4-1.5 3-.5 .6-.5 .7 .1 .3 2.6 3.4-1.5 1.6 0 3.4-1.5 3-.2 .6-.5 3-.5 3.4-1.5 1.6 0 .4-.5 .3 2.6 .7 .2 .6-.5 1.4 0 2-1 1.6 0 3.4-1.5 5-.7 .6-.5 1 0 2-1 1.4 0 2-1 1.6 0 .4-.5 .6 .1 0 2.4 1.4 .3 2-1 1.6 0 3.4-1.5 3-.5 .6-.5 .2 3.2 .8 .2 2-1 1.4 0 2-1 1.6 0 2-1 1.4 0 .6-.5 1.8 .3 0 2.6 .6 .2 .6-.5 3.4-.5 2-1 3.6-.5 2-1 1.4 0 .3 2.7 .3 .4 1.4 0 2-1 5.6-1 2-1 1.4 0 .6-.5 1.4 0 .6-.5 .4 6.6 1.6 .1 .4-.5 1.6 0 .4-.5 1.6 0 .4-.5 1.6 0 .4-.5 1.6 0 .4-.5 1.6 0 .4-.5 1.6 0 .4-.5 1.6 0 1-1.4 4 0 0 278.7-4 .2-.6-.6-1.4 0-.6-.5-1.4 0-.6-.5-1.4 0-.6-.5-1.4 0-.6-.5-1.4 0-.6-.5-5.4-1-.6-.5-.4 7.1z"/>
<path fill="#ffe300" d="M571.2 335.4l-1.4 0-.6-.5-1.4 0-.6-.5-5.4-1-.6-.5-3-.5-.4-.5-.6 3.6-1-.5-1.4 0-.6-.5-1.4 0-2-1-1.6 0-.4-.5-1.6 0-.4-.5-1.6 0-.4-.5-.7 .2-.3 2.9-1.6 0-2-1-1.4 0-2-1-1.6 0-.4-.5-1.6 0-.4-.5-.7 .1 0 2.6-.3 .2-3-.5-.6-.5-3-.5-.4-.5-3-.5-.6-.5-.7 .2 0 2.6-.7 .1-.6-.5-1.4 0-2-1-3-.5-.6-.5-1.4 0-2-1-1.5 .4-.1 2.5-.4-.5-1.6 0-3.4-1.5-1.6 0-2-1-1.4 .3-2-1-3-.5-.6-.5-3-.5-.4-.5-1.3 .2 0 2-1.3 .1-3.4-1.5-1.6 0-2-1-3-.3-.4-.5-1 0-2-1-1.6 0-2-1-1.3 .2 0 2-.7 0-.4-.5-1.6 0-.4-.5-1 0-3.6-1.5-1.4 .2-.6-.5-4-1-.4-.5-1.6 0-2-1-1 .1-2-1-1.4 0-3.6-1.5-.4 .1 0 2-1 .1-.6-.5-1 0-2-1-1.4 0-.6-.5-1 .1-2-1-2.4-.5-.6-.5-3-.4-.4-.5-4-1-.6-.5-1.4 0-.6-.5-1 .1-.4-.5-2.6-.5-2-1-3-.5-.4-.5-2.6-.5-2-1-3-.4-3.4-1.5-.5 0-.1 2.1-.4-.5-2.6-.5-2-1-1.4 0-.6-.5-2.4-.5-2-1-1 .1-.6-.5-4-1-.4-.5-1.6 0-.4-.5-1 0-3.6-1.5-1 .1-.4-.5-1 0-3.6-1.5-1.4 0-.6-.5-1 0-2-1-1 .1-.4-.5-4-1-.6-.5-2.4-.4-.6-.5-3-.5-.4-.5-4-1-3.6-1.5-1 .1 0 1-1.4 0-.6-.5-1 0-2-1-1 .1-3.4-1.5-1.6 0-.4-.5-2.6-.5-3.4-1.5-1 .1-.6-.5-4-1-.4-.5-1 0-.6-.5-1 0-3.4-1.5-2.6-.5-.4-.5-1 0-.6-.5-1.4 0-3.6-1.5-1 0-.4-.5-52.6-19.6-11-3.4-16.4-4-7-2.5-8.8-4.7-7.8-6.7-7.9-9.9-2.2-4-1.9-4.4-.8-4-.5-6 .3-6 1.2-7.6 0-10 .9-6.4 2.3-8 5.3-10 7.3-8.4 9.6-7.5 5.9-3.7 6.5-3.4 12-5.1 37.6-13.9 23-7.6 4-1.1 1.4 .2 .6-.5 7-1.9 2-1 1 .1 2-1 2.4-.5 1.6-1 2.4-.4 2-1 1 .1 3.6-1.5 .7 .1 0 1 1.3 0 .4-.5 2.6-.4 3.4-1.5 1 .1 3.6-1.5 2.4-.4 3.6-1.5 1 .1 3.4-1.5 .3 1.5 .7 .1 3.6-1.5 3-.4 3.4-1.5 1 .2 3.6-1.5 2.4-.4 3.6-1.5 .7 .1 0 1.4 .7 .1 .6-.5 2.4-.5 2-1 1.6 .2 .4-.5 1 0 3.6-1.5 1 .1 .4-.5 1 0 3.6-1.5 1.4 .1 .6-.5 1 0 3.4-1.5 .2 2.1 .4 0 .4-.5 2.6-.5 .4-.5 1.6 0 .4-.5 1 .1 .6-.5 1 0 3.4-1.5 3-.4 2-1 2.6-.5 .4-.5 3-.4 .6-.5 4-1 .4-.5 3-.4 .6-.5 1 0 3.4-1.5 .1 2.1 1.5 0 3.4-1.5 3-.4 3.6-1.5 1.4 0 .6-.5 2.4-.3 2-1 1.6 0 .4-.5 4-1 .6-.5 1.4 .1 .6-.5 1 0 3.4-1.5 1.6 0 .4-.5 .7 0 0 2 1.3 .1 .6-.5 3-.5 3.4-1.5 1.6 0 3-.8 .4-.5 1.6 0 3.4-1.5 1.6 .2 3.4-1.5 1.6 0 3.4-1.5 1.6 0 0 2 1.4 .3 .6-.5 3-.5 .4-.5 1 0 2-1 1.6 0 .4-.5 .5 .3 0 2.4 1.1 .1 2-1 1.4 0 .6-.5 3-.5 .4-.5 3-.5 .6-.5 1 .3 .4-.5 1.6 0 2-1 1.4 0 2-1 1.6 0 2-1 .4 3.4 2-1 1.6 0 .4-.5 3-.5 .6-.5 3-.5 .4-.5 .9 .3 0 2.4 1.7 .2 2-1 3.4-.5 2-1 3.6-.5 .4-.5 .6 3.6 2-.5 .4-.5 5.6-1 2-1 1.4 0 .6-.5 1.4 0 .3 2.8 .3 .4 1.4 0 2-1 1.6 0 .4-.5 5.6-1 .4-.5 1.6 0 2-1 .4 7.2 .6-.5 1.4 0 .6-.5 1.4 0 .6-.5 1.4 0 .6-.5 1.4 0 .6-.5 1.4 0 .6-.5 1.4 0 .6-.5 1.4 0 .6-.5 6 .1 0 268.8-5 .7-.6-.5-4-.5-.4-.5-1.6 0-.4-.5-1.6 0-.4-.5-1.6 0-.4-.5-1.6 0-.4-.5-1.6 0-1-.5-.1 3.2-.3 .5-1 0-.6-.5-1.4 0-.6-.5-1.4 0-.6-.5-1.4 0-.6-.5-1.4 0-.6-.5-1.4 0-.6-.5-2 0-.4-.5-1 0-.6 6.2z"/>
<path fill="#ffdf00" d="M571.2 331.9l-1.4 0-.6-.5-1.4 0-.6-.5-1.4 0-.6-.5-1.4 0-.6-.5-5.4-1-.3 2.9-1.3 .2-.4-.5-5.6-1-2-1-3.4-.5-.6-.5-.4 3.6-.6-.5-5.4-1-.6-.5-3-.5-.4-.5-1.7 .1 0 2.6-.3 .3-.6-.5-1.4 0-.6-.5-1.4 0-2-1-1.6 0-.4-.5-3-.5-.6 2.8-.4-.5-3.6-.5-2-1-1.4 0-2-1-1.6 0-.4-.5-1.4 .4-.2 2.6-2-1-1.4 0-2-1-1.6 0-2-1-1.4 .3-2-1-1.6 0-2-1-1.4 0-2-1-1.2 .1 0 2-1.4 .2-.4-.5-1.6 0-2-1-3-.5-.4-.5-1 .2-.6-.5-3-.5-.4-.5-1.6 0-3.4-1.5-.7 .1 0 2-1.9 .1-.4-.5-1 0-2-1-1.6 0-2-1-1 .2-.4-.5-1.6 0-2-1-1 0-.4-.5-3-.4-2-1-1.6 0-3.4-1.5-.7 .1 0 2-.9 .1-.4-.5-1.6 0-3.4-1.5-3-.5-.6-.5-2.4-.5-2-1-1.6 .1-3.4-1.5-1.6 0-.4-.5-2.6-.4-2-1-1.4 0-.6-.5-2.4-.4-2-1-1.6 0-2-1-1.3 0 0 1.6-2.7-.5-3.4-1.5-1 0-2-1-1.6 0-.4-.5-5.6-1.4-.4-.5-1.6 0-3.4-1.5-1 0-.6-.5-1 0-.4-.5-3-.4-.6-.5-4-1-2-1-1.4 0-.6-.5-1 .1-.4-.5-2.6-.5-.4-.5-3-.4-.6-.5-2.4-.5-.6-.5-1 0-2-1-2.7-.4 0 1.4-.3 .1-.4-.5-4-1-3.6-1.5-3-.4-.4-.5-8.6-2.5-2-1-1.4 0-3.6-1.5-1 .1-3.4-1.5-2.6-.5-.4-.5-1.6 0-.4-.5-2.6-.5-.4-.5-2.6-.5-2-1-2.4-.5-.6-.6-3-.5-.4-.5-52.6-20-9.4-3.1-16-3.9-7.6-2.6-8-4.3-7.4-6.3-7.8-9.5-2.2-4-1.5-4-.8-3.4-.3-5.6 .5-6 1.4-8-.2-11.4 1.4-8.6 1.6-5 4.5-8.4 6.8-7.7 9.7-7.3 12.3-6.9 12-5.2 36.6-13.7 22.4-7.6 4.6-1.3 .4 .3 .6-.5 4-1 2-1 1 .1 .4-.5 4-1 2-1 1 .1 3.6-1.5 1 .1 2-1 2.4-.5 2-1 1.1 .1 0 1 .9 0 2-1 1.6 .1 .4-.5 1 0 2-1 1 .1 3.6-1.5 2.4-.4 3.6-1.5 1 .1 3.4-1.5 .3 1.5 .7 .1 .6-.5 1.4 0 2-1 1 .1 .6-.5 1 0 3.4-1.5 1 .1 3.6-1.5 1.4 .2 .6-.5 2.4-.5 2-1 .4 .1 0 1.4 1.2 .1 2-1 3-.4 .4-.5 1 0 3.6-1.5 3-.4 3.4-1.5 2.6-.4 .4-.5 1.6 0 .4-.5 2.6-.4 .4-.5 1 0 2-1 1.6 0 .4-.5 .6 0 0 1.6 1.4 0 2-1 1.6 0 2-1 1 .1 2-1 1.4 0 .6-.5 2.4-.4 2-1 1.6 0 3.4-1.5 1.6 .1 .4-.5 1 0 3.6-1.5 3-.4 .4-.5 1 0 2-1 1.6 0 .4-.5 .6 0 0 2 1 .1 3.4-1.5 1.6 0 .4-.5 2.6-.3 .4-.5 1.6 0 3.4-1.5 1.6 0 .4-.5 1 .1 2-1 1.6 0 3.4-1.5 3-.4 2-1 1.6 0 3.4-1.5 1.6 0 0 2 1 .2 2-1 3-.5 .4-.5 1.6 0 .4-.5 2.6-.3 .4-.5 1.6 0 2-1 1.4 0 3.6-1.5 .2 2.6 1.2 .2 2-1 1.6 0 2-1 3-.5 .4-.5 1.6 .3 2-1 1.4 0 .6-.5 3-.5 .4-.5 3-.5 .6-.5 .5 0 0 2.6 .9 .2 .6-.5 1.4 0 2-1 1.6 0 2-1 3-.5 .2 2.8 .8 .1 .4-.5 3.6-.5 2-1 1.4 0 2-1 1.6 0 .3 .3 0 2.6 .7 .1 .4-.5 3.6-.5 .4-.5 1.6 0 2-1 1.4 0 .6-.5 1.4 0 1-.5 .6 3.6 .4-.5 1.6 0 2-1 1.4 0 .6-.5 1.4 0 .6-.5 3.4-.5 .6-.5 1.4 0 .6 6.3 1 0 .4-.5 2 0 .6-.5 1.4 0 .6-.5 1.4 0 .6-.5 5.4-1 .6-.5 1 0 .3 .5 .1 3.3 1-.5 1.6 0 .4-.5 1.6 0 .4-.5 1.6 0 .4-.5 1.6 0 .4-.5 1.6 0 .4-.5 4-.5 .6-.5 .7 .1 .3 1.2 4 .5 0 258.3-4 .6-.6 1.6-.4-.5-3.6-.5-.4-.5-2 0-.6-.5-1.4 0-.6-.5-1.4 0-.6-.5-1.4 0-.6-.5-2 0-1-.5-.2 3.4-.2 .3-1 0-.6-.5-1.4 0-.6-.5-1.4 0-.6-.5-1.4 0-.6-.5-1.4 0-.6-.5-1.4 0-.6-.5-2 0-.4-.5-1 0-.6 6.3z"/>
<path fill="#ffda00" d="M571.2 328.8l-.4-.5-1.6 0-.4-.5-1.6 0-.4-.5-1.6 0-.4-.5-5.6-1-.4-.5-1 0-.4 .5-.2 2.7-1.4 0-.6-.5-1.4 0-.6-.5-3.4-.5-.6-.5-1.4 0-.6-.5-1.4 0-.6-.5-1.1 .3-.3 2.8-3-.5-.6-.5-1.4 0-.6-.5-3-.5-.4-.5-1.6 0-.4-.5-.7 .2 0 2.4-.3 .4-1.6 0-2-1-5.4-1-2-1-.6 2.9-3.4-.5-2-1-3.6-.5-2-1-1.8 .3-.2 2.1-1.4 0-.6-.5-3-.5-.4-.5-1.6 0-2-1-1.4 .3-2-1-3.6-.5-.4-.5-3-.5-.6-.5-.5 .1 0 2.4-.5 .3-2-1-1.4 0-2-1-1.6 0-2-1-1.4 .2-.6-.5-1 0-2-1-1.4 0-2-1-1.6 0 0 2-1 .3-2-1-1.4 0-2-1-1.6 0-.4-.5-1 .1-.6-.5-3-.5-2-1-1.4 0-.6-.5-1.3 .2-.1 2-2-1-1.6 0-2-1-1 0-.4-.5-1.6 .1-3.4-1.5-1.6 0-.4-.5-2.6-.4-.4-.5-1.6 0-3.4-1.5-1.6 .1-3.4-1.5-1.6 0-2-1-3-.4-3.4-1.5-.8 .1-.2 2-2-1-1.6 0-.4-.5-4-1-.6-.5-1.4 0-.6-.5-4-.9-.4-.5-1.6 0-.4-.5-2.6-.4-2-1-1.4 0-.6-.5-2.4-.5-2-1-1.6 0-3.4-1.4-1.6 0-.4-.5-4-1-.6-.5-1.4 0-.6-.5-2.4-.4-2-1-1.6 0-.4-.5-2.6-.5-2-1-1.4 0-.7-.5 0 1.6-.9 0-.4-.5-3-.5-.6-.5-1 0-.4-.5-4-1-2-1-3-.4-.6-.5-1 0-3.4-1.5-1.6 0-2-1-4-.9-.4-.5-1.6 0-.4-.5-4-1-2-1-1.6 0-2-1-2.4-.5-3.6-1.5-1.4 0-.6-.5-4-1-2-1.1-1.4 0-1-.7-19.6-7.3-34.4-13.8-7.6-2.5-16-4-7-2.4-8-4.2-7-5.8-7.4-9-1.9-3.4-1.5-4-.7-3.6-.2-5 .7-5.4 1.7-8-.4-14 1.2-7.6 1.6-4.4 4.1-7.6 3.4-3.9 3.4-3.3 10.6-7.3 15.4-7.9 37.6-14.9 21.4-7.5 11.6-3.4 .4-.5 1 0 3.6-1.5 1.4 0 3.6-1.5 1 .1 .4-.5 4-.9 2-1 1 0 3.6-1.5 .4 1.6 3.6-1.5 1.4 .1 .6-.5 8.4-2.4 2-1 1.6 0 2-.9 1 0 .4-.5 1 0 .6-.5 1 .1 3.4-1.5 .2 1.5 .8 .1 .6-.5 1.4 0 2-1 1 .1 3.6-1.5 3-.4 3.4-1.5 3-.4 2-1 1.5 .1 .1 1.6 3.4-1.5 3-.4 2-1 1.6 0 2-1 1 .1 2-1 1.4 0 2-1 1 .1 2-1 1.6 0 .4-.5 2.6-.4 2-1 1.4 0 .6-.5 1.4 .1 0 1.4 .6 .1 .4-.5 1.6 0 3.4-1.5 1.6 .1 3.4-1.5 3-.4 2-1 1.6 0 3.4-1.5 1.6 0 3.4-1.5 1.6 0 .4-.5 2.6-.4 .4-.5 1.6 0 3.4-1.5 1.6 .1 .4-.5 1 0 2-1 1.6 0 2-1 0 2 1.4 .2 .6-.5 1.4 0 2-1 1.6 0 2-1 1 .1 .4-.5 1.6 0 2-1 1.4 0 2-1 1.6 .1 .4-.5 1 0 2-1 1.6 0 2-1 1.4 0 .6-.5 .4 2.7 .6-.5 3-.5 2-1 1.4 0 2-1 1.6 .2 .4-.5 3-.5 2-1 1.6 0 2-1 .4 .3 0 2.4 1 .1 .6-.5 3-.5 2-1 7-1.2 2-1 1.4 0 2-1 3.6-.5 .4-.5 .2 2.7 .4 .2 3-.5 .4-.5 1.6 0 2-1 3.4-.5 .6-.5 .3 .2 0 2.6 1.7 .1 .4-.5 1.6 0 2-1 1.4 0 .6-.5 1.4 0 .6-.5 1.4 0 .6-.5 .3 .3 .1 3.2 .6-.5 3.4-.5 2-1 1.6 0 .4-.5 1.6 0 .4-.5 1.6 0 .4-.5 1.3 .3 .3 2.8 1.4 0 .6-.5 1.4 0 .6-.5 1.4 0 .6-.5 1.4 0 .6-.5 3.4-.5 .6-.5 1.4 0 .6 6.4 1 0 .4-.5 2 0 .6-.5 1.4 0 .6-.5 1.4 0 .6-.5 1.4 0 .6-.5 1.4 0 .6-.5 3-.5 .4 6.9 1 0 .6-.5 2 0 .4-.5 1.6 0 .4-.5 1.6 0 .4-.5 2 0 .6-.5 1.4 0 .6-.5 2 0 2-.8 4 .7 0 247.2-4 .7-1.6-.9-1.4 0-.6-.5-2 0-.4-.5-1.6 0-.4-.5-2 0-.6-.5-1.4 0-.6-.5-4-.5-.4 6.8-1-.5-1.6 0-.4-.5-4-.5-.6-.5-1.4 0-.6-.5-1.4 0-.6-.5-2 0-.4-.5-1 0-.6 6.8z"/>
<path fill="#ffd600" d="M571.2 325.3l-.4-.5-1.6 0-.4-.5-1.6 0-.4-.5-1.6 0-.4-.5-4-.5-.6-.5-1.4 0-1-.5-.6 3.7-.4-.5-1.6 0-.4-.5-1.6 0-.4-.5-1.6 0-.4-.5-1.6 0-.4-.5-1.6 0-.4-.5-1.6 0-.4-.5-.8 .2-.2 3.4-.6-.5-5.4-1-.6-.5-3-.5-.4-.5-1.7 .2 0 2.4-.3 .4-1-.5-1.6 0-.4-.5-1.6 0-.4-.5-1.6 0-.4-.5-3-.5-.6-.5-.7 .2-.3 2.7-3-.5-.4-.5-1.6 0-.4-.5-3-.5-.6-.5-1.4 0-.6-.5-1.7 .3-.3 2.1-1.4 0-2-1-1.6 0-.4-.5-1.6 0-.4-.5-2.6-.5-.4 .4 0 2.5-2-1-3.6-.5-2-1-1.4 0-.6-.5-1 .3-.4-.5-1.6 0-2-1-3.4-.5-.6-.5-1.3 .1 0 2-1.1 .1-3.6-1.5-1.4 0-2-1-3-.3-.6-.5-1.4 0-2-1-3-.5-.6-.5-1.4 .2-.6-.5-3-.5-.4-.5-3-.5-.6-.5-.1 2.1-1.3 .1-.6-.5-3-.5-.4-.5-3-.4-2-1-1.6 0-2-1-3-.4-2-1-1.4 0-2-1-1.6 .1-.4-.5-1 0-2-1-1.6 0-2-1-.2 0 0 2-.8 .1-.4-.5-1.6 0-3.4-1.5-1.6 .1-3.4-1.5-3-.5-2-1-1.6 0-3.4-1.4-1.6 0-3.4-1.5-1.6 0-3.4-1.5-1.6 0-3.4-1.4-1.6 0-.4-.5-2.6-.5-.4-.5-1.6 0-3.4-1.4-1.6 0-3.4-1.5-1.6 0-3.4-1.5-.1 1.5-1.5 .1-2-1-1.4 0-.6-.5-1 0-3.4-1.5-1.6 .1-.4-.5-4-1-.6-.5-1.4 0-.6-.5-2.4-.5-2-1-1.6 0-3.4-1.4-1.6 0-.4-.5-4-1-.6-.5-1.4 0-2-1-2.6-.5-.4-.5-1.6 0-.4-.5-4-1-.6-.5-1.4 0-5-2-1.6-.1-.4-.5-5.6-1.5-.4-.5-19-7.2-34.6-14.2-7-2.4-15-3.9-8-2.7-7.4-3.8-7-5.6-7.1-8.4-3-6.4-.7-4-.1-5 2.9-13.6-.8-13.4 .9-7 1.5-5 3.8-6.8 6.2-6.2 11.4-7.5 15-7.5 37-15 31-10.7 .4-.5 3-.5 .6-.5 1 0 .4-.5 2.6-.5 2-1 2.4-.4 2-1 1.6 0 2-1 1.2 0 0 1 .8 .1 .4-.5 4-.9 2-1 1.6 0 .4-.5 1 0 2-1 1 .1 2-1 1.6 0 3.4-1.4 1 0 .6-.5 1 0 .4-.5 1.6 0 2-1 1 .1 3.4-1.5 .1 1.5 1.5 .1 3.4-1.5 3-.4 2-1 2.6-.4 .4-.5 1.6 0 2-1 1 .1 2-1 3-.4 3.4-1.5 1.6 0 .6-.5 0 1.6 1.4 0 .4-.5 1.6 0 2-1 3-.4 3.4-1.5 1.6 .1 3.4-1.5 1.6 0 .4-.5 1 .1 2-1 1.6 0 2-1 3-.4 3.4-1.5 .9 .1 .1 2 2-1 1.6 0 2-1 1.4 .1 .6-.5 3-.5 3.4-1.5 1.6 .1 2-1 1.4 0 2-1 3-.5 2-1 1.6 0 2-1 3-.3 2-1 1.4 0 .6-.5 1.4 0 0 2.1 .6-.5 1.4 0 .6-.5 3-.5 2-1 1.4 .1 .6-.5 3-.5 2-1 1.4 0 .6-.5 4.4-.8 .6-.5 1.4 0 3.6-1.5 1.4 .1 2-1 1.6 0 2-1 1.4 0 2-1 .1 2.5 .9 .3 .6-.5 1.4 0 2-1 3.6-.5 2-1 1.4 .2 2-1 1.6 0 .4-.5 3-.5 .6-.5 1.4 0 .1 2 1.9 .4 2-1 1.6 0 .4-.5 3-.5 .6-.5 3.4-.5 .6 2.8 2-1 1.4 0 .6-.5 3.4-.5 2-1 1.6 0 .3 .4 0 2.4 .7 .1 .4-.5 3.6-.5 2-1 1.4 0 .6-.5 3-.5 .3 .5 0 2.4 1.1 .2 .6-.5 3.4-.5 .6-.5 1.4 0 .6-.5 5.4-1 .3 2.8 .3 .4 1 0 .4-.5 1.6 0 .4-.5 1.6 0 .4-.5 1.6 0 .4-.5 1.6 0 .4-.5 1.6 0 .4-.5 1.6 0 .4-.5 .6 7 1 0 .4-.5 2 0 .6-.5 1.4 0 .6-.5 1.4 0 .6-.5 4-.5 .4-.5 1.6 0 1-.5 .4 7 4-.5 .6-.5 4-.5 .4-.5 4-.5 .6-.5 1.4 0 1-.5 .6 1.9 4 .7 0 235.5-4 .9-.6 .9-2 0-.4-.5-1.6 0-.4-.5-2 0-.6-.5-4-.5-.4-.5-4.6-.5-.4 6.9-.6-.5-2 0-.4-.5-1.6 0-.4-.5-2 0-.6-.5-1.4 0-.6-.5-5.4-1-.6 6.9z"/>
<path fill="#ffd200" d="M520.2 322.5l-1-.5-1.4 0-.6-.5-1.4 0-.6-.5-1.4 0-.6-.5-3-.5-.4-.5-1.6 0-.4-.5-.6 3-10-2.5-.4 .3 0 2.5-.6-.5-3-.5-.4-.5-3.6-.5-2-1-1.4 .3-.6-.5-1.4 0-2-1-3.6-.5-.4-.5-.9 .1 0 2-1.7 .1-2-1-1.4 0-2-1-1.6 0-.4-.5-1 .3-.6-.5-1.4 0-.6-.5-1.4 0-.6-.5-3-.5-.4-.5-1 .2 0 2-1 0-.6-.5-3-.5-2-1-3-.4-.4-.5-3-.5-.6-.5-5-.9-2-1-1.4 0-2-1-1.6 .2-2-1-1.4 0-2-1-1 0 0 2-.6 .1-3.4-1.5-1.6 0-2-1-1.4 0-2-1-1.6 0-3.4-1.4-1.6 0-2-1-1.4 0-.6-.5-1 .1-2-1-1.4 0-2-1-1.6 0-3.4-1.5-1.6 .1-2-1-1.4 0-2-1-3-.5-2-1-1.6 0-3.4-1.4-1.6 0-2-1-1.4 0-2-1-1.7 .1 0 1-1.9 0-3.4-1.5-1.6 0-3.4-1.5-1.6 .1-3.4-1.5-1.6 0-3.4-1.5-1.6 0-3.4-1.5-1.6 .1-3.4-1.5-1.6 0-3.4-1.5-1.6 0-3.4-1.5-1.6 0-3.4-1.5-1.6 0-3.4-1.5-1.6 0-3.4-1.5-1.6-.1-3.4-1.5-1.6 0-3.4-1.5-1.6 0-.4-.9-18.6-7-34.4-14.7-7-2.5-17-4.7-8.6-3.2-6.4-3.8-7-6.3-4.6-5.8-2.3-5.7-.5-4 .1-4 3.2-13-1.2-11.6 .1-4.4 .8-6 1.8-5 3.1-5 4.5-4.6 7-4.8 11-6 9.4-4.6 27.6-11.6 22-8.3 17-5.7 1-1 1.4 0 .6-.5 5.4-1.5 .6-.5 1.4 0 .6-.5 .1 1 3.3-.4 3.6-1.5 3-.4 .4-.5 2.6-.5 2-1 1.4 0 3.6-1.4 3-.4 2-1 3-.5 2-1 2.4-.4 .6-.5 1.4 0 .6-.5 .3 0 0 1.6 .7 0 3.4-1.5 1.6 .1 3.4-1.5 1.6 0 3.4-1.5 1.6 .1 3.4-1.5 3-.4 2-1 1.6 0 .4-.5 1 .1 .6-.5 3-.5 .4-.5 1.2 .1 0 1.4 .8-.4 1.6 0 2-1 3-.4 .4-.5 3-.5 2-1 1.6 .1 3.4-1.5 1.6 .1 2-1 1.4 0 .6-.5 2.4-.5 .6-.5 1.4 0 2-1 3-.4 .6-.5 3-.5 2-1 1.1 0 0 1.6 1.9 0 2-1 1.4 0 2-1 1.6 .1 2-1 3-.5 .4-.5 1.6 .1 2-1 1.4 0 2-1 5-.9 2-1 5-.9 2-1 3-.5 .6-.5 1.2 0 0 2 .8 .1 .4-.5 1.6 0 2-1 1.4 0 .6-.5 1.4 0 .6-.5 3-.3 2-1 1.4 0 2-1 1.6 0 1.4-.3 .6-.5 1.4 0 .6-.5 1.4 0 2-1 1.6 0 .4-.5 .2 2.5 .8 .2 2-1 3.6-.5 2-1 1.4 0 .6-.5 1.4 .3 2-1 1.6 0 .4-.5 3-.5 .6-.5 1.4 0 .2 2 1.8 .3 .6-.5 1.4 0 .6-.5 1.4 0 2-1 1.6 0 .4-.5 3-.5 .4 .3 0 2.4 .6 .2 .6-.5 1.4 0 2-1 1.6 0 .4-.5 1.6 0 .4-.5 1.6 0 1-.5 .4 .4 0 2.4 1.6 .1 .4-.5 1.6 0 2-1 1.4 0 .6-.5 1.4 0 .6-.5 1.4 0 .6-.5 .3 .5 0 3 .7 .2 .4-.5 1.6 0 .4-.5 1.6 0 .4-.5 1.6 0 .4-.5 1.6 0 .4-.5 1.6 0 .4-.5 1.6 0 .4-.5 .2 3.3 .8 .4 .6-.5 4-.5 .4-.5 1.6 0 .4-.5 1.6 0 .4-.5 1.6 0 .4-.5 1.6 0 .4-.5 .6 10.1 1 0 .4-.5 2 0 .6-.5 1.4 0 .6-.5 2 0 .4-.5 1.6 0 .4-.5 2 0 .6-.5 1.4 0 .6-.5 .4 7.7 .6-.5 2 0 .4-.5 2 0 .6-.5 2 0 .4-.5 1.6 0 .4-.5 4.6-.5 .4-.5 1 0 .6 .8 4 .9 0 222.8-4 1.3-1-.6-2 0-.6-.5-2 0-.4-.5-2 0-.6-.5-2 0-.4-.5-2 0-.6-.5-2 0-1-.5-.4 10.6-.6-.5-1.4 0-.6-.5-2 0-.4-.5-1.6 0-.4-.5-2 0-.6-.5-1.4 0-.6-.5-2 0-.4-.5-1 0-.6 3.9-.4-.5-2 0-.6-.5-3.4-.5-.6-.5-2 0-.4-.5-1.6 0-.4-.5-2 0-.6 6.2-1-.5-1.4 0-.6-.5-1.4 0-.6-.5-1.4 0-.6-.5-2 0-.4-.5-1.6 0-.4-.5-1.6 0-.2 2.9-.8 .2-.4-.5-1.6 0-.4-.5-1.6 0-.4-.5-1.6 0-.4-.5-2 0-.6-.5-1.4 0-.6-.5-.4 3.1-1.6 0-.4-.5-1.6 0-.4-.5-1.6 0-.4-.5-1.6 0-.4-.5-3-.5-.6 2.9z"/>
<path fill="#ffce00" d="M520.2 319.5l-.4-.5-1.6 0-.4-.5-1.6 0-.4-.5-1.6 0-.4-.5-1.6 0-.4-.5-3.6-.5-.4-.5-.6 3-10-2.5-.4 .3 0 2.5-.6-.5-1.4 0-.6-.5-1.4 0-2-1-1.6 0-.4-.5-1.6 0-.4-.5-1.6 .3-2-1-3.4-.5-.6-.5-1.4 0-.6-.5-.4 2.8-.6-.5-1.4 0-2-1-3.6-.5-2-1-1.4 .2-.6-.5-1.4 0-.6-.5-3-.5-.4-.5-1.9 .1-.1 2.1-.6-.5-1.4 0-2-1-3.6-.5-.4-.5-1 .2-.6-.5-1.4 0-2-1-1.6 0-2-1-1.4 .1-.6-.5-1.4 0-2-1-5-.9-.6-.5-3-.5-.4-.5-.8 .1 0 2-.8 0-2-1-1.4 0-2-1-5-.9-2-1-3-.4-.6-.5-3-.5-2-1-1.4 0-2-1-1.6 0-2-.9-1.4 0-2-1-1.6 0-.4-.5-3-.5-2-1-1.6 0-2-.9-1.4 0-2-1-1.6 0-.4-.5-3-.5-2-1-.2 1.5-1.8 .1-2-1-1.6 0-3.4-1.5-1.6 0-2-.9-1.4 0-3.6-1.5-1.4 0-2-1-1.6 0-3.4-1.5-1.6 .1-2-1-1.4 0-3.6-1.5-1.4 0-2-1-1.6 0-3.4-1.5-1.6 0-2-1-1.4 0-2-1-1.6 0-3.4-1.5-1.6 0-2-1-3-.5-2-1.1-1.4 0-2-1-1.6 0-2-1.1-1 0-1.4-1.2-18-6.8-35-15.3-6.6-2.5-16.4-4.8-8.6-3.1-6-3.5-5.6-4.8-5-6-2.2-5-.5-4 .2-3.6 3.6-13-1.6-15 .6-7 1.5-4.4 3-5 4-3.9 7-4.6 10.6-5.5 9.4-4.7 27-11.7 12.6-5 16.4-5.9 9.6-3.1 2 0 3.4-1.5 1.6 0 3.4-1.5 1.6 0 3.4-1.5 1.6 0 3.4-1.4 1.6 0 3.4-1.5 3-.4 2-1 1.6 0 3.4-1.5 1.6 .1 3.4-1.5 1.6 0 3.4-1.5 .6 0 0 1.6 1 0 3.4-1.5 1.6 .1 2-1 1.4 0 .6-.5 1 .1 2-1 5-.9 .4-.5 1 0 2-.9 1.6 0 2-1 5-1 2-1 .6 .1 0 1.4 1.4 .1 2-1 5-.9 2-1 1.4 0 .6-.5 3-.4 2-1 5-1 2-1 1.4 .1 2-1 1.6 0 2-1 3-.4 .4-.5 3-.5 .6-.5 1.4 .1 0 1.4 1.6 .1 .4-.5 3-.5 2-1 3.6-.5 2-1 5-.9 .4-.5 3-.5 .6-.5 1.4 .1 2-1 1.6 0 2-1 1.4 0 2-.9 3.6-.5 .4-.5 3-.5 .6-.5 .3 .2 0 2 1.7 0 .4-.5 3-.5 .6-.5 1.4 0 .6-.5 1.4 .2 2-1 3.6-.5 2-1 7-1.4 .4-.5 3-.5 .6-.5 .7 .2 .3 2.6 .4-.5 3.6-.5 2-1 1.4 0 .6-.5 1.4 0 .6-.5 1.4 .2 2-1 1.6 0 .4-.5 1.6 0 .4-.5 1.6 0 .4-.5 1.2 .1 0 2.6 .4 .2 .4-.5 3.6-.5 2-1 1.4 0 .6-.5 3.4-.5 .6-.5 .8 .3 .2 2.6 3-.5 .4-.5 1.6 0 .4-.5 1.6 0 .4-.5 1.6 0 .4-.5 1.6 0 .3 .3 .1 2.7 .6-.5 4-.5 .4-.5 1.6 0 .4-.5 1.6 0 .4-.5 1.6 0 1-.5 .2 2.9 1.8 .3 .4-.5 4-.5 .6-.5 1.4 0 .6-.5 1.4 0 .6-.5 1.4 0 1-.5 .6 6.3 2 0 .4-.5 1.6 0 .4-.5 2 0 .6-.5 1.4 0 .6-.5 1.4 0 .6-.5 2 0 .4-.5 .6 7.2 1 0 .4-.5 2 0 .6-.5 2 0 .4-.5 1.6 0 .4-.5 2 0 .6-.5 4-.5 .4 10.3 1 0 .6-.5 2 0 .4-.5 2 0 .6-.5 2 0 .4-.5 5-.5 .6-.5 1.4 0 4.6 1.2 0 209.1-4 1.8-.6 1.9-4-.5-.4-.5-2.6 0-.4-.5-2 0-.6-.5-2 0-.4-.5-2 0-.6-.5-1 0-.4 7.1-1.6 0-.4-.5-2 0-.6-.5-1.4 0-.6-.5-2 0-.4-.5-2 0-.6-.5-2 0-.4-.5-1 0-.6 7-.4-.5-2 0-.6-.5-1.4 0-.6-.5-2 0-.4-.5-2 0-.6-.5-1.4 0-.6-.5-1.4 0-.6 6.3-13-3-.4 3.2-1.6 0-.4-.5-1.6 0-.4-.5-1.6 0-.4-.5-2 0-.6-.5-3-.5-.4 3-3-.5-.6-.5-1.4 0-.6-.5-1.4 0-.6-.5-1.4 0-.6-.5-1.4 0-.6 3z"/>
<path fill="#ffca00" d="M496.8 316.3l-.6-.5-1.4 0-.6-.5-5.4-1-2-1-1.6 .3-.4-.5-1.6 0-.4-.5-1.6 0-.4-.5-1.6 0-.4-.5-1.8 .2 0 2-.8 .1-.4-.5-5.6-1-2-1-1.4 .2-.6-.5-3.4-.5-.6-.5-3-.5-.4-.5-.9 .1 0 2-1.1 .1-.6-.5-1.4 0-.6-.5-1.4 0-2-1-3.6-.3-2-1-1.4 0-.6-.5-1.4 0-.6-.5-1 .1-.4-.5-3.6-.5-2-1-1.4 .1-.6-.5-1.4 0-.6-.5-3-.5-.4-.5-.7 0 0 2-.9 .1-.4-.5-3-.5-2-1-1.6 0-2-.9-3.4-.5-.6-.5-3-.4-2-1-1.4 0-2-.9-1.6 0-.4-.5-1.6 0-.4-.5-3-.5-2-1-1.6 0-.4-.5-3-.4-.6-.5-1.4 0-2-1-1.6 0-2-1-1.4 0-2-1-.4 0-.2 2.1-.4-.5-3-.5-2-1-1.6 0-2-1-1.4 0-2-.9-3-.5-.6-.5-1.4 0-2-1-1.6 0-2-1-1.4 0-2-1-1.6 0-2-1-1.4 0-2-.9-1.6 0-3.4-1.5-1.6 0-2-1-1.4 0-2-1-1.6 0-2-1-1.4 0-2-1-1.6 0-2-1.1-1.4 0-2-1-1.6 0-2-1-1.4 0-2-1-1.6 0-2-1-1.4-.1-2-1-1.6 0-.4-.5-2.6-.5-.1-1-24.3-9.6-28-12.7-6-2.4-17-5.3-9-3.4-5.6-3.3-6-5.3-3.5-4.6-1.8-4.4 .1-6.6 3.7-13-1.8-15.4 .4-6.6 1.5-4.4 2.7-4 3.9-3.6 6.6-4 18.8-9.6 36.2-15.8 19.4-7 10.4-3.2 .4-.5 2.6-.5 .4-.5 1.6 0 2-1.1 1.4 0 .6-.5 2.4-.5 .6-.5 1.4 0 2-.9 1.6 0 3.4-1.5 1.6 0 2-1 1.4 0 2-.9 1.6 0 .4-.5 2.6-.5 .4-.5 1.6 0 .4-.5 .7 0 0 1.6 .3 0 .6-.5 4.4-1 2-1 5-.9 2-1 1.6 .1 2-1 5-.9 2-1 1.4 0 2-1 5-.9 2-1 1.4 .1 0 1.4 .6 .1 2-1 3.6-.5 .4-.5 3-.5 2-1 1.6 .1 2-1 3.4-.5 2-.9 3-.5 .6-.5 1.4 .1 2-1 3.6-.5 2-1 1.4 0 2-1 1.6 0 2-.9 3.4-.5 .6-.5 1.4 0 0 1.6 1 0 .6-.5 3.4-.5 2-1 3.6-.5 2-1 1.4 0 .6-.5 1.4 .1 2-1 3.6-.5 .4-.5 3-.4 .6-.5 1.4 0 2-1 3.6-.4 .4-.5 3-.5 .6-.5 1.4 0 .6-.5 1.4 .2 0 2 .6 0 .4-.5 1.6 0 2-1 1.4 0 .6-.5 1.4 0 .6-.5 1.4 .1 2-1 1.6 0 .4-.5 3.6-.5 .4-.5 1 .2 .6-.5 5.4-1 2-1 1.3 .2 .3 2.6 2-1 1.4 0 .6-.5 5.4-1 .6-.5 1.4 .2 2-1 3.6-.5 .4-.5 1.6 0 .4-.5 1.2 .1 0 2.6 .4 .3 .4-.5 1.6 0 .4-.5 1.6 0 .4-.5 1.6 0 .4-.5 5.6-1 .4-.5 .6 2.8 1.4 0 .6-.5 1.4 0 .6-.5 1.4 0 .6-.5 1.4 0 .6-.5 3-.5 .4 3.1 3-.5 .6-.5 4-.5 .4-.5 1.6 0 .4-.5 1.6 0 .4 3.2 13-3 .6 6.5 1.4 0 .6-.5 1.4 0 .6-.5 2 0 .4-.5 2 0 .6-.5 4-.5 .4-.5 .6 10.3 15-3 .4 10.3 5-.5 .6-.5 2 0 .4-.5 2.6 0 .4-.5 2 0 .6-.5 3 0 4 1.5 0 193.9-4 2.2-.6 1.6-2.4 0-.6-.5-2 0-.4-.5-2.6 0-.4-.5-2 0-.6-.5-5-.5-.4 10.3-15-3-.6 7-1-.5-1.4 0-.6-.5-4.4-.5-.6-.5-1.4 0-.6-.5-2 0-.4-.5-1 0-.3 .5-.3 3.4-.4-.5-1.6 0-.4-.5-2 0-.6-.5-1.4 0-.6-.5-2 0-.4-.5-1.6 0-.4-.5-1.6 0-.4 6.2-1-.5-1.6 0-.4-.5-1.6 0-.4-.5-1.6 0-.4-.5-4-.5-.6-.5-.4 3.5-.6-.5-5.4-1-.6-.5-2 0-.4-.5-1.6 0-.4-.5-.4 .3 0 2.6-1.6 .1-.6-.5-1.4 0-.6-.5-1.4 0-.6-.5-1.4 0-.6-.5-1.4 0-.6-.5-1.4 0-1-.5-.6 3-10-2.5-.4 .4 0 2.5z"/>
<path fill="#ffc500" d="M520.2 312.8l-12.4-3-.4 .4 0 2.6-.6 .1-.6-.5-1.4 0-.6-.5-1.4 0-.6-.5-1.4 0-.6-.5-1.4 0-.6-.5-2 .3-.4-.5-1.6 0-.4-.5-1.6 0-.4-.5-3.6-.5-.4-.5-1.1 0 0 2-.5 .4-1.4 0-.6-.5-1.4 0-.6-.5-1.4 0-.6-.5-3-.5-.3 .2-.1 2-1.6 0-2-1-1.4 0-.6-.5-1.4 0-.6-.5-1.4 0-.6-.5-1.4 .3-.6-.5-1.4 0-2-1-1.6 0-.4-.5-2 .2 0 2-.6 0-.4-.5-1.6 0-2-1-1.4 0-.6-.5-1.4 0-.6-.5-1.4 .2-2-1-1.6 0-.4-.5-1.6 0-.4-.5-1.6 .1-2-1-1.4 0-.6-.5-1.4 0-.6-.5-1.4 .1-2-1-1.6 0-.4-.5-1.6 0-.4-.5-.7 .1 0 2-.9 0-2-1-1.4 0-.6-.5-1.4 0-2-.9-1.6 0-.4-.5-3-.5-.6-.5-1.4 .1-2-1-1.6 0-.4-.5-1.6 0-2-.9-3.4-.5-2-1-3.6-.5-2-1-3.4-.4-2-1-3.6-.5-.4-.5-3-.5-.6-.5-.8 0 0 1.6-3.2-.5-2-1-1.4 0-2-1-1.6 0-.4-.5-3-.4-.6-.5-1.4 0-.6-.5-3-.5-2-1-1.4 0-2-1-3.6-.5-2-1-1.4 0-2-1-3-.5-.6-.5-3.4-.4-2-1-1.6 0-2-1-1.4 0-.6-.5-3-.6-2-1-1.4 0-.6-.5-3-.5-.4-.5-3-.5-.6-.5-1.4 0-2-1-1.6 0-.4-.6-3-.5-.3-1.5-6.3-1.6-.4-.5-1-.1-16.6-6.3-39.4-18-25.6-8.9-5.7-3.2-4.7-3.8-4.1-4.6-1.9-4-.2-3 .3-3 3.2-9.6 .8-4-2.2-15.4 .1-5.6 1.1-4 2.3-3.7 3.6-3.1 6.4-3.8 18.6-9.8 27-12.3 22-8.5 15-4.9 .4 .7 2-1 1.6 0 2-1 1.4 0 .3-1.6 2.3-.5 .4-.5 1.6 0 2-1 1.4 0 2-1 1.7 0 0 1 .9 .1 2-1 3.4-.5 2-1 1.6 .1 2-1 1.4 0 2-1 1.6 0 2-1 1.4 0 .6-.5 1.4 .1 2-1 5-1 2-1 3.6-.4 2-1 1.4 .1 2-1 1.6 0 .4-.5 3-.5 .6-.5 1.4 0 .6-.5 .1 1.6 1.3 0 .6-.5 1.4 0 2-1 3.6-.4 2-1 1.4 0 .6-.5 3-.5 .4-.5 3.6-.4 2-1 3.4-.5 2-1 3.6-.4 2-1 3.4-.5 2-.9 1.6 0 .4-.5 1.6 0 2-1 3.4-.5 2-1 1.7 .1 0 1.4 1.3 .1 .6-.5 3.4-.5 2-1 1.6 .1 .4-.5 3.6-.5 2-1 1.4 .1 .6-.5 3.4-.5 2-1 1.6 .1 .4-.5 3.6-.5 2-1 1.4 .1 .6-.5 3.4-.5 .6-.5 3-.5 .4-.5 .8 0 0 2 1.8 .1 .4-.5 1.6 0 2-1 1.4 0 .6-.5 1.4 .2 .6-.5 5.4-1 2-1 3.6-.3 .4-.5 1.6 0 .4-.5 3.6-.5 .4-.5 1.2 .1 0 2 1.8 .1 .6-.5 1.4 0 .6-.5 3.4-.5 .6-.5 1.4 0 .6-.5 1.4 .3 .6-.5 1.4 0 .6-.5 3-.5 .4-.5 1.6 0 .4-.5 1.1 0 0 2.6 .9 .4 .6-.5 1.4 0 .6-.5 1.4 0 .6-.5 1.4 0 .6-.5 1.4 0 .6-.5 1.4 0 .6-.5 1.6 0 0 2.6 .4 .3 .4-.5 4-.5 .6-.5 1.4 0 .6-.5 1.4 0 .6-.5 1.4 0 .6-.5 .4 3.5 .6-.5 4-.5 .4-.5 1.6 0 .4-.5 1.6 0 .4-.5 1.6 0 1-.5 .4 6.3 1.6 0 .4-.5 1.6 0 .4-.5 2 0 .6-.5 1.4 0 .6-.5 2 0 .4-.5 1.6 0 .4-.5 .6 7.1 13.4-3 .6 10.5 1 0 .4-.5 2 0 .6-.5 5-.5 .4-.5 2 0 .6-.5 2.4 0 .6-.5 .4 10.9 .6-.5 2.4 0 .6-.5 2.4 0 .6-.5 2.4 0 .6-.5 2.4 0 .6-.5 2.4 0 1-.5 .6 1 4 2.8 0 175.7-4 3.1-.6 2.4-1-.5-2.4 0-.6-.5-2.4 0-.6-.5-2.4 0-.6-.5-2.4 0-.6-.5-2.4 0-.6-.5-.4 11.1-.6-.5-2.4 0-.6-.5-2 0-.4-.5-5-.5-.6-.5-2 0-.4-.5-1 0-.6 7.1-1-.5-2 0-.4-.5-2 0-.6-.5-2 0-.4-.5-2 0-.6-.5-2 0-.4-.5-.6 6.9-1-.5-1.4 0-.6-.5-2 0-.4-.5-2 0-.6-.5-1.4 0-.6-.5-2 0-.4-.5-.7 .3 0 3-.3 .4-.6-.5-4-.5-.4-.5-1.6 0-.4-.5-4.6-.5-.4 5.6-1 0-.6-.5-2 0-.4-.5-1.6 0-.4-.5-1.6 0-.4-.5-3-.5-.5 .4-.1 2.6z"/>
<path fill="#ffc100" d="M507.2 309.8l-1-.5-1.4 0-.6-.5-1.4 0-.6-.5-1.4 0-.6-.5-2 0-.4-.5-1.6 .3-.4-.5-1.6 0-.4-.5-1.6 0-.4-.5-1.6 0-.4-.5-1.6 0-.4-.5-1.2 .1 0 2.6-.4 .2-.4-.5-1.6 0-.4-.5-1.6 0-.4-.5-1.6 0-.4-.5-1.6 0-1-.5-.3 .3-.1 2.5-.6-.5-1.4 0-.6-.5-1.4 0-.6-.5-3.4-.5-.6-.5-1.4 .3-2-1-5.6-1-.4-.5-1 .2 0 2-1.6 0-.4-.5-1.6 0-.4-.5-3-.5-.6-.5-1.4 .2-.6-.5-1.4 0-.6-.5-1.4 0-.6-.5-1.4 0-.6-.5-1.4 .1-.6-.5-1.4 0-2-1-1.6 0-.4-.5-1.6 .1-.4-.5-1.6 0-.4-.5-1.6 0-.4-.5-1.6 0-.4-.5-.7 0 0 2-.9 .1-2-1-3.4-.5-2-.9-3.6-.5-.4-.5-1.6 0-2-.9-5.4-1-.6-.5-5-.9-.4-.5-1.6 0-2-1-5.4-.9-.6-.5-3-.5-.4-.5-3.6-.5-2-1-1.7 0 0 1.6-.7 0-2-1-3.6-.5-2-1-3.4-.4-2-1-3.6-.5-.4-.5-3-.5-.6-.5-1.4 0-.6-.5-3-.5-2-1-3.4-.5-2-1-3.6-.5-2-1-3.4-.5-2-1-3.6-.5-2-1-3.4-.5-2-1-1.6 0-.4-.5-3-.6-.6-.5-1.4 0-.6-.5-3-.5-1.2-.6-.2-1.5-1.6 0-.4-.5-1.6-.1-2-1-1.4 0-.6-.5-3-.5-15.4-6.2-40.6-18.8-24-8.9-6.3-3.4-4.1-3.4-3.6-4.2-1.5-3.4 .1-4 3.2-10 .8-4.6-.5-5.4-1.9-11 .2-4.6 .9-3 1.8-3 2.5-2.3 17-9.8 9-4.8 15.4-7.4 22.6-9.4 16.4-5.6 8.6-2.4 .4-.5 1 0 .6-.5 3.4-.5 2-1 3.6-.6 2-1 3.4-.5 2-1 3.6-.5 2-.9 1.4 0 .6-.5 1.4 0 2-1 3.6-.4 2-1 3.4-.5 .6-.5 3-.5 .4-.5 1.6 0 2-.9 3.4-.5 2-1 3-.5 .6-.5 0 1.6 2 0 2-1 5.4-.9 .6-.5 5-1 .4-.5 1.6 .1 2-1 5.4-1 2-1 5.6-.9 2-1 5.4-1 2-1 1.6 .1 .4-.5 3.6-.5 2-1 1.4 0 .6-.5 3.4-.5 .6-.5 0 2.1 1 0 2-1 1.4 0 .6-.5 1.4 0 .6-.5 1.4 .1 .6-.5 5.4-1 .6-.5 5-.9 .4-.5 1.6 0 .4-.5 1.6 0 .4-.5 3-.5 .6-.5 3.4-.4 .6-.5 1.4 0 .6-.5 1.4 0 .6-.5 1.4 0 .6-.5 .4 .1 0 2 1.6 .1 .4-.5 1.6 0 .4-.5 3.6-.5 .4-.5 1.6 .1 .4-.5 5.6-1 2-1 1.4 .2 .6-.5 1.4 0 .6-.5 5.4-1 .6-.5 .3 .2 0 2.4 .7 .1 .4-.5 1.6 0 .4-.5 1.6 0 .4-.5 1.6 0 .4-.5 1.6 0 .4-.5 1.6 .3 .4-.5 1.6 0 .4-.5 5.6-1 .4-.5 .9 .2 .1 2.6 10-2.5 .5 .3 0 2.6 1.1 0 .4-.5 3.6-.5 .4-.5 2 0 .6-.5 1.4 0 .6-.5 1.4 0 .6-.5 2 .4 .4-.5 1.6 0 .4-.5 1.6 0 .4-.5 1.6 0 .4-.5 2 0 .6-.5 1 .1 .4 5.6 4.6-.5 .4-.5 1.6 0 .4-.5 4-.5 .6-.5 .4 6.4 2 0 .6-.5 2 0 .4-.5 2 0 .6-.5 5.4-1 .6 6.7 2 0 .4-.5 2 0 .6-.5 5-.5 .4-.5 2 0 1-.5 .6 10.6 1 0 .4-.5 2 0 .6-.5 2.4 0 .6-.5 2.4 0 .6-.5 5-.5 .4 10.5 16-2.5 .6 3.4 1.9 2.3 2.1 3.4 0 152-4 4.5-.5 1.1-.1 3-16-2.5-.4 10.7-5-.5-.6-.5-2.4 0-.6-.5-2.4 0-.6-.5-2 0-.4-.5-1 0-.6 10.3-1-.5-2 0-.4-.5-5-.5-.6-.5-2 0-.4-.5-2 0-.6 6.5-1 0-.4-.5-2 0-.6-.5-1.4 0-.6-.5-2 0-.4-.5-2 0-.6-.5-2 0-.4 3.2-3-.5-.6-.5-2 0-.4-.5-2 0-.6-.5-2 0-1-.5-.1 2.8-.3 .4-1.6 0-.4-.5-2 0-.6-.5-4-.5-.4-.5-1.6 0-.4-.5-.1 3.1-.5 .4-.4-.5-3.6-.5-.4-.5-2 0-.6-.5-5.4-1-.6 5.6z"/>
<path fill="#ffbd00" d="M486.2 304.9l-1-.5-1.4 0-.6-.5-1.4 0-.6-.5-1.4 0-.6-.5-1.4 0-.6-.5-1.4 .3-.6-.5-2 0-.4-.5-1.6 0-.4-.5-1.6 0-.4-.5-1.6 .1 0 2-1 .2-.4-.5-1.6 0-.4-.5-3.6-.5-.4-.5-2 .2-.6-.5-1.4 0-.6-.5-1.4 0-.6-.5-3.4-.5-.6-.5 0 2.1-2 .1-.4-.5-1.6 0-.4-.5-1.6 0-.4-.5-3.6-.3-.4-.5-1.6 0-.4-.5-1.6 0-.4-.5-1.6 .1-.4-.5-3.6-.5-2-1-1.2 .1-.2 2-.6-.5-5.4-1-.6-.5-1.4 .1-.6-.5-3.4-.5-2-1-1.6 .1-.4-.5-1.6 0-.4-.5-1.6 0-.4-.5-3.6-.5-.4-.5-3-.5-.6-.5-1.4 .1-.6-.5-3.4-.5-.6-.5-1.4 0-.6-.5-3-.5-.4-.5-3.6-.4-.4-.5-3.6-.5-.4-.5-1.6 0-.4-.5-3-.5-.6-.5-.7 0 0 1.6-1.3 0-.4-.5-3.6-.5-2-1-5.4-1-2-1-5.6-.9-2-1-1.4 0-.6-.5-1.4 0-.6-.5-1.4 0-2-1-5.6-1-2-1-5.4-1-2-1-5.6-1.1-2-1-3.4-.5-.6-.5-1 0 0-1.6-1 0-.4-.5-1.6 0-.4-.5-1.6-.1-.4-.5-1.6 0-2.4-1.1-1.6 0-2-1-1.4 0-1-1-14-5.3-11-4.9-30-14.4-22.6-9-5.7-3.1-3.8-3-3.2-3.6-1.5-3 .1-3 2.8-9.4 .7-4.6-.1-5-2.1-13 .1-3 .9-3 1.9-3 3.9-2.8 19.6-11.6 10.4-5.5 19.3-8.5 11.3-4.4 23-7.3 .4-.9 1 0 .6-.5 3.4-.5 2-1 3.6-.5 .4-.5 1.6 0 2-1 5.4-1 2-1 1.6 0 .4-.5 1.6 0 .4-.5 1.3 0 0 1 1.3 .1 .4-.5 1.6 0 .4-.5 1.6 0 .4-.5 1.6 0 .4-.5 3.6-.5 2-1 1.4 .1 .6-.5 1.4 0 .6-.5 1.4 0 .6-.5 3.4-.5 2-.9 1.6 0 .4-.5 1.6 0 .4-.5 1.6 0 .4-.5 1.6 0 .4-.5 3.6-.4 2-1 1.4 0 .6-.5 3.4-.5 .6-.5 3.4-.4 2-1 1.6 0 .4-.5 3.6-.5 .4-.5 1.8 0 0 1.6 .8 0 .4-.5 1.6 0 .4-.5 1.6 0 .4-.5 1.6 0 2-1 5.4-.9 .6-.5 3.4-.5 .6-.5 1.4 0 .6-.5 1.4 0 .6-.5 1.4 0 .6-.5 1.4 .1 .6-.5 1.4 0 .6-.5 1.4 0 .6-.5 1.4 0 .6-.5 1.4 .1 .6-.5 5.4-1 .6-.5 1.4 0 2-1 1.6 0 .4-.5 1.6 0 .4-.5 1.6 .1 .4-.5 3.6-.5 .4-.5 1.7 0 0 2 .3 .1 .6-.5 1.4 0 .6-.5 1.4 0 .6-.5 1.4 0 .6-.5 1.4 .2 .6-.5 1.4 0 .6-.5 1.4 0 .6-.5 1.4 0 .6-.5 1.4 0 .6-.5 2 .1 .4-.5 1.6 0 .4-.5 3.6-.5 .4-.5 .9 .1 0 2 1.7 .1 .4-.5 1.6 0 .4-.5 1.6 0 .4-.5 2 0 .6-.5 1.4 .2 .6-.5 1.4 0 .6-.5 1.4 0 .6-.5 1.4 0 .6-.5 1.4 0 .6-.5 .9 .2 0 2.6 .5 0 .6-.5 1.4 0 .6-.5 2 0 .4-.5 3.6-.5 .4-.5 1.6 .3 .4-.5 2 0 .6-.5 1.4 0 .6-.5 1.4 0 .6-.5 2 0 .4-.5 .2 2.7 1.4 .3 .4-.5 2 0 .6-.5 1.4 0 .6-.5 2 0 .4-.5 1.6 0 .4-.5 1.6 0 .4-.5 .2 3.1 .4 .4 .4-.5 1.6 0 .4-.5 2 0 .6-.5 1.4 0 .6-.5 4-.5 .4 5.7 4.6-.5 .4-.5 4-.5 .6-.5 2 0 .4 6.5 .6-.5 4.4-.5 .6-.5 2.4 0 .6-.5 4.4-.5 .6 6.9 13.4-2.5 .6 13.7 1-.5 3 0 .4-.5 2.6 0 .4-.5 3 0 .6-.5 2.4 0 .6-.5 1 0 .4 14.8 1-.5 3.6 0 .4-.5 3.6 0 .4-.5 7-.5 .6 6.6 4 12.5 0 102.9-2.6 10.6-1.4 4.2-.3 2.8-.3 .4-3 0-.4-.5-3.6 0-.4-.5-3.6 0-.4-.5-3.6 0-1-.5-.4 17.7-1.6 0-.4-.5-2.6 0-.4-.5-2.6 0-.4-.5-2.6 0-.4-.5-3 0-1-.5-.6 10.4-13.4-2.5-.6 6.6-2 0-.4-.5-2 0-.6-.5-2.4 0-.6-.5-4.4-.5-.6-.5-.4 6.4-4.6-.5-.4-.5-4-.5-.6-.5-2 0-.3 .4 0 2.6-.7 .2-.4-.5-2 0-.6-.5-2 0-.4-.5-1.6 0-.4-.5-2 0-1-.5-.3 2.7-1.7 .4-.6-.5-1.4 0-.6-.5-2 0-.4-.5-1.6 0-.4-.5-4-.5-.2 2.7-.4 .4-.4-.5-4-.5-.6-.5-1.4 0-.6-.5-2 0-1-.5-.1 2.5-.3 .3-10-2.5-.6 2.9z"/>
<path fill="#ffb900" d="M486.2 301.8l-1-.5-4-.5-.4-.5-1.6 0-.4-.5-4-.2-.6-.5-1.4 0-.6-.5-1.4 0-.6-.5-2 0-.4-.5-.8 .2-.2 2.1-5.6-1-.4-.5-2 0-.6-.5-1.4 .2-.6-.5-5.4-1-.6-.5-1.3 .1 0 2-1.1 .1-.6-.5-3.4-.5-.6-.5-1.4 0-.6-.5-1.4 .2-.6-.5-7.4-1.4-.6-.5-1.4 0-.6-.5-1.4 0-.6-.5-1.4 .1-.6-.5-3.4-.5-.6-.5-2 0-.4-.5-.7 0 0 2-.3 .1-.6-.5-5.4-1-.6-.5-1.4 .1-.6-.5-1.4 0-.6-.5-1.4 0-.6-.5-1.4 .1-.6-.5-1.4 0-.6-.5-1.4 0-.6-.5-5.4-1-2-1-1.6 .1-.4-.5-1.6 0-.4-.5-1.6 0-.4-.5-1.6 0-.4-.5-1.6 0-.4-.5-1.6 0-.4-.5-1.6 .1-.4-.5-3.6-.5-.4-.5-1.6 0-.4-.5-3.6-.5-.4-.5-1.6 0-.4-.5-1.6 0-.4-.5-1.6 0-.4-.5-.2 1.6-1.4 0-.4-.5-1.6 0-.4-.5-5.6-1-2-1-1.4 0-.6-.5-1.4 0-.6-.5-5.4-1-2-1-1.6 0-.4-.5-3.6-.5-2.4-1-1.6 0-.4-.5-1.1-.1 0-1.4-.9-.1-.6-.5-1.4 0-.6-.5-5-1-.4-.6-3.6-.5-.4-.6-1.6 0-.4-.5-1.6 0-.4-.5-1.6 0-2.4-1.1-3.6-.6-.4-.5-1.6 0-1-.6-.4-1-13.2-5-10.8-4.7-30-14.7-22-9.7-5.6-3.3-4.5-4-1.7-2.6-.4-2 2.4-10 .6-4.4-.1-5.6-1.9-13 .1-2.4 .9-2.6 2.2-2.7 7.3-5.3 16.2-10 8.5-4.4 11.4-5.3 17.6-6.7 24-7.2 .4-.5 1.6 0 .4-.5 1.6 0 .4-.5 5.6-1 .4-.5 3.6-.5 .4-.5 1.6 0 .4-.5 1.6 0 .4-.5 3-.5 .6-.5 1.4 0 .6-.5 1.4 0 .6-.5 1.4 0 .6-.5 3.4-.5 .6-.5 1.4 0 .6-.5 1.4 .1 .6-.5 1.4 0 .6-.5 1.4 0 .6-.5 1.4 0 .6-.5 1.4 0 .6-.5 1.4 0 .6-.5 1.4 0 .6-.5 1.9 0 0 1 1.5 .1 .6-.5 3.4-.5 .6-.5 1.4 0 .6-.5 1.4 0 .6-.5 1.4 0 .6-.5 1.4 0 .6-.5 1.4 0 .6-.5 1.4 .1 .6-.5 5.4-1 .6-.5 1.4 0 .6-.5 4-.4 .4-.5 5.6-1 .4-.5 1.6 0 .4-.5 1.6 0 .4-.5 1.6 .1 .4-.5 3.6-.5 .4-.5 1.6 .1 .4-.5 3.6-.5 .4-.5 1.6 0 .4-.5 1.6 0 .4-.5 1.6 0 .4-.5 1.9 0 0 1.6 1.7 0 .4-.5 1.6 0 .4-.5 1.6 0 .4-.5 1.6 .1 .4-.5 1.6 0 .4-.5 2 0 .6-.5 3.4-.5 .6-.5 1.4 0 .6-.5 1.4 0 .6-.5 1.4 0 .6-.4 2 0 .4-.5 1.6 0 .4-.5 1.6 0 .4-.5 1.6 .1 .4-.5 3.6-.5 .4-.5 4-.4 .6-.5 5.4-1 .6-.5 1 0 0 2 1.4 .2 .6-.5 2 0 .4-.5 3.6-.5 .4-.5 1.6 .2 .4-.5 2 0 .6-.5 1.4 0 .6-.5 1.4 0 .6-.5 2 0 .3 .2 0 2 1.1 0 .6-.5 1.4 0 .6-.5 1.4 0 .6-.5 6.4-.7 .6-.5 4-.5 .4-.5 1.6 0 .4-.5 .7 .2 0 2.4 .3 .3 1-.5 4-.5 .6-.5 2 0 .4-.5 1.6 0 .4-.5 .6 3.1 2 0 .4-.5 4-.5 .6-.5 2 0 .4-.5 1.6 0 .4-.5 1.2 .2 0 2.4 .4 .4 1 0 .4-.5 2 0 .6-.5 2 0 .4-.5 2 0 .6-.5 2 0 .4 5.8 1.6 0 .4-.5 2.6 0 .4-.5 2 0 .6-.5 4-.5 .4 6.7 1-.5 2.6 0 .4-.5 2 0 .6-.5 2.4 0 .6-.5 2 0 .4-.5 1 0 .6 10.1 5.4-.5 .6-.5 2.4 0 .6-.5 2.4 0 .6-.5 1.4 0 .6 13.7 1-.5 3 0 .4-.5 7-.5 .6-.5 3 0 .4 35.6 5.6 0 .4-.5 7 0 .6-.5 2.4 0 .9 25.2-.9 49-2.4 0-.6-.5-7 0-.4-.5-5.6 0-.4 39.4-.6-.5-3 0-.4-.5-3 0-.6-.5-3 0-.4-.5-3 0-1-.5-.6 10.6-1.4 0-.6-.5-2.4 0-.6-.5-2.4 0-.6-.5-5.4-.5-.6 9.8-1 0-.4-.5-2 0-.6-.5-2.4 0-.6-.5-2 0-.4-.5-2.6 0-1-.5-.4 6.4-4-.5-.6-.5-2 0-.4-.5-2.6 0-.4-.5-1.7 .4-.3 2.9-1 0-.6-.5-2 0-.4-.5-2 0-.6-.5-2 0-.4-.5-2 0-.6 5.6-3-.5-.4-.5-2 0-.6-.5-2 0-.4-.5-1.6 0-.4-.5-2 0-.6 3.2-.4-.5-4-.5-.6-.5-1.4 0-.6-.5-2 0-1-.5-.3 .3-.1 2.6-1-.5-1.6 0-.4-.5-4-.5-.6-.5-2 0-.4-.5-.5 .3-.1 2.6z"/>
<path fill="#ffb400" d="M476.8 296.9l-1-.5-1.6 0-.4-.5-4-.5-.6-.5-1.4 0-.6-.5-2 .3-.4-.5-1.6 0-.4-.5-2 0-.6-.5-1.4 0-.6-.5 0 2.5-.4 .3-.6-.5-4-.5-.4-.5-1.6 0-.4-.5-6-.8-.6-.5-1.4 0-.6-.5-1.1 .1 0 2-.9 .1-.4-.5-3.6-.5-.4-.5-4-.4-.6-.5-1.4 0-.6-.5-1.4 0-.6-.5-1.4 .1-.6-.5-1.4 0-.6-.5-2 0-.4-.5-1.6 0-.4-.5-1.6 .1-.4-.5-3.6-.5-.4-.5-1.7 0 0 1.6-1.9 0-.4-.5-1.6 0-.4-.5-1.6 0-.4-.5-1.6 .1-.4-.5-1.6 0-.4-.5-1.6 0-.4-.5-1.6 0-.4-.5-3.6-.5-.4-.5-1.6 .1-.4-.5-1.6 0-.4-.5-1.6 0-.4-.5-3.6-.5-.4-.5-1.6 0-.4-.5-2 0-.6-.4-1.4 0-.6-.5-1.4 0-.6-.5-5.4-1-.6-.5-1.4 0-.6-.5-1.4 0-.6-.5-1.4 0-.6-.5-1.4 .1-.6-.5-3.4-.5-.6-.5-1.4 0-.6-.5-5.4-1-.6-.5-1.4 0-.6-.5-1.4 0-.6-.5-1.4 0-.6-.5-2 0-.4-.5-3.6-.5-.4-.5-1.6 0-.4-.5-1.6 0-2.4-1.1-1.6 0-.4-.5-3.6-.5-2.4-1.1-1.6 0-2.4-1-1.6 0-.4-.5-3.6-.6-2.4-1.1-1.6 0-.7-.6 0-1-1.3-.5-1.4 0-2.6-1.1-1.4 0-24.6-10.2-48.1-23.6-6.3-3.8-4.8-4.2-1-1.6-.3-1.4 1.5-9 .4-5-.1-6-1.4-12 .4-3.6 1.9-2.4 6.7-5.6 13.1-9 11-6 17.6-7.5 11.4-4 16-4.5 5.6-1.4 .4 .1 .6-.5 1.4 0 .6-.5 1.4 0 .6-.5 1.4 0 .6-.5 1.4 0 .6-.5 2 0 .4-.5 3.6-.5 .4-.5 5.6-1 .4-.5 2 .1 .6-.5 1.4 0 .6-.5 3.4-.5 .6-.5 1.4 0 .6-.5 1.4 0 .6-.5 2 0 .4-.5 1.6 0 .4-.5 3.6-.5 .4-.5 1.6 0 .4-.5 1.6 0 .4-.4 2 0 .6-.5 3.4-.5 .6-.5 1.4 0 .6-.5 3.4-.4 .6-.5 4-.5 .4-.5 5.6-1 .4-.5 1.6 0 .4-.5 1.2 .1 0 1.4 1.4 .1 .4-.5 1.6 0 .4-.5 4-.5 .6-.5 1.4 0 .6-.5 1.4 0 .6-.5 2 .1 .4-.5 1.6 0 .4-.5 1.6 0 .4-.5 2 0 .6-.5 1.4 0 .6-.5 3.4-.4 .6-.5 2 0 .4-.5 3.6-.4 .4-.5 1.6 0 .4-.5 4-.5 .6-.5 1.4 0 .6-.5 4-.4 .4-.5 1.6 0 .4-.5 1.6 0 .4-.5 2 0 .6-.5 .3 0 0 2 1.1 .1 .6-.5 2 0 .4-.5 1.6 0 .4-.5 4-.5 .6-.5 1.4 0 .6-.5 2 0 .4-.4 1.6 0 .4-.5 4-.5 .6-.5 4-.3 .4-.5 1.6 0 .4-.5 2 0 .6-.5 1.4 .1 .6-.5 1.4 0 .6-.5 2 0 .4-.5 1.6 0 .4-.5 1.6 .1 0 2 1.4 .1 .6-.5 2 0 .4-.5 1.6 0 .4-.5 2 0 .6-.5 1.4 .3 .6-.5 2 0 .4-.5 4-.5 .6-.5 1.5 0 0 2 .5 .4 1.4 0 .6-.5 2 0 .4-.5 2 0 .6-.5 2 0 1-.5 .4 2.9 1-.5 2 0 .6-.5 2 0 .4-.5 4-.5 .6 3.1 .4-.5 2 0 .6-.5 2 0 .4-.5 2 0 .6-.5 2 0 .4-.5 2 0 .6 5.7 11-2 .4 3.4 1.6 0 .4-.5 2.6 0 .4-.5 2 0 .6-.5 2.4 0 .6-.5 1 0 .4 9.9 .6-.5 6-.5 .4-.5 2.6 0 .4-.5 2.6 0 .4-.5 .6 13.3 3 0 .4-.5 3.6 0 .4-.5 6-.5 .6 14.2 .4-.5 9-.5 .6-.5 4 0 1-.5 .3 61.2-.3 60.6-2 0-.6-.5-3.4 0-.6-.5-3.4 0-.6-.5-4 0-.4-.5-.6 14-5.4-.5-.6-.5-2.4 0-.6-.5-3 0-.4-.5-1 0-.6 10-2.4 0-.6-.5-2.4 0-.6-.5-2 0-.4-.5-2.6 0-.4-.5-1.6 0-.4 6.6-1 0-.6-.5-2.4 0-.6-.5-2 0-.4-.5-2.6 0-.4-.5-1.6 0-.4 6.4-.6-.5-2 0-.4-.5-4.6-.5-.4-.5-2.6 0-.4-.5-.6 3.1-2 0-.4-.5-2 0-.6-.5-2 0-.4-.5-4.6-.5-.4-.5-.2 2.7-.4 .5-1.4 0-.6-.5-2 0-.4-.5-2 0-.6-.5-2 0-1-.5 0 2.5-.4 .5-1-.5-2 0-.6-.5-2 0-.4-.5-2 0-.6-.5-1.4 0-.1 2.1-1.9 .3-.6-.5-2 0-.4-.5-4-.5-.6-.5-.4 2.8z"/>
<path fill="#ffb000" d="M476.8 293.8l-5.6-1-.4-.5-2 0-.6-.5-1.4 .3-.6-.5-2 0-.4-.5-4-.5-.6-.5-1.3 .1 0 2-1.1 .1-.6-.5-2 0-.4-.5-4-.5-.6-.5-1.4 .2-.6-.5-1.4 0-.6-.5-6.4-.8-.6-.5-4-.5-.4-.5-.1 2-1.5 .2-.4-.5-4-.5-.6-.5-1.4 .1-.6-.5-2 0-.4-.5-3.6-.5-.4-.5-1.6 .1-.4-.5-2 0-.6-.5-3.4-.4-.6-.5-2 0-.4-.5-1.6 0-.4-.5-1.9 0 0 1.6-1.1 0-.6-.5-3.4-.5-.6-.5-2 0-.4-.5-1.6 0-.4-.5-1.6 0-.4-.5-1.6 .1-.4-.5-3.6-.5-.4-.5-2 0-.6-.5-3.4-.5-.6-.5-1.4 .1-.6-.5-1.4 0-.6-.5-1.4 0-.6-.5-2 0-.4-.5-1.6 0-.4-.5-3.6-.5-.4-.5-1.6 0-.4-.5-1.6 .1-.4-.5-2 0-.6-.5-3.4-.5-.6-.5-1.4 0-.6-.5-3.4-.5-.6-.5-2 0-.4-.6-3.6-.5-2.4-1-3.6-.5-.4-.5-2 0-.6-.5-1.4 0-.6-.5-3.4-.5-.6-.6-1.4 0-.6-.5-1.4 0-.6-.5-2 0-.4-.5-1.6 0-.4-.6-3.6-.5-.2-1.6-1.2-.5-6-1.1-.6-.6-3.4-.5-.6-.6-2 0-1.1-.7-.3-.7-15.6-6-20.4-9.5-31.6-16.6-6.5-4.2-4.1-3.4-1.1-1.6-.5-2 .7-11-1-18.4 .5-3 1.9-2.6 6.3-6 11.5-8.4 10.6-6 17.3-7.3 11-3.5 16.4-4.2 4.6-1.1 2 .1 .4-.5 1.6 0 .4-.5 4-.4 .6-.5 2 0 .4-.5 1.6 0 .4-.5 1.6 0 .4-.5 2 0 .6-.5 1.4 0 .6-.5 2 0 .4-.5 1.6 0 .4-.5 1.6 0 .4-.5 2 0 .6-.5 1.4 0 .6-.5 2 0 .4-.5 1.6 0 .4-.5 1.6 .1 .4-.5 2 0 .6-.5 1.4 0 .6-.5 2 0 .4-.5 3.6-.5 .4-.5 2 0 .6-.5 1.4 0 .6-.5 2 0 .4-.5 1.6 0 .4-.5 2 0 .6-.5 3.4-.4 .6-.5 2 0 .4-.5 1.6 0 .4-.5 2 0 .6-.5 3.4-.4 .6-.5 2 0 .4-.5 1.6 0 .4-.5 2 0 .6-.5 1.4 0 .6-.5 1.2 0 0 1.6 1.8 0 .4-.5 1.6 0 .4-.5 2 0 .6-.5 1.4 0 .6-.5 2 0 .4-.5 1.6 .1 .4-.5 2 0 .6-.5 1.4 0 .6-.5 4.4-.4 .6-.5 1.4 0 .6-.5 2 0 .4-.5 1.6 0 .4-.5 2 0 .6-.5 1.4 .1 .6-.5 2 0 .4-.5 1.6 0 .4-.5 2 0 .6-.5 1.4 .1 .6-.5 4.4-.5 .6-.5 .9 .1 0 2 1.1 0 .4-.5 1.6 0 .4-.5 2 0 .6-.5 2 .1 .4-.5 4-.5 .6-.5 4.4-.4 .6-.5 4-.5 .4-.5 2 .1 .6-.5 4-.5 .4-.5 2 0 .6-.5 1.2 .1 0 2 1.8 .2 .4-.5 2 0 .6-.5 4.4-.5 .6-.5 1.4 .3 .6-.5 2 0 .4-.5 4.6-.5 .4-.5 .1 2.5 .5 .4 10-2 .1 2.6 .3 .4 1-.5 2 0 .6-.5 2 0 .4-.5 4-.5 .6 5.8 1 0 .4-.5 2.6 0 .4-.5 2 0 .6-.5 2.4 0 .6-.5 2 0 .4-.5 .6 3.8 .4-.5 2.6 0 .4-.5 2 0 .6-.5 5-.5 .4 9.1 1 0 .6-.5 3 0 .4-.5 2.6 0 .4-.5 3 0 .6-.5 .4 10.1 1.6 0 .4-.5 3.6 0 .4-.5 3 0 .6-.5 3.4 0 .6 13.5 .4-.5 4 0 .6-.5 8.4-.5 .6 34.6 8.4 0 .6-.5 6 0 0 46.5-15-.5-.6 41.3-2.4 0-.6-.5-3.4 0-.6-.5-6.4-.5-.6 10.3-1.4 0-.6-.5-3 0-.4-.5-3 0-.6-.5-2.4 0-.6-.5-1 0-.4 9.9-1-.5-2.6 0-.4-.5-2.6 0-.4-.5-2.6 0-.4-.5-1.6 0-.4 6.4-1-.5-2 0-.6-.5-5-.5-.4-.5-2 0-.2 2.9-.8 .4-.6-.5-2.4 0-.6-.5-2 0-.4-.5-2 0-.6-.5-2.4 0-1-.5-.6 5.7-1.4 0-.6-.5-2 0-.4-.5-2 0-.6-.5-2 0-1-.5-.4 3-1 0-.6-.5-2 0-.4-.5-1.6 0-.4-.5-2 0-.6-.5-1.4 0-.4 .4-.2 2.1-2 0-.4-.5-2 0-.6-.5-1.4 0-.6-.5-2 0-.4 .4 0 2z"/>
<path fill="#ffac00" d="M466.8 288.8l-1 0-.6-.5-2 0-.4-.5-2 0-.6-.5-1.4 0-.6-.5-2 .3-.4-.5-2 0-.6-.5-1.4 0-.6-.5-2.2 .2 0 2-.8 .1-.4-.5-4-.5-.6-.5-1.4 0-.6-.5-2 .2-.4-.5-1.6 0-.4-.5-2 0-.6-.5-1.4 .1-.6-.5-2 0-.4-.5-2 0-.6-.5-1.1 0 0 2-.3 .1-.6-.5-2 0-.4-.5-3.6-.5-.4-.5-2 .2-.6-.5-1.4 0-.6-.5-2 0-.4-.5-3.6-.5-.4-.5-2 0-.6-.5-1.4 .1-.6-.5-2 0-.4-.5-1.6 0-.4-.5-4-.4-.6-.5-1.4 0-.6-.5-2 0-.4-.5-4-.5-.6-.5-.1 2-.3 .1-.6-.5-1.4 0-.6-.5-1.4 0-.6-.5-4-.5-.4-.5-1.6 0-.4-.5-4-.4-.6-.5-1.4 0-.6-.5-3.4-.5-.6-.5-2 0-.4-.5-1.6 0-.4-.5-1.6 0-.4-.5-2 0-.6-.5-1.4 0-.6-.5-3.4-.5-.6-.5-2 0-.4-.5-3.6-.5-.4-.5-2 0-.6-.5-1.4 0-.6-.5-1.4-.1-.6-.5-1.4 0-.6-.5-4-.5-.4-.5-1.4 0 0-1.6-1.2 0-.4-.5-1.6 0-2.4-1-2 0-2.6-1.1-2 0-.4-.6-3.6-.5-.4-.6-2 0-2.6-1.1-2 0-.6-.6 0-1-.8-.6-2 0-.6-.5-15-5.7-23.7-11.2-16.3-8.8-11-6.6-7-5.4-2.2-2.6-.7-2.6-.7-25 .7-4 2.8-4 5.1-5.4 9-7.2 10.6-6.2 9.4-4.2 7.6-2.7 9.4-2.8 12-2.9 9.6-2 .4 .5 1 0 .6-.5 1.4 0 .6-.5 4.4-.5 .6-.5 1.4 0 .6-.5 4.4-.5 .6-.5 1.4 0 .6-.5 2 0 .4-.5 2 0 .6-.5 2 .1 .4-.5 1.6 0 .4-.5 4.6-.5 .4-.5 1.6 0 .4-.5 4.6-.5 .4-.5 1.6 0 .4-.5 4.6-.5 .4-.5 1.6 0 .4-.5 4.6-.4 .4-.5 1.6 0 .4-.5 2 0 .6-.5 2 0 .4-.5 1.6 0 .4-.5 7-1 .6-.5 1.4 0 .6-.5 4.4-.4 .6-.5 4-.4 .4-.5 2 0 .6-.5 1.4 0 .6-.5 4.4-.5 .6-.5 .8 0 0 1.6 2.2 0 .4-.5 4.6-.5 .4-.5 2 0 .6-.5 2 0 .4-.4 1.6 0 .4-.5 2 0 .6-.5 4.4-.4 .6-.5 2 0 .4-.5 2 .1 .6-.5 1.4 0 .6-.5 2 0 .4-.5 2 0 .6-.5 2 .1 .4-.5 2 0 .6-.5 2 0 .4-.5 .5 .1 0 2 1.5 0 .6-.5 2 0 .4-.5 2 0 .6-.5 2 0 .4-.5 2 0 .6-.5 2 0 .4-.5 2 .2 .6-.5 2 0 .4-.5 2 0 .6-.5 4.4-.3 .6-.5 2 0 .4-.5 2 0 .6-.5 1 0 .4 2.2 2 0 .6-.5 4.4-.5 .6-.5 2 0 .4 .4 0 2 9-1.5 .5 .5 .1 2.5 .4-.5 2 0 .6-.5 2.4 0 .6-.5 4-.5 .3 .5 .1 2.6 1-.5 2 0 .6-.5 5.4-.5 1-.5 .6 6 5.4-.5 .6-.5 2.4 0 .6-.5 2.4 0 1-.5 .6 6.5 1-.5 6-.5 .4-.5 3 0 .6-.5 .4 9.9 1-.5 7-.5 .6-.5 3 0 .4 9.9 4 0 .6-.5 4 0 .4-.5 4 0 .6 19.7 5 0 .4-.5 7 0 1-.5 0 83.6-5 0-.4-.5-4.6 0-.4-.5-3 0-.6 17-1-.5-3.4 0-.6-.5-3.4 0-.6-.5-3.4 0-.6-.5-.4 10.2-1.6 0-.4-.5-3 0-.6-.5-3 0-.4-.5-2.6 0-.4 9.2-1-.5-2.6 0-.4-.5-2.6 0-.4-.5-2.6 0-.4-.5-1 0-.6 6.4-.4-.5-2 0-.6-.5-2.4 0-.6-.5-2 0-.4-.5-2.6 0-.4-.5-1 0-.6 3.3-1 0-.4-.5-2 0-.6-.5-2.4 0-.6-.5-2 0-1-.5-.1 2.6-.3 .4-1 0-.6-.5-2 0-.4-.5-2.6 0-.4-.5-2 0-1-.5-.2 2.6-.4 .4-9-2-.1 2.6-.3 .3-.6-.5-2 0-.4-.5-2 0-.6-.5-4-.5-.3 .3-.1 2z"/>
<path fill="#ffa800" d="M486.2 284.3l-1 0-.4-.5-2 0-.6-.5-2 0-.4-.5-2 0-.6-.5-.4 .4-2 0-.6-.5-2 0-.4-.5-2 0-.6-.5-2 0 0 2-.4 .4-1 0-.6-.5-2 0-.4-.5-2 0-.6-.5-2 0-.3 .1 0 2-.7 .1-.4-.5-2 0-.6-.5-2 0-.4-.5-2 0-.6-.5-1.4 .3-.6-.5-2 0-.4-.5-2 0-.6-.5-1.3 .1 0 2-1.1 .1-.6-.5-2 0-.4-.5-1.6 0-.4-.5-2 .2-.6-.5-2 0-.4-.5-1.6 0-.4-.5-2 .1-.6-.5-2 0-.4-.5-1.6 0-.4-.5-2 0-.6-.5-.4 .2 0 2-1 0-.6-.5-4-.5-.4-.5-2 0-.6-.5-1.4 0-.6-.5-2 0-.4-.5-2 .1-.6-.5-1.4 0-.6-.5-2 0-.4-.5-1.6 .1-.4-.5-2 0-.6-.5-1.4 0-.6-.5-2 0-.4-.5-1.6 0-.4-.5-2 .1-.6-.5-4-.5-.4-.5-2 0-.6-.5-1.4 0-.6-.5-2 0-.4-.5-1.6 .1-.4-.5-4-.5-.6-.5-2 0-.4-.5-1.6 0-.4-.5-2 0-.6-.5-4-.5-.4-.5-1.6 0-.4-.5-4.6-.5-.4-.5-1.6 0-.4-.5-2 0-.6-.5-4-.6-.4-.5-1.6 0-.4-.5-2 0-.6-.5-1.4 0-.6-.5-2 0-.4-.5-1.6 0-.4-.5-2-.1-.6-.5-2 0-.4-.6-1.6 0-.4-.5-1.6 0-1-.6-3.4-.6 0-1.4-1.6-.1-.4-.5-2-.1-.6-.5-1.4 0-.6-.5-2-.1-.4-.5-2 0-.6-.7-3-.5-.4-.9-21-8.4-19-9.5-14.1-8.3-8.9-6.1-4-3.3-3.3-4-1.3-5-.6-10.6 .2-8.4 .6-3.6 1.8-3.4 4-5.6 8.6-7.6 10.4-6.3 9-4 7.4-2.5 13.2-3.5 17-3.3 .4-.8 1.6 0 .4-.5 1.2 .1 0 1 1.8 0 .6-.5 2 0 .4-.5 4.6-.5 .4-.5 2 0 .6-.5 2 0 .4-.5 2 0 .6-.5 4.4-.5 .6-.5 2 .1 .4-.5 4.6-.5 .4-.5 2 0 .6-.5 2 0 .4-.5 2 0 .6-.5 2 0 .4-.5 2 0 .6-.5 2 0 .4-.5 2 0 .6-.5 2 0 .4-.5 2 0 .6-.5 4.4-.5 .6-.5 2 0 .4-.5 2 0 .6-.5 2 .1 .4-.5 2 0 .6-.5 2 0 .4-.5 4.6-.5 .4-.5 2 .1 .6-.5 2 0 .4-.5 2 .1 .6-.5 4.4-.5 .6-.5 2 0 .4-.5 2 0 .6-.5 1.6 .1 0 1.4 2.4 .1 .4-.5 2 0 .6-.5 2 .1 .4-.5 2 0 .6-.5 2 0 .4-.5 2 .1 .6-.5 2.4 0 .6-.5 4.4-.4 .6-.5 4.4-.5 .6-.5 2 .1 .4-.5 2.6 0 .4-.5 2.3 0 0 1.6 2.7 0 .6-.5 2 0 .4-.5 2 .1 .6-.5 2.4 0 .6-.5 2 0 .4-.5 2 .1 .6-.5 2.4 0 .6-.5 2 0 .4-.5 5-.3 .6-.5 2 0 .4-.5 2.6 0 1-.5 0 2.6 .4 .2 .6-.5 2 0 .4-.5 2.6 0 .4-.5 2 0 .6-.5 1 0 .4 2.9 .6-.5 2.4 0 .6-.5 2.4 0 .6-.5 2.4 0 .6 2.7 2 0 .4-.5 2.6 0 .4-.5 2.6 0 .4-.5 1.6 0 .4 5.8 .6-.5 3 0 .4-.5 2.6 0 .4-.5 3 0 .6 6.2 .4-.5 3.6 0 .4-.5 3 0 .6-.5 3 0 .4-.5 1 0 .6 9.3 1 0 .4-.5 4 0 .6-.5 3.4 0 .6-.5 1 0 .4 9.8 4.6 0 .4-.5 4.6 0 .4-.5 1.6 0 .4 13 6 0 .6-.5 6 0 .4-.5 .5 41.1-.5 43.9-1.4 0-.6-.5-5 0-.4-.5-4.6 0-1-.5-.4 16.4-3 0-.6-.5-3 0-.4-.5-3.6 0-1-.5-.4 10.1-.6-.5-3 0-.4-.5-6-.5-1-.5-.6 6.5-1-.5-2.4 0-.6-.5-2.4 0-.6-.5-5.4-.5-.6 5.9-1-.5-2.4 0-.6-.5-2.4 0-.6-.5-2 0-1-.5-.1 2.6-.3 .5-1.6 0-.4-.5-2 0-.6-.5-5-.5-.4-.5-.6 5.6z"/>
<path fill="#ffa200" d="M476.8 279.8l-.6-.5-2 0-.4-.5-5-.5-.6-.5-2 .4-.4-.5-2.6 0-.4-.5-4.6-.5-.1 2.1-.3 .2-1 0-.6-.5-2 0-.4-.5-2 0-.6-.5-2 0-.4 .3 0 2-.6 0-.4-.5-2 0-.6-.5-2 0-.4-.5-2 .2-.6-.5-2 0-.4-.5-2 0-.6-.5-2 .2-.4-.5-2 0-.6-.5-2 0-.4-.5-1.7 .1 0 2-.3 0-.6-.5-2 0-.4-.5-4-.5-.6-.5-2 .2-.4-.5-2 0-.6-.5-4.4-.4-.6-.5-2 0-.4-.5-6.6-.9-.4-.5-2 0-.6-.5-2 0-.4-.5-2.2 0 0 1.6-.8 0-.6-.5-4.4-.5-.6-.5-4-.5-.4-.5-2 0-.6-.4-1.4 0-.6-.5-2 0-.4-.5-2 0-.6-.5-1.4 0-.6-.5-2 0-.4-.5-2 0-.6-.5-2 0-.4-.5-1.6 .1-.4-.5-4.6-.5-.4-.5-1.6 0-.4-.5-2 0-.6-.5-4-.5-.4-.6-2 0-.6-.5-2 0-.4-.5-1.6 0-.4-.5-2 0-.6-.5-4-.5-.4-.5-2-.1-.6-.5-1.8-.1 0-1.4-1.2-.6-2 0-.4-.5-2 0-.6-.5-2 0-.4-.7-2 0-2.6-1.1-2 0-.4-.5-4.3-.7 0-1.4-3.7-.6-1-.7-2 0-1-1-20.6-8.1-13.4-6.6-16.4-10-10.1-8-4.6-5.6-1.1-2.4-.9-4-.6-7.6 .7-7.4 1.4-5 3.2-6 3.9-4.6 5.4-4.4 7.5-4.8 9.6-4.2 8-2.7 12.4-3 15.6-2.8 .4-.5 1-.1 .6-.5 2 0 .4-.5 2 0 .6-.5 2.4 0 .6-.5 1 .1 0 1 5-.5 .4-.5 2 0 .6-.5 2 0 .4-.5 2.6 0 .4-.5 2 0 .6-.5 2.4 0 .6-.5 4.4-.5 .6-.5 2.4 0 .6-.5 2 0 .4-.5 2 0 .6-.5 2.4 0 .6-.5 2 0 .4-.5 2 0 .6-.5 2.4 0 .6-.5 2 0 .4-.5 2 0 .6-.5 2.4 0 .6-.5 2 0 .4-.5 2.6 0 .4-.4 2 0 .6-.5 2 0 .4-.5 2.6 0 .4-.5 2 0 .6-.5 2 .1 .4-.5 5-.4 .6-.5 2 0 .4-.5 5-.4 .6-.5 2 0 .4-.5 2.6 0 .4-.5 2 0 .6-.5 2 0 0 1.6 2.4 .1 .6-.5 2 0 .4-.5 2.6 0 .4-.5 2 0 .6-.5 2.4 0 .6-.5 2 .2 .4-.5 2.6 0 .4-.5 2 0 .6-.5 2.4 .1 .6-.5 2.4 0 .6-.5 1.6 0 0 2 .8 .1 .6-.5 2.4 0 .6-.5 2 0 .4-.5 2.6 .2 .4-.5 8-.9 .6-.5 2.4 0 .6-.5 2.4 0 .6-.5 .4 2.8 1-.5 2.6 0 .4-.5 2.6 0 .4-.5 2.6 .3 .4-.5 2.6 0 .4-.5 2.6 0 .4-.5 2.6 0 0 2 .4 .5 9-1.5 .6 5.7 1-.5 6-.5 .4-.5 2.6 0 .4 6.1 .6-.5 3 0 .4-.5 3.6 0 .4-.5 2 0 .6 9 6.4-.5 .6-.5 4 0 .4-.5 1 0 .6 12.3 10-.5 1-.5 .4 10.4 1-.5 7 0 .6-.5 3 0 .4 20 1.6 0 .4-.5 11 0 0 30.4-13-.5-.4 32.7-1.6 0-.4-.5-4.6 0-.4-.5-4.6 0-.4 12.7-6.6-.5-.4-.5-3.6 0-.4-.5-.6 9.4-5.4-.5-.6-.5-3 0-.4-.5-2.6 0-.4-.5-.6 6.6-.4-.5-5.6-.5-.4-.5-3 0-.6-.5-.4 3.2-1.6 0-.4-.5-2.6 0-.4-.5-2.6 0-.4-.5-2 0-.6 5.1-2 0-.4-.5-2.6 0-.4-.5-2 0-.6-.5-1 0-.4 .4 0 2.6z"/>
<path fill="#ff9b00" d="M448.8 274.4l-4-.5-.6-.5-2.4 0-.6-.5-2 .2-.4-.5-2 0-.6-.5-2.4 0-.3 1.7-2.3 0-.4-.5-2.6 0-.4-.5-2 .2-.6-.5-2 0-.4-.5-2 0-.6-.5-4.4-.4-.6-.5-2.4 0-.6-.5-1.4 .1 0 2.1-.6-.5-4.4-.5-.6-.5-2 .1-.4-.5-4.6-.5-.4-.5-2 0-.6-.5-2 0-.4-.5-2 .1-.6-.5-2 0-.4-.5-2 0-.6-.5-2 0-.4-.5-2 0-.6-.5-2 .1-.4-.5-4.6-.5-.4-.5-2 0-.6-.5-2 0-.4-.5-2 .1-.6-.5-2 0-.4-.5-2 0-.6-.5-2 0-.4-.5-2 0-.6-.5-2 0-.4-.5-2 0-.6-.5-4.4-.6-.6-.5-2 0-.4-.5-2 0-.6-.5-2 0-.4-.5-2-.1-.6-.5-2 0-.4-.5-4.6-.5-.4-.5-2-.1-.6-.5-2 0-.4-.6-2 0-.6-.5-1.2 0 0-1.6-4.2-.6-.6-.5-2 0-.4-.5-2-.2-.6-.5-2.4-.1-.6-.5-2 0-.5-.5 0-1-1.5-.7-2 0-.4-.5-19-7.5-13.6-6.9-9.3-6-8.2-6.4-4.5-4.3-3.5-4.3-2.4-5-1.1-7 1-7.4 2.1-7.6 4.5-7 7.6-6.4 7.8-4.6 11.1-4.4 12.5-3.3 15-2.9 1.4-.9 5-.5 .6-.5 2 0 .4-.5 2.6 0 .4-.5 2 0 .6-.5 2.4 0 .6-.5 2 0 .4-.5 2.6 0 .4-.5 2.6 0 .4-.5 2 0 .6-.5 2.4 0 .6-.5 5-.5 .4-.5 2 0 .6-.5 2.4 0 .6-.5 2 0 .4-.5 2.6 0 .4-.5 2 0 .6-.5 5.4-.5 .6-.5 2 0 .4-.5 2.6 0 .4-.5 2 0 .6-.5 2.4 0 .6-.5 2 0 .4-.5 2.3 0 0 1.6 1.3 0 .4-.5 2 0 .6-.5 2.4 0 .6-.5 2.4 0 .6-.5 2.4 .1 .6-.5 2.4 0 .6-.5 2 0 .4-.5 2.6 .1 .4-.5 2.6 0 .4-.5 2.6 .1 .4-.5 2 0 .6-.5 2.4 .1 .6-.5 2.4 0 .6-.5 2.1 .1 0 1.4 2.9 .1 .4-.5 2.6 0 .4-.5 2.6 .2 .4-.5 8.6-.8 .4-.5 2.6 0 .4-.5 1 0 .3 2 1.3 .1 .4-.5 3 0 .6-.5 2.4 .2 .6-.5 2.4 0 .6-.5 2.4 0 .6-.5 3 .2 .4-.5 2.6 0 .4-.5 2.6 0 1-.5 0 2.5 .4 .3 .6-.5 3 0 .4-.5 2.6 0 .4-.5 1.6 0 .4 2.4 3 0 .6-.5 2.4 0 .6-.5 3 0 .4 2.6 5.6-.5 .4-.5 3 0 .6 5.4 6.4-.5 .6-.5 3 0 .4 5.7 4 0 .6-.5 4 0 .4-.5 1 0 .6 12.5 .4-.5 5 0 .6-.5 5.4 0 1-.5 .6 12.6 7.4 0 .6-.5 3 0 .4 15.8 11.6 0 0 35.8-6.6 0-.4-.5-4.6 0-.4 22.9-11-1-.6 15.1-3 0-.4-.5-3.6 0-.4-.5-3.6 0-.4-.5-1 0-.6 6.3-6-.5-.4-.5-3 0-.6-.5-.4 5.9-5.6-.5-.4-.5-2.6 0-.4-.5-1 0-.6 3.1-9-1.5 0 2.2-.4 .4-2.6 0-.4-.5-2.6 0-.4-.5-2.6 0-1-.5 0 2.5-.4 .5-1-.5-5-.5-.6-.5-2 0 0 2-.4 .4-8.6-1.5-.4 2.3z"/>
<path fill="#ff9300" d="M448.8 268.8l-2.6 0-.4-.5-2.6 0-.4-.5-2.6 .3-.4-.5-5-.5-.6-.5-.8 .2 0 2-1.6 0-.6-.5-2.4 0-.6-.5-2.4 .2-.6-.5-5-.5-.4-.5-2 .2-.6-.5-2.4 0-.6-.5-2 0-.4-.5-.9 0 0 2-1.1 .1-.6-.5-2 0-.4-.5-5-.4-.6-.5-2 0-.4-.5-2.6 .1-.4-.5-2 0-.6-.5-5-.4-.4-.5-4.6-.5-.4-.5-2.6 0-.4-.5-2 .1-.6-.5-2 0-.4-.5-2.6 0-.4-.5-2 0-.6-.5-2 0-.4-.5-2.6 0-.4-.5-2.5 .1-.1 1.5-.4-.5-2 0-.6-.5-2 0-.4-.5-2.6 0-.4-.5-2 0-.6-2.1-2 0-.4-.5-2 0-.6-.5-2.4 0-.6-.5-2-.1-.4-.5-5-.5-.6-.5-2 0-.4-.5-2-.1-.6-.5-2.4-.1-.6-.5-2 0-.4-.5-4.8-.7 0-1.4-1.2-.1-.6-.5-2 0-1-.6-2 0-.4-.5-2.6-.2-.4-.5-1.5-.2-.1-1.5-2.4 0-.6-.5-2-.1-.4-.5-1.6 0-12-4.8-12-5.3-8.9-5.3-8.8-7-6.7-7-4.4-6.4-1.4-4 .1-6.6 .9-6 1.2-4 3.4-6 6.4-6.4 8.8-5.8 7.4-3.3 11-3.1 9-2 5.6-1.1 1 .3 .4-.5 2.6 0 .4-.5 2.6 0 .4-.5 3 0 .6-.5 0-1 1-.1 .4-.5 2.6 0 .4-.5 2.6 0 .4-.5 5.6-.5 .4-.5 2.6 0 .4-.5 2.6-.1 .4-.5 2.6 0 .4-.5 2.6 0 .4-.5 2.6 0 .4-.5 2.6 0 .4-.5 2.6 0 .4-.5 2.6 0 .4-.5 2.6 0 .4-.5 2.6 0 .4-.5 2.6 0 .4-.5 2.6 0 .4-.5 2.6 0 .4-.5 2.6 0 .4-.5 2.6 0 .4-.5 2.6 0 .4-.5 2.6 .1 .4-.5 2.6 0 .4-.5 .5 0 .1 2.1 .4-.5 2.6 0 .4-.5 3 0 .6-.5 8.4-.9 .6-.5 3 .2 .4-.5 8.6-.9 .4-.5 3 0 .6-.5 .2 2 1.8 .1 .4-.5 2.6 0 .4-.5 3 .2 .6-.5 2.4 0 .6-.5 9.4-.8 .6-.5 .6 0 0 2 .4 .2 5.4-.5 .6-.5 3 .3 .4-.5 5.6-.5 .1 2.1 .3 .2 1.6 0 .4-.5 3 0 .6-.5 3 0 .4 .2 0 2.1 1.6 0 .4-.5 3 0 .6-.5 3 0 .4 .5 0 2.1 2 0 .6-.5 3.4 0 .6-.5 3 0 .4 2.7 3 0 .6-.5 3.4 0 .6-.5 1.4 0 .6 6 1-.5 4 0 .4-.5 4.6 0 .4 8.6 10-.5 .6 15 12.4-.5 .6 18.1 11 0 0 22.8-9.6 0-.4-.5-1 0-.6 28.3-2 0-.4-.5-5 0-.6-.5-4.4 0-.6 12.1-1.4 0-.6-.5-3.4 0-.6-.5-4 0-.4 5.5-3 0-.6-.5-6.4-.5-.6 5.3-5.4-.5-.6-.5-3 0-.4 2.7-1.6 0-.4-.5-3 0-.6-.5-2.4 0-.6-.5-1 0-.4 3-.6-.5-2.4 0-.6-.5-3 0-.4-.5-1.6 0-.4 2.5-1.6 0-.4-.5-2.6 0-.4-.5-2.6 0-1-.5-.3 .3-.1 2z"/>
<path fill="#ff8b00" d="M440.8 262.4l-5.6-.5-.4-.5-2.6 .2-.4-.5-2.6 0-.4-.5-2.6 0-.3 .2 0 1.4-2.7 .1-.4-.5-2.6 0-.4-.5-2.6 .2-.4-.5-2.6 0-.4-.5-8.6-.8-.4-.5-.8 0 0 2-1.2 .1-.6-.5-2 0-.4-.5-2.6 .1-.4-.5-2.6 0-.4-.5-2.6 .1-.4-.5-2 0-.6-.5-5.4-.4-.6-.5-2.4 0-.6-.5-2.4 0-.6-.5-2 0-.4-.5-2.6 .1-.4-.5-2.6 0-.4-.5-2.6 0-.4-.5-2 0-.6-.5-2.4 0-.6-.5-5.4-.5-.6-.5-2 0-.4-.5-2.6 0-.4-.5-5.6-.6-.4-.5-2 0-.6-.5-2.4 0-.6-.5-5.4-.7-.6-.5-2.4 0-.6-.6-4.3-.6 0-1.4-4.7-.7-.4-.5-2.6 0-.4-.7-2.6 0-.4-.5-2.6-.1-.4-.5-1.1 0 0-1-.9-.7-2.6 0-1-.7-2 0-1.4-1.2-14.6-5.5-8.3-3.9-7.5-5-5.6-5.6-5.6-7.4-3.2-8.6-.2-4 1.9-8.4 2.9-5.6 3.9-5 5.7-5.4 5.4-3.6 12.2-4 13-3.4 .4-.7 3 0 .6-.6 3 0 .4-.5 2.6-.1 .4-.5 6.6-.6 .4-.5 1.8-.1 0-1.4 5.8-.6 .4-.5 2.6-.1 .4-.5 3 0 .6-.5 2.4 0 .6-.5 3 0 .4-.5 6-.6 .6-.5 2.4 0 .6-.5 3 0 .4-.5 2.6 0 .4-.5 3 0 .6-.5 3 0 .4-.5 2.6 0 .4-.5 3 .1 .6-.5 2.4 0 .6-.5 3 0 .4-.5 2.6 0 .4-.5 3 .1 .6-.5 2.4 0 .6-.5 1.2 .1 0 1.4 3.2 .1 .6-.5 3 .1 .4-.5 3 0 .6-.5 3 .1 .4-.5 2.6 0 .4-.5 3 .1 .6-.5 3 0 .4-.5 1.8 .1 .2 2.2 1-.5 3 0 .6-.5 3 .2 .4-.5 3 0 .6-.5 3.3 .2 .1 1.5 3.6 0 .4-.5 10.6-.7 .4 2.3 1-.5 6.6-.5 .3 .4 .1 2 8.6-1 .4 .4 0 2.1 3.6 0 .4-.5 3.6 0 1-.5 .4 3.2 1.6 0 .4-.5 4 0 .6-.5 3 0 .4 5.4 3 0 .6-.5 5 0 .4-.5 .6 6.3 3 0 .4-.5 5.6 0 1-.5 .4 14.7 7 0 .6-.5 2.4 0 .5 24.8-.5 36.5-10-.5-.4 8.5-4.6 0-.4-.5-4 0-1-.5-.6 6-1.4 0-.6-.5-3.4 0-.6-.5-3 0-.4 5.3-1.6 0-.4-.5-3.6 0-.4-.5-3 0-.6-.5-.4 3.1-1 0-.6-.5-3 0-.4-.5-3.6 0-.1 2.2-.3 .3-1 0-.6-.5-2.4 0-.6-.5-3 0-1-.5-.1 2.2-.3 .3-3 0-.6-.5-3 0-1-.5-.4 2.3z"/>
<path fill="#ff8300" d="M410.8 255.4l-1 0-.6-.5-2.4 0-.6-.5-3 .2-.4-.5-2.6 0-.4-.5-3 .1-.6-.5-2.4 0-.6-.5-1.5 .1 0 1.4-2.9 .1-.6-.5-2.4 0-.6-.5-3 .1-.4-.5-2.6 0-.4-.5-2.6 .1-.4-.5-2.6 0-.4-.5-3 0-.6-.5-2.4 .1-.6-.5-2.4 0-.6-.5-2.4 0-.6-.5-3 0-.4-.5-5.6-.5-.4-.5-2.6-.1-.4-.5-6-.5-.6-.5-2.4-.1-.6-.5-2.4-.1-.6-.5-3 0-.7-.5-.3-1.6-3 0-1-.6-2 0-.4-.5-5.6-.6-1-.7-3 0-.2-1.6-1.2 0-.6-.5-5.4-.7-1-.7-3 0-.2-1.5-2.4-.2-.4-.5-13.3-4.9-6.7-3-5-3.3-3.2-3.1-2.2-4-.8-4 .9-5.6 3.7-10.3 2.4-10.7 1.8-5 2.9-3.4 4.5-3.2 5-2.6 9-3.5 .4-.6 3.4-.1 .2-1.6 6-.6 .4-.5 3-.2 .6-.5 3.4-.1 .6-.5 3 0 .4-.5 1.6-.1 0-1.4 6.4-.7 .6-.5 3.4-.1 .6-.5 6.4-.5 .6-.5 6.4-.6 .6-.5 6.4-.5 .6-.5 7-.5 .4-.5 3 0 .6-.5 3 0 .4-.5 6.6-.4 .4-.5 3 .1 .6-.5 3.4 0 .6-.5 3 .1 .4-.5 3 0 .6-.5 .9 0 .1 2.1 1-.5 3 0 .4-.5 3.6 .1 .4-.5 3 0 .6-.5 3.4 .2 .6-.5 3 0 .3 .1 .1 1.6 3 0 .6-.5 3.4 .3 .6-.5 7-.5 .4 2.3 .6-.5 6.4-.5 .5 .3 .1 2.1 1.4 0 .6-.5 3.4 0 .6-.5 1 0 .4 .4 2.6 0 .4-.5 4 0 .6-.5 .4 5.1 2.6 0 .4-.5 4.6 0 1-.5 .4 3.3 1-.5 5 0 .6-.5 2 0 .4 5.4 3.6 0 .4-.5 5.6 0 .4 5.7 3 0 .6-.5 5.4 0 .6 11.3 6 0 .4-.5 3.6 0 .3 21.2-.3 18-2.6 0-.4-.5-7 0-.6 17.3-1 0-.4-.5-5.6 0-.4-.5-1.6 0-.4 8.4-3 0-.6-.5-4 0-.4-.5-1.6 0-.4 3.3-1-.5-3.6 0-.4-.5-3.6 0-.4 4.7-3.6 0-.4-.5-3.6 0-1-.5-.4 3.1-.6-.5-3 0-.4-.5-3.6 0-.3 .3-.1 2-.6-.5-3 0-.4-.5-3 0-.6 .4-.4-.5-6.6-.5-.4 1.7-3 0-.6-.5-3 0-.4-.5-2.6 .3-.4-.5-3 0-.6-.5-1 0 0 2-.4 .2z"/>
<path fill="#ff7c00" d="M410.8 250.4l-6-.5-.6-.5-3 .1-.4-.5-6.6-.3-.4-.5-2.3 0 0 1.6-2.7 0-.6-.5-6.4-.4-.6-.5-6-.4-.4-.5-3 0-.6-.5-6.4-.5-.6-.5-2.4 0-.6-.5-3 0-.4-.5-3 0-.6-.5-3 0-.4-.5-3-.1-.6-.5-6-.6-.4-1.6-.6-.5-3 0-.4-.5-7-.7-.6-.5-3-.2-.4-.5-2.6 0-.4-1.6-5-.7-.6-.5-3.4-.2-.6-.5-2 0 0-1.6-.4-.2-2.6 0-1-.7-3 0-1-1.7-3-.5-.4-.7-15-6.2-4-2.5-2.9-2.5-1.5-2.4-.5-2.6 .9-4.4 3.7-10.6 2.2-10.4 1.2-3.6 1.9-2.6 3.4-2.7 5.6-3.1 5-2.2 .4-.8 3.2 0 0-1.6 3.8-.1 .6-.7 3 0 .4-1.7 2.6 0 .4-.5 3.6-.2 1.4-.6 3 0 1-.6 0-1 .6-.6 3.4 0 .6-.6 3.4 0 .6-.6 3.4 0 .6-.5 7.4-.6 .6-.5 3.4-.1 .6-.5 7.4-.5 .8-.5 0-1.6 2.2 0 .6-.5 3.4 0 .6-.5 3 0 .4-.5 .7 .1 0 1.4 3.9 .1 .4-.5 7.6-.4 .4-.5 3.6 0 .4-.5 3.6 .1 .4-.5 3.6 0 .4-.5 3 .1 .6-.5 2.9 .1 .1 1.6 3.4 0 .6-.5 3.4 .1 .6-.5 3.4 0 .6-.5 4 .3 .4-.5 3.6 0 .1 1.6 .3 .2 7.6-.5 .4 .3 0 2 .6-.5 4.4 0 .6-.5 4 .4 .4-.5 4 0 .6-.5 0 2.6 .4 .4 1-.5 4.6 0 .4-.5 1.6 0 .4 5.2 1 0 .6-.5 5 0 .4-.5 1.6 0 .4 3.3 .6-.5 6 0 .4-.5 1.6 0 .4 5.5 5.6 0 .4-.5 3.6 0 .4 8.4 5.6 0 .4-.5 3 0 .6 17.6 10 0 0 8.6-10 0-.6 20.3-7.4 0-.6-.5-1 0-.4 11.4-3 0-.6-.5-5.4 0-.6-.5-.4 5.5-8.6-.5-.4 2.7-2.6 0-.4-.5-4.6 0-1-.5-.4 5.1-1.6 0-.4-.5-3.6 0-.4-.5-3.6 .4-.4-.5-4 0-1-.5-.1 2-.5 .4-6.4-.5-.6-.5-.4 2.2-7-.5-.6-.5-.4 .4-2.6 0-.4-.5-3.6 0-.1 1.5-.3 .2z"/>
<path fill="#ff7400" d="M403.8 244.9l-1 0-.6-.5-3.4 0-.6-.5-3.4 .1-.6-.5-3 .1-.4-.5-3.6 0-.4-.5-3.6 .1-.4-.5-3.6 0-.4-.5-.2 2.1-.8 0-.6-.5-3.4 0-.6-.5-3 0-.4-.5-7-.5-.6-.5-3.4 0-.6-.5-2.1 0 0-1.6-.9-.5-3.4 0-.6-.5-3.4-.1-.6-.5-3.4-.1-.6-.5-3.4-.1-.6-.5-3 0-.3-.2 0-1.4-1.1-.6-3 0-1.6-.7-3.4-.2-.6-.5-3 0-.1-1.6-.3-.1-6-.8-.6-.5-1.1 0 0-1-1.3-.8-2.6 0-.4-.2 0-1.6-3 0-1-.8-3 0-.6-1.8-3 0-.4-1-12.6-5.9-2.5-1.9-1.1-1.6 0-2.4 3.1-10 2.2-11 .9-2.5 3-3.1 7-4 1-2 5-.4 .4-.5 1.2-.1 0-1 1.4-.2 .4-.5 5-.2 .6-.5 0-1 .4-.3 1.6 0 .4-.5 4.6-.2 1.1-.6 0-1 .9-.6 3.4 0 1.6-.7 7-.6 0-1.5 .4-.2 6-.6 .6-.5 4-.1 .4-.5 4-.1 .6-.5 4 0 .4-.5 4 0 1.1-.6 0-1.4 2.5-.1 .4-.5 3.6 0 .4-.5 4.4 .1 0 1.4 .6 .1 .6-.5 8.4-.5 .6-.5 4 .1 .4-.5 3.6 0 .4-.5 4 .1 .6-.5 4 .2 .4-.5 3.6 0 0 1.6 .4 .1 3.6 0 .4-.5 4 .3 .6-.5 4.4 0 .6-.5 .1 2.1 .3 .2 7.6-.5 .4 2.4 1-.5 5 0 1-.5 .5 .3 .1 2.1 4.4 0 .6-.5 2 0 .3 .4 .1 2.2 4.6 0 .4-.5 2.6 0 .4 2.7 5.6 0 .4-.5 2.6 0 .4 5.4 8.6-.5 .4 5.7 9.6-.5 .4 11.4 9 0 0 17.1-9 0-.4 19.6-3.6 0-.4-.5-5.6 0-.4 5.8-1.6 0-.4-.5-6 0-.6-.5-.4 5.3-8.6-.5-.4 2.6-1.6 0-.4-.5-4.6 0-1-.5-.4 2.9-.6-.5-4 0-.4-.5-2 0-.5 .3-.1 2.1-2 0-.4-.5-4 0-.6-.5-.4 .3-3.6 0-.4-.5-3.6 0-.4 1.9-3.6 0-.4-.5-4 .2-.6-.5-3.4 0-.6-.5-1 0-.1 2.1-.3 .1z"/>
<path fill="#ff6c00" d="M403.8 237.9l-1-.5-4 0-.6-.5-9-.2-.4-.5-3.8 0 0 1.6-2.2 0-.6-.5-4 0-.4-.5-4 0-.6-.5-4 0-.4-.5-7.5-.6 0-1.4-.5-.6-4 0-1-.6-4 0-.6-.5-4-.1-1.4-.7-3 0-.6-.5-1.1 0 0-1.6-.3-.1-3.6 0-1.4-.7-3.6 0-.7-.6 0-1-1.3-.7-2.4 0-2-.3-.6-.5-2 0 0-1.5-.4-.3-3.8-.3-.2-1.6-3.6 0-.4-1.9-2.6 0-1.4-.9-3 0-.1-1.6-.5-.4-3.4 0-.6-2-3 0-.4-1.9-3.8-2.1-1.3-1.6-.1-2.4 2.8-14 2.4-2.7 .4-1.7 1-.5 2 0 .6-1.5 3 0 1-2 3 0 .4-1.9 3.6 0 .4-1.9 3 0 1-.8 3.6 0 0-1.6 .4-.3 4 0 .4-1.7 1.2-.1 .4-.5 5.6-.2 1.2-.6 .2-1.7 4.6 0 1-.7 4 0 1-.6 3.4 0 .1-1.6 1.5-.1 .4-.5 9-.6 1-.5 4.6 0 .4-.6 4.6 0 .4-.5 4.6 0 .4-.5 4.6 .1 .4-.5 9.6-.3 .4-.5 4.6 0 .4-.5 .1 2 .5 .2 2 0 .4-.5 5 .3 .6-.5 5 0 .1 1.5 .3 .3 4 0 .6-.5 2 0 .3 .2 .1 2.1 2.6 0 .4-.5 4.6 0 .4 .4 0 2.1 1 0 .6-.5 5.4 0 .5 .4 .1 2.1 1.4 0 .6-.5 5 0 .4 2.7 7.6-.5 .4 5.4 1.6 0 .4-.5 6.6 0 .4 5.6 8.6-.5 .4 8.7 9.6 0 0 11-9.6 0-.4 16.8-.6-.5-8 0-.4 5.1-7 0-.6-.5-1 0-.4 5.2-2.6 0-.4-.5-4.6 0-.4 .5 0 2-2 0-.6-.5-4.4 0-.6 .4-.4-.5-5.6 0-1-.5 0 2.1-.4 .3-7.6-.5-.4 2.4-1-.5-4.6 0-.4-.5-4.6 .2-.4-.5-2.6 0 0 2.1-.4 .1z"/>
<path fill="#ff6500" d="M384.8 228.8l-3.6 0-.4-.5-5 .1-.6-.5-5.4 0-.6-.5-5-.1-.4-.5-2.2 0 0-1.6-.4-.1-2.4 0-.6-.5-5.4-.2-.6-.5-1.4 0-.5-.1-.1-1.6-4 0-.4-.8-4.6 0-.4-1.9-2.6 0-.4-.5-1.6 0-.4-1.9-4 0-.6-2-3.4 0-.6-2-4 0-.4-2.1-3.6 0-.4-2.2-3.6 0-.4-3.2-2.6 0-1.1-.8-.3-4.6 .4-3.4 3.6-.1 .4-2.3 3.6 0 .4-3.2 3.6 0 .4-2.1 4 0 .6-2.1 3.4 0 .6-2 3.4 0 .8-.8 0-1 1.2-.7 3.6 0 .4-1.9 4 0 1-.8 4 0 .1-1.6 .5-.2 10.4-1.2 .1-1.6 .5-.1 9-.6 .4-.5 6 0 .6-.5 5.4 .1 .6-.5 6 .1 .4-.5 1 0 .6 2.2 1.4 0 .6-.5 6.4 .2 .6-.5 3 0 .4 2.4 1 0 .6-.5 5 0 .3 .2 .1 2.2 1-.5 5.6 0 .4 2.5 1 0 .6-.5 6 0 .4 2.7 7-.5 .6 4.7 7 0 .4 5 7.6 0 .4 8 8.6 0 0 11-5 0-.6-.5-3 0-.4 5.7-5.6 0-.4-.5-1.6 0-.4 3.2-.6-.5-6.4 0-.6 4.6-4.4 0-.6-.5-2 0-.4 .5 0 2-5 0-.6-.5-2 0-.4 .5 0 2-3.6 0-.4-.5-6 .3-.6-.5-3 0-.4 2.3-1 0-.6-.5-6 .2-.4-.5-5.6 .1-.4-.5-4.6 0 0 1.6-.4 0z"/>
<path fill="#ff5d00" d="M391.2 208.9l-13.4 .3-.6-.5-10-.2-.4-1.9-4.6 0-.4-.5-.6-4-5 0 0-3.9 5 0 .6-6.5 5 0 .4-2 4.6 0 1-.7 12 0 .3 .2 .1 1.7 6 0 .6 2.2 5.4 0 .4 7.1-.4 6.7-5.4 0-.6 2z"/>
</g>
<g stroke="#a0a0a0" stroke-width="1" stroke-dasharray="2 3" shape-rendering="crispEdges" fill="none">
<path d="M143.5 13V389"/>
<path d="M237.5 13V389"/>
<path d="M331.5 13V389"/>
<path d="M425.5 13V389"/>
<path d="M519.5 13V389"/>
<path d="M59 69.5H613"/>
<path d="M59 135.5H613"/>
<path d="M59 200.5H613"/>
<path d="M59 265.5H613"/>
<path d="M59 331.5H613"/>
</g>
<text transform="translate(550.5,33.0) scale(1,0.92)" textLength="14" lengthAdjust="spacing">10</text>
<path d="M572 28.5H607" stroke="#00c000" stroke-width="1" shape-rendering="crispEdges"/>
<text transform="translate(557.5,46.0) scale(1,0.92)">8</text>
<path d="M572 41.5H607" stroke="#0080ff" stroke-width="1" shape-rendering="crispEdges"/>
<text transform="translate(557.5,59.0) scale(1,0.92)">5</text>
<path d="M572 54.5H607" stroke="#c000ff" stroke-width="1" shape-rendering="crispEdges"/>
<text transform="translate(557.5,72.0) scale(1,0.92)">2</text>
<path d="M572 67.5H607" stroke="#00eeee" stroke-width="1" shape-rendering="crispEdges"/>
<text transform="translate(557.5,85.0) scale(1,0.92)">1</text>
<path d="M572 80.5H607" stroke="#c04000" stroke-width="1" shape-rendering="crispEdges"/>
<g fill="none" stroke-width="1" shape-rendering="crispEdges">
<path d="M393 152.5h32M379 153.5h14M425 153.5h9M369 154.5h10M434 154.5h7M362 155.5h7M441 155.5h6M354 156.5h8M447 156.5h3M347 157.5h7M450 157.5h4M341 158.5h6M454 158.5h3M335 159.5h6M457 159.5h4M331 160.5h4M461 160.5h3M325 161.5h6M321 162.5h4M465 162.5h3M317 163.5h4M468 163.5h3M312 164.5h5M308 165.5h4M472 165.5h3M305 166.5h3M301 167.5h4M476 167.5h3M298 168.5h3M295 169.5h3M480 169.5h2M291 171.5h3M483 171.5h2M289 172.5h2M287 173.5h2M486 173.5h2M283 176.5h2M278 226.5h3M282 228.5h3M285 229.5h3M289 231.5h3M292 232.5h3M295 233.5h3M298 234.5h2M300 235.5h5M305 236.5h3M308 237.5h2M310 238.5h3M313 239.5h4M317 240.5h3M320 241.5h5M325 242.5h2M478 242.5h2M327 243.5h5M476 243.5h2M332 244.5h4M474 244.5h2M336 245.5h4M472 245.5h2M340 246.5h6M469 246.5h3M346 247.5h4M466 247.5h3M350 248.5h6M463 248.5h3M356 249.5h6M460 249.5h3M362 250.5h6M456 250.5h4M368 251.5h7M450 251.5h6M375 252.5h9M445 252.5h5M384 253.5h12M433 253.5h12M396 254.5h37M270.5 209v8M271.5 207v2M271.5 217v3M272.5 204v3M272.5 220v1M273.5 201v3M273.5 221v1M274.5 199v2M274.5 222v1M275.5 195v4M275.5 223v1M276.5 190v5M276.5 224v1M277.5 186v4M277.5 225v1M278.5 182v4M279.5 181v1M280.5 179v2M281.5 178v1M281.5 227v1M282.5 177v1M285.5 175v1M286.5 174v1M288.5 230v1M294.5 170v1M464.5 161v1M471.5 164v1M475.5 166v1M479.5 168v1M480.5 241v1M481.5 240v1M482.5 170v1M482.5 239v1M483.5 238v1M484.5 237v1M485.5 172v1M485.5 236v1M486.5 235v1M487.5 234v1M488.5 174v1M488.5 233v1M489.5 175v1M489.5 232v1M490.5 176v1M490.5 229v3M491.5 177v1M491.5 228v1M492.5 178v1M492.5 225v3M493.5 179v1M493.5 224v1M494.5 180v1M494.5 221v3M495.5 181v2M495.5 220v1M496.5 183v2M496.5 217v3M497.5 185v1M497.5 216v1M498.5 186v1M498.5 214v2M499.5 187v3M499.5 212v2M500.5 190v3M500.5 209v3M501.5 193v6M501.5 205v4M502.5 199v6" stroke="#00c000"/>
<path d="M447 132.5h28M435 133.5h12M475 133.5h8M422 134.5h13M483 134.5h4M410 135.5h12M487 135.5h4M400 136.5h10M491 136.5h2M392 137.5h8M493 137.5h4M384 138.5h8M497 138.5h2M378 139.5h6M499 139.5h2M372 140.5h6M364 141.5h8M502 141.5h2M358 142.5h6M504 142.5h2M354 143.5h4M506 143.5h2M348 144.5h6M342 145.5h6M509 145.5h2M336 146.5h6M511 146.5h2M332 147.5h4M326 148.5h6M514 148.5h2M320 149.5h6M314 150.5h6M310 151.5h4M304 152.5h6M519 152.5h2M298 153.5h6M292 154.5h6M288 155.5h4M282 156.5h6M278 157.5h4M274 158.5h4M270 159.5h4M526 159.5h2M266 160.5h4M264 161.5h2M529 162.5h2M259 163.5h4M257 164.5h2M255 165.5h2M252 167.5h2M250 168.5h2M248 169.5h2M245 172.5h2M240 215.5h2M243 218.5h2M246 220.5h2M249 223.5h2M251 224.5h2M254 226.5h2M256 227.5h2M258 228.5h2M261 231.5h2M263 232.5h2M265 233.5h2M267 234.5h3M270 235.5h2M272 236.5h2M274 237.5h2M276 238.5h2M279 240.5h2M281 241.5h4M285 242.5h2M287 243.5h2M289 244.5h2M291 245.5h3M294 246.5h2M296 247.5h4M300 248.5h2M302 249.5h4M306 250.5h2M308 251.5h4M312 252.5h2M314 253.5h4M318 254.5h3M531 254.5h2M321 255.5h2M323 256.5h4M327 257.5h4M331 258.5h4M527 258.5h2M335 259.5h4M339 260.5h4M343 261.5h6M524 261.5h2M349 262.5h4M522 262.5h2M353 263.5h4M357 264.5h6M519 264.5h2M363 265.5h4M517 265.5h2M367 266.5h6M373 267.5h4M514 267.5h2M377 268.5h6M510 268.5h4M383 269.5h6M508 269.5h2M389 270.5h6M504 270.5h4M395 271.5h6M500 271.5h4M401 272.5h8M496 272.5h4M409 273.5h6M490 273.5h6M415 274.5h8M484 274.5h6M423 275.5h12M476 275.5h8M435 276.5h41M234.5 192v13M235.5 188v4M235.5 205v4M236.5 184v4M236.5 209v1M237.5 183v1M237.5 210v2M238.5 181v2M238.5 212v1M239.5 179v2M239.5 213v2M240.5 177v2M241.5 176v1M242.5 175v1M242.5 216v2M243.5 174v1M244.5 173v1M245.5 219v1M247.5 170v2M248.5 221v2M253.5 225v1M254.5 166v1M260.5 229v2M263.5 162v1M278.5 239v1M501.5 140v1M508.5 144v1M513.5 147v1M516.5 149v1M516.5 266v1M517.5 150v1M518.5 151v1M521.5 153v1M521.5 263v1M522.5 154v1M523.5 155v1M524.5 156v1M525.5 157v2M526.5 259v2M528.5 160v2M529.5 257v1M530.5 255v2M531.5 163v1M532.5 164v1M533.5 165v1M533.5 252v2M534.5 166v1M534.5 251v1M535.5 167v1M535.5 250v1M536.5 168v1M536.5 249v1M537.5 169v1M537.5 248v1M538.5 170v1M538.5 246v2M539.5 171v1M539.5 244v2M540.5 172v1M540.5 242v2M541.5 173v1M541.5 241v1M542.5 174v1M542.5 239v2M543.5 175v1M543.5 237v2M544.5 176v2M544.5 235v2M545.5 178v1M545.5 233v2M546.5 179v1M546.5 230v3M547.5 180v1M547.5 228v2M548.5 181v2M548.5 226v2M549.5 183v2M549.5 222v4M550.5 185v1M550.5 220v2M551.5 186v4M551.5 216v4M552.5 190v4M552.5 210v6M553.5 194v16" stroke="#0080ff"/>
<path d="M506 88.5h28M495 89.5h11M534 89.5h9M486 90.5h9M543 90.5h5M478 91.5h8M548 91.5h3M470 92.5h8M551 92.5h5M464 93.5h6M556 93.5h3M458 94.5h6M559 94.5h3M453 95.5h5M562 95.5h2M447 96.5h6M564 96.5h3M442 97.5h5M567 97.5h3M436 98.5h6M570 98.5h2M431 99.5h5M572 99.5h2M428 100.5h3M423 101.5h5M575 101.5h2M417 102.5h6M577 102.5h2M414 103.5h3M409 104.5h5M580 104.5h2M406 105.5h3M401 106.5h5M583 106.5h2M395 107.5h6M585 107.5h2M392 108.5h3M587 108.5h2M387 109.5h5M589 109.5h2M384 110.5h3M379 111.5h5M592 111.5h2M373 112.5h6M594 112.5h3M370 113.5h3M597 113.5h3M365 114.5h5M362 115.5h3M357 116.5h5M351 117.5h6M348 118.5h3M343 119.5h5M340 120.5h3M335 121.5h5M332 122.5h3M326 123.5h6M324 124.5h2M318 125.5h6M316 126.5h2M313 127.5h3M307 128.5h6M305 129.5h2M302 130.5h3M299 131.5h3M294 132.5h5M291 133.5h3M289 134.5h2M286 135.5h3M283 136.5h3M281 137.5h2M278 138.5h3M275 139.5h3M273 140.5h2M270 141.5h3M267 142.5h3M265 143.5h2M262 144.5h3M260 145.5h2M257 146.5h3M255 147.5h2M253 148.5h2M251 149.5h2M249 150.5h2M247 151.5h2M244 152.5h3M242 153.5h2M239 155.5h2M237 156.5h2M234 157.5h3M232 158.5h2M229 160.5h2M227 161.5h2M225 162.5h2M223 163.5h2M219 165.5h3M217 166.5h2M213 169.5h2M211 170.5h2M213 230.5h2M215 231.5h2M217 232.5h3M220 233.5h2M222 234.5h3M225 235.5h3M228 236.5h3M231 237.5h2M233 238.5h3M236 239.5h3M239 240.5h2M241 241.5h3M244 242.5h3M247 243.5h2M250 245.5h2M252 246.5h2M254 247.5h3M257 248.5h2M259 249.5h2M261 250.5h2M264 252.5h3M267 253.5h2M269 254.5h2M271 255.5h2M273 256.5h2M275 257.5h2M277 258.5h3M280 259.5h2M282 260.5h3M285 261.5h3M288 262.5h2M290 263.5h3M293 264.5h2M295 265.5h3M298 266.5h3M301 267.5h2M303 268.5h3M306 269.5h3M309 270.5h2M311 271.5h3M314 272.5h5M319 273.5h3M322 274.5h3M325 275.5h2M327 276.5h6M333 277.5h3M336 278.5h2M338 279.5h6M344 280.5h2M346 281.5h3M349 282.5h6M355 283.5h2M357 284.5h6M363 285.5h3M366 286.5h5M371 287.5h3M374 288.5h5M594 288.5h2M379 289.5h3M592 289.5h2M382 290.5h6M590 290.5h2M388 291.5h2M390 292.5h6M587 292.5h2M396 293.5h3M584 293.5h3M399 294.5h5M582 294.5h2M404 295.5h6M579 295.5h3M410 296.5h2M577 296.5h2M412 297.5h6M574 297.5h3M418 298.5h5M571 298.5h3M423 299.5h6M569 299.5h2M429 300.5h3M566 300.5h3M432 301.5h5M563 301.5h3M437 302.5h6M558 302.5h5M443 303.5h8M555 303.5h3M451 304.5h6M549 304.5h6M457 305.5h8M544 305.5h5M465 306.5h9M535 306.5h9M474 307.5h13M524 307.5h11M487 308.5h37M204.5 213v8M205.5 210v3M205.5 221v2M206.5 177v11M206.5 208v2M206.5 223v1M207.5 174v3M207.5 188v6M207.5 205v3M207.5 224v1M208.5 173v1M208.5 194v11M208.5 225v1M209.5 172v1M209.5 226v1M210.5 171v1M210.5 227v1M211.5 228v1M212.5 229v1M215.5 168v1M216.5 167v1M222.5 164v1M231.5 159v1M241.5 154v1M249.5 244v1M263.5 251v1M574.5 100v1M579.5 103v1M582.5 105v1M589.5 291v1M591.5 110v1M596.5 287v1M597.5 286v1M598.5 285v1M599.5 284v1M600.5 114v1M601.5 115v1M602.5 116v1" stroke="#c000ff"/>
<path d="M595 35.5h7M591 36.5h4M580 37.5h11M569 38.5h11M562 39.5h7M558 40.5h4M551 41.5h7M544 42.5h7M540 43.5h4M533 44.5h7M529 45.5h4M522 46.5h7M518 47.5h4M511 48.5h7M507 49.5h4M504 50.5h3M497 51.5h7M493 52.5h4M489 53.5h4M482 54.5h7M479 55.5h3M475 56.5h4M471 57.5h4M468 58.5h3M464 59.5h4M457 60.5h7M454 61.5h3M450 62.5h4M446 63.5h4M443 64.5h3M439 65.5h4M436 66.5h3M432 67.5h4M429 68.5h3M425 69.5h4M422 70.5h3M418 71.5h4M411 72.5h7M407 73.5h4M404 74.5h3M400 75.5h4M396 76.5h4M389 77.5h7M386 78.5h3M382 79.5h4M379 80.5h3M371 81.5h8M368 82.5h3M364 83.5h4M361 84.5h3M357 85.5h4M350 86.5h7M346 87.5h4M343 88.5h3M339 89.5h4M336 90.5h3M332 91.5h4M328 92.5h4M325 93.5h3M321 94.5h4M318 95.5h3M314 96.5h4M311 97.5h3M307 98.5h4M304 99.5h3M300 100.5h4M297 101.5h3M293 102.5h4M289 103.5h4M286 104.5h3M282 105.5h4M279 106.5h3M276 107.5h3M274 108.5h2M272 109.5h2M268 110.5h4M265 111.5h3M261 112.5h4M259 113.5h2M257 114.5h2M255 115.5h2M251 116.5h4M248 117.5h3M245 118.5h3M243 119.5h2M241 120.5h2M237 121.5h4M235 122.5h2M233 123.5h2M231 124.5h2M227 125.5h4M225 126.5h2M223 127.5h2M220 128.5h3M218 129.5h2M216 130.5h2M213 132.5h2M210 134.5h2M207 136.5h2M204 138.5h2M198 143.5h2M188 249.5h2M193 254.5h2M199 259.5h2M202 261.5h2M205 263.5h2M207 264.5h3M210 265.5h2M212 266.5h2M214 267.5h2M216 268.5h4M220 269.5h3M223 270.5h4M227 271.5h3M230 272.5h4M234 273.5h3M237 274.5h7M244 275.5h3M247 276.5h2M249 277.5h3M252 278.5h3M255 279.5h4M259 280.5h3M262 281.5h4M266 282.5h3M269 283.5h3M272 284.5h2M274 285.5h2M276 286.5h3M279 287.5h4M283 288.5h2M285 289.5h2M287 290.5h3M290 291.5h3M293 292.5h4M297 293.5h3M300 294.5h4M304 295.5h2M306 296.5h2M308 297.5h3M311 298.5h3M314 299.5h4M318 300.5h3M321 301.5h4M325 302.5h3M328 303.5h4M332 304.5h3M335 305.5h4M339 306.5h4M343 307.5h3M346 308.5h4M350 309.5h3M353 310.5h4M357 311.5h3M360 312.5h4M364 313.5h3M367 314.5h3M370 315.5h2M372 316.5h2M374 317.5h4M378 318.5h3M381 319.5h4M385 320.5h3M388 321.5h4M392 322.5h3M395 323.5h4M399 324.5h4M403 325.5h3M406 326.5h4M410 327.5h3M413 328.5h4M417 329.5h3M420 330.5h4M424 331.5h3M427 332.5h4M431 333.5h3M434 334.5h4M438 335.5h3M441 336.5h4M445 337.5h4M449 338.5h3M452 339.5h4M456 340.5h3M459 341.5h7M466 342.5h4M470 343.5h4M474 344.5h3M477 345.5h7M484 346.5h4M488 347.5h4M492 348.5h7M499 349.5h3M502 350.5h8M510 351.5h3M513 352.5h8M521 353.5h7M528 354.5h7M535 355.5h11M546 356.5h11M557 357.5h18M575 358.5h11M586 359.5h12M598 360.5h5M168.5 192v19M169.5 189v3M169.5 211v4M170.5 185v4M170.5 215v7M171.5 182v3M171.5 222v2M172.5 178v4M172.5 224v2M173.5 176v2M173.5 226v3M174.5 174v2M174.5 229v2M175.5 172v2M175.5 231v2M176.5 170v2M176.5 233v1M177.5 168v2M177.5 234v2M178.5 167v1M178.5 236v1M179.5 165v2M179.5 237v2M180.5 164v1M180.5 239v1M181.5 162v2M181.5 240v2M182.5 161v1M182.5 242v1M183.5 159v2M183.5 243v1M184.5 158v1M184.5 244v1M185.5 157v1M185.5 245v1M186.5 156v1M186.5 246v2M187.5 155v1M187.5 248v1M188.5 153v2M189.5 152v1M190.5 151v1M190.5 250v1M191.5 150v1M191.5 251v2M192.5 149v1M192.5 253v1M193.5 148v1M194.5 147v1M195.5 146v1M195.5 255v1M196.5 145v1M196.5 256v1M197.5 144v1M197.5 257v1M198.5 258v1M200.5 142v1M201.5 141v1M201.5 260v1M202.5 140v1M203.5 139v1M204.5 262v1M206.5 137v1M209.5 135v1M212.5 133v1M215.5 131v1M602.5 34v1" stroke="#00eeee"/>
<path d="M583 8.5h4M579 9.5h4M575 10.5h4M572 11.5h3M568 12.5h4M564 13.5h4M560 14.5h4M552 15.5h8M548 16.5h4M544 17.5h4M540 18.5h4M536 19.5h4M532 20.5h4M528 21.5h4M521 22.5h7M517 23.5h4M513 24.5h4M509 25.5h4M505 26.5h4M501 27.5h4M497 28.5h4M493 29.5h4M489 30.5h4M485 31.5h4M481 32.5h4M477 33.5h4M473 34.5h4M469 35.5h4M466 36.5h3M462 37.5h4M458 38.5h4M454 39.5h4M450 40.5h4M446 41.5h4M442 42.5h4M438 43.5h4M434 44.5h4M430 45.5h4M426 46.5h4M418 47.5h8M414 48.5h4M410 49.5h4M407 50.5h3M403 51.5h4M399 52.5h4M395 53.5h4M391 54.5h4M387 55.5h4M383 56.5h4M375 57.5h8M371 58.5h4M367 59.5h4M363 60.5h4M359 61.5h4M355 62.5h4M351 63.5h4M347 64.5h4M344 65.5h3M340 66.5h4M332 67.5h8M328 68.5h4M324 69.5h4M320 70.5h4M316 71.5h4M313 72.5h3M311 73.5h2M308 74.5h3M304 75.5h4M301 76.5h3M297 77.5h4M294 78.5h3M292 79.5h2M289 80.5h3M285 81.5h4M282 82.5h3M280 83.5h2M278 84.5h2M275 85.5h3M273 86.5h2M271 87.5h2M269 88.5h2M266 89.5h3M264 90.5h2M262 91.5h2M260 92.5h2M258 93.5h2M256 94.5h2M254 95.5h2M252 96.5h2M249 97.5h3M247 98.5h2M244 100.5h2M242 101.5h2M240 102.5h2M238 103.5h2M236 104.5h2M233 106.5h2M231 107.5h2M229 108.5h2M226 110.5h2M224 111.5h2M222 112.5h2M219 114.5h2M216 116.5h2M214 117.5h2M209 121.5h2M206 123.5h2M204 124.5h2M202 125.5h2M196 130.5h2M192 133.5h2M189 135.5h2M183 140.5h2M176 146.5h2M173 148.5h2M176 257.5h2M185 265.5h2M187 266.5h2M192 270.5h2M198 275.5h2M201 277.5h2M203 278.5h2M208 282.5h2M211 284.5h2M213 285.5h2M215 286.5h2M218 288.5h2M220 289.5h2M222 290.5h2M224 291.5h2M226 292.5h3M229 293.5h2M231 294.5h2M233 295.5h2M235 296.5h2M237 297.5h3M240 298.5h2M242 299.5h3M245 300.5h3M248 301.5h2M250 302.5h2M252 303.5h3M255 304.5h2M257 305.5h3M260 306.5h4M264 307.5h3M267 308.5h2M269 309.5h3M272 310.5h3M275 311.5h3M278 312.5h2M280 313.5h3M283 314.5h4M287 315.5h3M290 316.5h2M292 317.5h2M294 318.5h4M298 319.5h4M302 320.5h4M306 321.5h4M310 322.5h3M313 323.5h2M315 324.5h3M318 325.5h4M322 326.5h3M325 327.5h4M329 328.5h4M333 329.5h4M337 330.5h4M341 331.5h4M345 332.5h4M349 333.5h4M353 334.5h4M357 335.5h4M361 336.5h3M364 337.5h4M368 338.5h4M372 339.5h3M375 340.5h2M377 341.5h3M380 342.5h4M384 343.5h4M388 344.5h4M392 345.5h4M396 346.5h3M399 347.5h3M402 348.5h2M404 349.5h3M407 350.5h4M411 351.5h4M415 352.5h4M419 353.5h4M423 354.5h4M427 355.5h2M429 356.5h2M431 357.5h3M434 358.5h4M438 359.5h4M442 360.5h4M446 361.5h4M450 362.5h4M454 363.5h4M458 364.5h4M462 365.5h2M464 366.5h2M466 367.5h3M469 368.5h4M473 369.5h4M477 370.5h4M481 371.5h4M485 372.5h4M489 373.5h4M493 374.5h4M497 375.5h4M501 376.5h8M509 377.5h3M512 378.5h4M516 379.5h4M520 380.5h4M524 381.5h4M528 382.5h8M536 383.5h4M540 384.5h4M544 385.5h8M552 386.5h4M556 387.5h8M564 388.5h4M568 389.5h8M576 390.5h4M580 391.5h8M588 392.5h8M596 393.5h4M151.5 174v2M151.5 225v2M152.5 172v2M152.5 227v1M153.5 171v1M153.5 228v2M154.5 169v2M154.5 230v2M155.5 168v1M155.5 232v2M156.5 167v1M156.5 234v1M157.5 165v2M157.5 235v1M158.5 164v1M158.5 236v2M159.5 163v1M159.5 238v1M160.5 162v1M160.5 239v2M161.5 161v1M161.5 241v1M162.5 159v2M162.5 242v1M163.5 158v1M163.5 243v1M164.5 157v1M164.5 244v1M165.5 156v1M165.5 245v1M166.5 155v1M166.5 246v1M167.5 154v1M167.5 247v1M168.5 153v1M168.5 248v1M169.5 152v1M169.5 249v1M170.5 151v1M170.5 250v1M171.5 150v1M171.5 251v2M172.5 149v1M172.5 253v1M173.5 254v1M174.5 255v1M175.5 147v1M175.5 256v1M178.5 145v1M178.5 258v1M179.5 144v1M179.5 259v1M180.5 143v1M180.5 260v1M181.5 142v1M181.5 261v1M182.5 141v1M182.5 262v1M183.5 263v1M184.5 264v1M185.5 139v1M186.5 138v1M187.5 137v1M188.5 136v1M189.5 267v1M190.5 268v1M191.5 134v1M191.5 269v1M194.5 132v1M194.5 271v1M195.5 131v1M195.5 272v1M196.5 273v1M197.5 274v1M198.5 129v1M199.5 128v1M200.5 127v1M200.5 276v1M201.5 126v1M205.5 279v1M206.5 280v1M207.5 281v1M208.5 122v1M210.5 283v1M211.5 120v1M212.5 119v1M213.5 118v1M217.5 287v1M218.5 115v1M221.5 113v1M228.5 109v1M235.5 105v1M246.5 99v1" stroke="#c04000"/>
</g>
<g stroke="#000" stroke-width="1" fill="none" shape-rendering="crispEdges">
<rect x="49.5" y="3.5" width="564" height="394"/>
<path d="M143.5 4V12M143.5 397V389"/>
<path d="M237.5 4V12M237.5 397V389"/>
<path d="M331.5 4V12M331.5 397V389"/>
<path d="M425.5 4V12M425.5 397V389"/>
<path d="M519.5 4V12M519.5 397V389"/>
<path d="M50 69.5H58"/>
<path d="M50 135.5H58"/>
<path d="M50 200.5H58"/>
<path d="M50 265.5H58"/>
<path d="M50 331.5H58"/>
</g>
<text transform="translate(11.6,7.7) scale(1,0.92)" textLength="28" lengthAdjust="spacing">-1.5</text>
<text transform="translate(25.6,73.7) scale(1,0.92)" textLength="14" lengthAdjust="spacing">-1</text>
<text transform="translate(11.6,139.7) scale(1,0.92)" textLength="28" lengthAdjust="spacing">-0.5</text>
<text transform="translate(32.6,204.7) scale(1,0.92)">0</text>
<text transform="translate(18.6,269.7) scale(1,0.92)" textLength="21" lengthAdjust="spacing">0.5</text>
<text transform="translate(32.6,335.7) scale(1,0.92)">1</text>
<text transform="translate(18.6,401.7) scale(1,0.92)" textLength="21" lengthAdjust="spacing">1.5</text>
<text transform="translate(49.0,418.5) scale(1,0.92)">0</text>
<text transform="translate(143.0,418.5) scale(1,0.92)">2</text>
<text transform="translate(237.0,418.5) scale(1,0.92)">4</text>
<text transform="translate(331.0,418.5) scale(1,0.92)">6</text>
<text transform="translate(425.0,418.5) scale(1,0.92)">8</text>
<text transform="translate(516.0,418.5) scale(1,0.92)" textLength="14" lengthAdjust="spacing">10</text>
<text transform="translate(610.0,418.5) scale(1,0.92)" textLength="14" lengthAdjust="spacing">12</text>
<g clip-path="url(#xl)"><text transform="translate(288.0,437.6) scale(1,0.92)" textLength="84" lengthAdjust="spacing">alpha [Grad]</text></g>
<text transform="translate(12.2,240.5) rotate(-90) scale(1,0.92)" textLength="77" lengthAdjust="spacing">beta [Grad]</text>

<rect x="10" y="436" width="641" height="10" fill="#000" shape-rendering="crispEdges"/>
<g shape-rendering="crispEdges">
<rect x="10.9" y="437" width="5.3" height="8" fill="#5010c0"/>
<rect x="15.9" y="437" width="5.3" height="8" fill="#4c0fc3"/>
<rect x="20.9" y="437" width="5.3" height="8" fill="#480ec6"/>
<rect x="25.9" y="437" width="5.3" height="8" fill="#450ec9"/>
<rect x="30.9" y="437" width="5.3" height="8" fill="#410dcc"/>
<rect x="35.9" y="437" width="5.3" height="8" fill="#3d0ccf"/>
<rect x="40.9" y="437" width="5.3" height="8" fill="#3a0cd2"/>
<rect x="45.9" y="437" width="5.3" height="8" fill="#360bd5"/>
<rect x="50.8" y="437" width="5.3" height="8" fill="#320ad8"/>
<rect x="55.8" y="437" width="5.3" height="8" fill="#2e09db"/>
<rect x="60.8" y="437" width="5.3" height="8" fill="#2a08de"/>
<rect x="65.8" y="437" width="5.3" height="8" fill="#2708e0"/>
<rect x="70.8" y="437" width="5.3" height="8" fill="#2307e3"/>
<rect x="75.8" y="437" width="5.3" height="8" fill="#1f06e6"/>
<rect x="80.8" y="437" width="5.3" height="8" fill="#1c06e9"/>
<rect x="85.8" y="437" width="5.3" height="8" fill="#1805ec"/>
<rect x="90.8" y="437" width="5.3" height="8" fill="#1404ef"/>
<rect x="95.8" y="437" width="5.3" height="8" fill="#1003f2"/>
<rect x="100.8" y="437" width="5.3" height="8" fill="#0c02f5"/>
<rect x="105.8" y="437" width="5.3" height="8" fill="#0902f8"/>
<rect x="110.8" y="437" width="5.3" height="8" fill="#0501fb"/>
<rect x="115.8" y="437" width="5.3" height="8" fill="#0100fe"/>
<rect x="120.7" y="437" width="5.3" height="8" fill="#0008ff"/>
<rect x="125.7" y="437" width="5.3" height="8" fill="#0014ff"/>
<rect x="130.7" y="437" width="5.3" height="8" fill="#0020ff"/>
<rect x="135.7" y="437" width="5.3" height="8" fill="#002cff"/>
<rect x="140.7" y="437" width="5.3" height="8" fill="#0038ff"/>
<rect x="145.7" y="437" width="5.3" height="8" fill="#0044ff"/>
<rect x="150.7" y="437" width="5.3" height="8" fill="#0050ff"/>
<rect x="155.7" y="437" width="5.3" height="8" fill="#005cff"/>
<rect x="160.7" y="437" width="5.3" height="8" fill="#0068ff"/>
<rect x="165.7" y="437" width="5.3" height="8" fill="#0074ff"/>
<rect x="170.7" y="437" width="5.3" height="8" fill="#0080ff"/>
<rect x="175.7" y="437" width="5.3" height="8" fill="#008bff"/>
<rect x="180.7" y="437" width="5.3" height="8" fill="#0097ff"/>
<rect x="185.7" y="437" width="5.3" height="8" fill="#00a3ff"/>
<rect x="190.6" y="437" width="5.3" height="8" fill="#00afff"/>
<rect x="195.6" y="437" width="5.3" height="8" fill="#00bbff"/>
<rect x="200.6" y="437" width="5.3" height="8" fill="#00c7ff"/>
<rect x="205.6" y="437" width="5.3" height="8" fill="#00d3ff"/>
<rect x="210.6" y="437" width="5.3" height="8" fill="#00dfff"/>
<rect x="215.6" y="437" width="5.3" height="8" fill="#00ebff"/>
<rect x="220.6" y="437" width="5.3" height="8" fill="#00f7ff"/>
<rect x="225.6" y="437" width="5.3" height="8" fill="#00fffd"/>
<rect x="230.6" y="437" width="5.3" height="8" fill="#00fff7"/>
<rect x="235.6" y="437" width="5.3" height="8" fill="#00fff1"/>
<rect x="240.6" y="437" width="5.3" height="8" fill="#00ffeb"/>
<rect x="245.6" y="437" width="5.3" height="8" fill="#00ffe5"/>
<rect x="250.6" y="437" width="5.3" height="8" fill="#00ffdf"/>
<rect x="255.6" y="437" width="5.3" height="8" fill="#00ffd9"/>
<rect x="260.6" y="437" width="5.3" height="8" fill="#00ffd3"/>
<rect x="265.5" y="437" width="5.3" height="8" fill="#00ffcd"/>
<rect x="270.5" y="437" width="5.3" height="8" fill="#00ffc7"/>
<rect x="275.5" y="437" width="5.3" height="8" fill="#00ffc1"/>
<rect x="280.5" y="437" width="5.3" height="8" fill="#00ffbb"/>
<rect x="285.5" y="437" width="5.3" height="8" fill="#00ffb5"/>
<rect x="290.5" y="437" width="5.3" height="8" fill="#00ffaf"/>
<rect x="295.5" y="437" width="5.3" height="8" fill="#00ffa9"/>
<rect x="300.5" y="437" width="5.3" height="8" fill="#00ffa3"/>
<rect x="305.5" y="437" width="5.3" height="8" fill="#00ff9d"/>
<rect x="310.5" y="437" width="5.3" height="8" fill="#00ff97"/>
<rect x="315.5" y="437" width="5.3" height="8" fill="#00ff91"/>
<rect x="320.5" y="437" width="5.3" height="8" fill="#00ff8b"/>
<rect x="325.5" y="437" width="5.3" height="8" fill="#00ff85"/>
<rect x="330.5" y="437" width="5.3" height="8" fill="#00ff80"/>
<rect x="335.4" y="437" width="5.3" height="8" fill="#00ff7a"/>
<rect x="340.4" y="437" width="5.3" height="8" fill="#00ff74"/>
<rect x="345.4" y="437" width="5.3" height="8" fill="#00ff6e"/>
<rect x="350.4" y="437" width="5.3" height="8" fill="#00ff68"/>
<rect x="355.4" y="437" width="5.3" height="8" fill="#00ff62"/>
<rect x="360.4" y="437" width="5.3" height="8" fill="#00ff5c"/>
<rect x="365.4" y="437" width="5.3" height="8" fill="#00ff56"/>
<rect x="370.4" y="437" width="5.3" height="8" fill="#00ff50"/>
<rect x="375.4" y="437" width="5.3" height="8" fill="#00ff4a"/>
<rect x="380.4" y="437" width="5.3" height="8" fill="#00ff44"/>
<rect x="385.4" y="437" width="5.3" height="8" fill="#00ff3e"/>
<rect x="390.4" y="437" width="5.3" height="8" fill="#00ff38"/>
<rect x="395.4" y="437" width="5.3" height="8" fill="#00ff32"/>
<rect x="400.4" y="437" width="5.3" height="8" fill="#00ff2c"/>
<rect x="405.3" y="437" width="5.3" height="8" fill="#00ff26"/>
<rect x="410.3" y="437" width="5.3" height="8" fill="#00ff20"/>
<rect x="415.3" y="437" width="5.3" height="8" fill="#00ff1a"/>
<rect x="420.3" y="437" width="5.3" height="8" fill="#00ff14"/>
<rect x="425.3" y="437" width="5.3" height="8" fill="#00ff0e"/>
<rect x="430.3" y="437" width="5.3" height="8" fill="#00ff08"/>
<rect x="435.3" y="437" width="5.3" height="8" fill="#00ff02"/>
<rect x="440.3" y="437" width="5.3" height="8" fill="#fffc00"/>
<rect x="445.3" y="437" width="5.3" height="8" fill="#fff800"/>
<rect x="450.3" y="437" width="5.3" height="8" fill="#fff400"/>
<rect x="455.3" y="437" width="5.3" height="8" fill="#fff000"/>
<rect x="460.3" y="437" width="5.3" height="8" fill="#ffeb00"/>
<rect x="465.3" y="437" width="5.3" height="8" fill="#ffe700"/>
<rect x="470.3" y="437" width="5.3" height="8" fill="#ffe300"/>
<rect x="475.2" y="437" width="5.3" height="8" fill="#ffdf00"/>
<rect x="480.2" y="437" width="5.3" height="8" fill="#ffda00"/>
<rect x="485.2" y="437" width="5.3" height="8" fill="#ffd600"/>
<rect x="490.2" y="437" width="5.3" height="8" fill="#ffd200"/>
<rect x="495.2" y="437" width="5.3" height="8" fill="#ffce00"/>
<rect x="500.2" y="437" width="5.3" height="8" fill="#ffca00"/>
<rect x="505.2" y="437" width="5.3" height="8" fill="#ffc500"/>
<rect x="510.2" y="437" width="5.3" height="8" fill="#ffc100"/>
<rect x="515.2" y="437" width="5.3" height="8" fill="#ffbd00"/>
<rect x="520.2" y="437" width="5.3" height="8" fill="#ffb900"/>
<rect x="525.2" y="437" width="5.3" height="8" fill="#ffb400"/>
<rect x="530.2" y="437" width="5.3" height="8" fill="#ffb000"/>
<rect x="535.2" y="437" width="5.3" height="8" fill="#ffac00"/>
<rect x="540.2" y="437" width="5.3" height="8" fill="#ffa800"/>
<rect x="545.2" y="437" width="5.3" height="8" fill="#ffa200"/>
<rect x="550.1" y="437" width="5.3" height="8" fill="#ff9b00"/>
<rect x="555.1" y="437" width="5.3" height="8" fill="#ff9300"/>
<rect x="560.1" y="437" width="5.3" height="8" fill="#ff8b00"/>
<rect x="565.1" y="437" width="5.3" height="8" fill="#ff8300"/>
<rect x="570.1" y="437" width="5.3" height="8" fill="#ff7c00"/>
<rect x="575.1" y="437" width="5.3" height="8" fill="#ff7400"/>
<rect x="580.1" y="437" width="5.3" height="8" fill="#ff6c00"/>
<rect x="585.1" y="437" width="5.3" height="8" fill="#ff6500"/>
<rect x="590.1" y="437" width="5.3" height="8" fill="#ff5d00"/>
<rect x="595.1" y="437" width="5.3" height="8" fill="#ff5500"/>
<rect x="600.1" y="437" width="5.3" height="8" fill="#ff4d00"/>
<rect x="605.1" y="437" width="5.3" height="8" fill="#ff4600"/>
<rect x="610.1" y="437" width="5.3" height="8" fill="#ff3e00"/>
<rect x="615.1" y="437" width="5.3" height="8" fill="#ff3600"/>
<rect x="620.0" y="437" width="5.3" height="8" fill="#ff2e00"/>
<rect x="625.0" y="437" width="5.3" height="8" fill="#ff2700"/>
<rect x="630.0" y="437" width="5.3" height="8" fill="#ff1f00"/>
<rect x="635.0" y="437" width="5.3" height="8" fill="#ff1700"/>
<rect x="640.0" y="437" width="5.3" height="8" fill="#ff0f00"/>
<rect x="645.0" y="437" width="5.3" height="8" fill="#ff0800"/>
</g>
<g stroke="#000" stroke-width="1" shape-rendering="crispEdges">
<path d="M11.5 436V446"/>
<path d="M10.5 436V446"/>
<path d="M66.5 437V440M66.5 442V445"/>
<path d="M98.5 437V440M98.5 442V445"/>
<path d="M121.5 437V440M121.5 442V445"/>
<path d="M139.5 437V440M139.5 442V445"/>
<path d="M153.5 437V440M153.5 442V445"/>
<path d="M166.5 437V440M166.5 442V445"/>
<path d="M176.5 437V440M176.5 442V445"/>
<path d="M186.5 437V440M186.5 442V445"/>
<path d="M194.5 436V446"/>
<path d="M250.5 437V440M250.5 442V445"/>
<path d="M282.5 437V440M282.5 442V445"/>
<path d="M305.5 437V440M305.5 442V445"/>
<path d="M323.5 437V440M323.5 442V445"/>
<path d="M337.5 437V440M337.5 442V445"/>
<path d="M350.5 437V440M350.5 442V445"/>
<path d="M360.5 437V440M360.5 442V445"/>
<path d="M370.5 437V440M370.5 442V445"/>
<path d="M378.5 436V446"/>
<path d="M433.5 437V440M433.5 442V445"/>
<path d="M466.5 437V440M466.5 442V445"/>
<path d="M489.5 437V440M489.5 442V445"/>
<path d="M506.5 437V440M506.5 442V445"/>
<path d="M521.5 437V440M521.5 442V445"/>
<path d="M533.5 437V440M533.5 442V445"/>
<path d="M544.5 437V440M544.5 442V445"/>
<path d="M553.5 437V440M553.5 442V445"/>
<path d="M562.5 436V446"/>
<path d="M617.5 437V440M617.5 442V445"/>
</g>
<text transform="translate(0.3,463.2) scale(1,0.92)" textLength="28" lengthAdjust="spacing">0.01</text>
<text transform="translate(187.0,463.2) scale(1,0.92)" textLength="21" lengthAdjust="spacing">0.1</text>
<text transform="translate(378.0,463.2) scale(1,0.92)">1</text>
<text transform="translate(558.5,463.2) scale(1,0.92)" textLength="14" lengthAdjust="spacing">10</text>
<text transform="translate(308.5,485.6) scale(1,0.92)" textLength="42" lengthAdjust="spacing">E [lx]</text>
</svg></body></html>
